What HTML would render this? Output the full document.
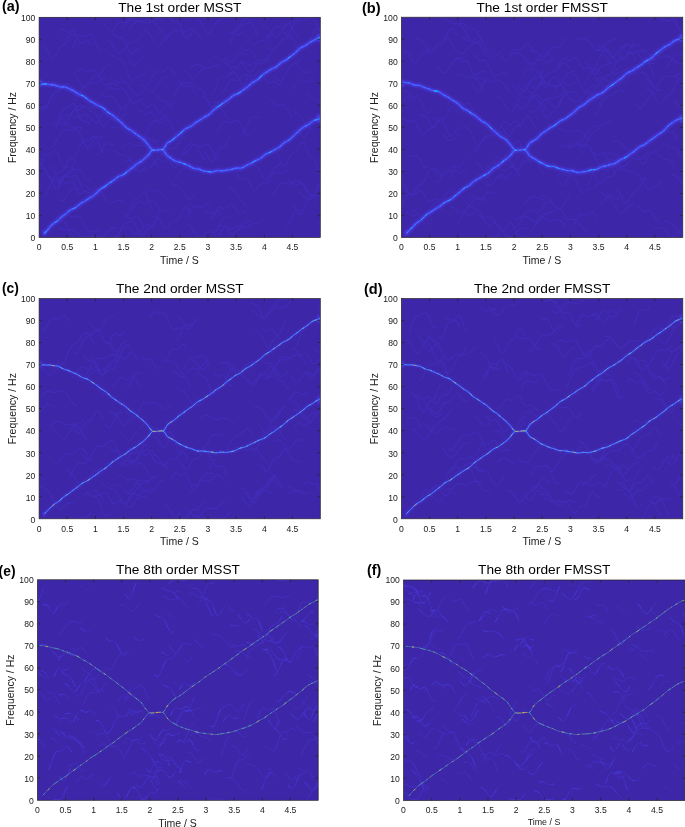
<!DOCTYPE html>
<html lang="en">
<head>
<meta charset="utf-8">
<title>MSST and FMSST time-frequency results</title>
<style>
html,body{margin:0;padding:0;background:#fff;}
body{width:685px;height:827px;overflow:hidden;}
svg{display:block;font-family:"Liberation Sans",Arial,Helvetica,sans-serif;}
.ln{fill:none;stroke-linecap:round;stroke-linejoin:round;mix-blend-mode:lighten;}
.ln2{fill:none;stroke-linecap:butt;stroke-linejoin:round;}
.ax{fill:none;stroke:#262626;stroke-width:0.7;}
.tk{font-size:8.6px;fill:#202020;}
.lb{font-size:10.5px;fill:#202020;}
.tt{font-size:13.7px;fill:#000;}
.pl{font-size:14.4px;font-weight:bold;fill:#000;}
</style>
</head>
<body>
<svg width="685" height="827" viewBox="0 0 685 827">
<defs>
<filter id="parula" color-interpolation-filters="sRGB" x="0" y="0" width="100%" height="100%" filterUnits="objectBoundingBox"><feComponentTransfer><feFuncR type="table" tableValues="0.2422 0.2504 0.2578 0.2647 0.2706 0.2751 0.2783 0.2803 0.2813 0.2810 0.2795 0.2760 0.2699 0.2602 0.2440 0.2206 0.1963 0.1834 0.1786 0.1764 0.1687 0.1540 0.1460 0.1380 0.1248 0.1113 0.0952 0.0689 0.0297 0.0036 0.0067 0.0433 0.0964 0.1408 0.1717 0.1938 0.2161 0.2470 0.2906 0.3406 0.3909 0.4456 0.5044 0.5616 0.6174 0.6720 0.7242 0.7738 0.8203 0.8634 0.9035 0.9393 0.9728 0.9956 0.9970 0.9952 0.9892 0.9786 0.9676 0.9610 0.9597 0.9628 0.9691 0.9769"/><feFuncG type="table" tableValues="0.1504 0.1650 0.1818 0.1978 0.2147 0.2342 0.2559 0.2782 0.3006 0.3228 0.3447 0.3667 0.3892 0.4123 0.4358 0.4603 0.4847 0.5074 0.5289 0.5499 0.5703 0.5902 0.6091 0.6276 0.6459 0.6635 0.6798 0.6948 0.7082 0.7203 0.7312 0.7411 0.7500 0.7584 0.7670 0.7758 0.7843 0.7918 0.7973 0.8008 0.8029 0.8024 0.7993 0.7942 0.7876 0.7793 0.7698 0.7598 0.7498 0.7406 0.7330 0.7288 0.7298 0.7434 0.7659 0.7893 0.8136 0.8386 0.8639 0.8890 0.9135 0.9373 0.9606 0.9839"/><feFuncB type="table" tableValues="0.6603 0.7076 0.7511 0.7952 0.8364 0.8710 0.8991 0.9221 0.9414 0.9579 0.9717 0.9829 0.9906 0.9952 0.9988 0.9973 0.9892 0.9798 0.9682 0.9520 0.9359 0.9218 0.9079 0.8973 0.8883 0.8763 0.8598 0.8394 0.8163 0.7917 0.7660 0.7394 0.7120 0.6842 0.6554 0.6251 0.5923 0.5567 0.5188 0.4789 0.4354 0.3909 0.3480 0.3045 0.2612 0.2227 0.1910 0.1646 0.1535 0.1596 0.1774 0.2010 0.2394 0.2371 0.2199 0.2028 0.1885 0.1766 0.1643 0.1537 0.1423 0.1265 0.1064 0.0805"/></feComponentTransfer></filter>
<filter id="b03" color-interpolation-filters="sRGB" filterUnits="userSpaceOnUse" x="0" y="0" width="685" height="827"><feGaussianBlur stdDeviation="0.3"/></filter>
<filter id="b05" color-interpolation-filters="sRGB" filterUnits="userSpaceOnUse" x="0" y="0" width="685" height="827"><feGaussianBlur stdDeviation="0.5"/></filter>
<filter id="b07" color-interpolation-filters="sRGB" filterUnits="userSpaceOnUse" x="0" y="0" width="685" height="827"><feGaussianBlur stdDeviation="0.7"/></filter>
<filter id="b1" color-interpolation-filters="sRGB" filterUnits="userSpaceOnUse" x="0" y="0" width="685" height="827"><feGaussianBlur stdDeviation="1.0"/></filter>
<filter id="b12" color-interpolation-filters="sRGB" filterUnits="userSpaceOnUse" x="0" y="0" width="685" height="827"><feGaussianBlur stdDeviation="1.2"/></filter>
<filter id="b2" color-interpolation-filters="sRGB" filterUnits="userSpaceOnUse" x="0" y="0" width="685" height="827"><feGaussianBlur stdDeviation="2.0"/></filter>
<clipPath id="clipa"><rect x="39.1" y="17.3" width="281.2" height="220.1"/></clipPath>
<clipPath id="clipb"><rect x="401.4" y="17.2" width="281.4" height="220.4"/></clipPath>
<clipPath id="clipc"><rect x="39.1" y="298.4" width="281.2" height="220.4"/></clipPath>
<clipPath id="clipd"><rect x="401.4" y="298.4" width="281.4" height="220.4"/></clipPath>
<clipPath id="clipe"><rect x="37.4" y="579.8" width="280.8" height="220.5"/></clipPath>
<clipPath id="clipf"><rect x="403.5" y="580.0" width="281.4" height="220.4"/></clipPath>
</defs>
<defs><path id="ra" d="M44.7 233.1 L45.6 232.2 L46.5 231.1 L47.4 230.1 L48.4 228.9 L49.3 227.8 L50.2 226.6 L51.1 225.6 L52.0 224.7 L52.9 224.0 L53.8 223.3 L54.7 222.7 L55.6 222.1 L56.5 221.6 L57.4 220.9 L58.3 220.1 L59.2 219.3 L60.1 218.4 L61.0 217.5 L61.9 216.7 L62.8 216.0 L63.8 215.2 L64.7 214.6 L65.6 213.9 L66.5 213.1 L67.4 212.4 L68.3 211.6 L69.2 210.9 L70.1 210.2 L71.0 209.7 L71.9 209.2 L72.8 208.9 L73.7 208.5 L74.6 208.1 L75.5 207.6 L76.4 207.0 L77.3 206.2 L78.2 205.4 L79.2 204.7 L80.1 203.9 L81.0 203.2 L81.9 202.7 L82.8 202.2 L83.7 201.7 L84.6 201.3 L85.5 200.8 L86.4 200.2 L87.3 199.6 L88.2 199.0 L89.1 198.3 L90.0 197.8 L90.9 197.2 L91.8 196.7 L92.7 196.2 L93.6 195.5 L94.6 194.8 L95.5 194.0 L96.4 193.1 L97.3 192.1 L98.2 191.1 L99.1 190.3 L100.0 189.5 L100.9 188.9 L101.8 188.3 L102.7 187.8 L103.6 187.3 L104.5 186.7 L105.4 186.1 L106.3 185.4 L107.2 184.7 L108.1 184.0 L109.0 183.3 L110.0 182.7 L110.9 182.1 L111.8 181.5 L112.7 180.9 L113.6 180.3 L114.5 179.6 L115.4 178.9 L116.3 178.1 L117.2 177.4 L118.1 176.8 L119.0 176.3 L119.9 175.9 L120.8 175.6 L121.7 175.3 L122.6 175.0 L123.5 174.5 L124.4 173.9 L125.4 173.3 L126.3 172.5 L127.2 171.7 L128.1 170.9 L129.0 170.2 L129.9 169.5 L130.8 168.9 L131.7 168.2 L132.6 167.6 L133.5 166.8 L134.4 166.1 L135.3 165.3 L136.2 164.5 L137.1 163.8 L138.0 163.2 L138.9 162.6 L139.8 162.1 L140.8 161.6 L141.7 161.1 L142.6 160.4 L143.5 159.6 L144.4 158.7 L148.3 155.1 L151.1 151.3 L152.8 150.0 M162.4 149.6 L164.1 148.3 L166.9 143.2 L170.8 141.0 L172.2 140.1 L173.6 139.0 L174.9 137.8 L176.3 136.6 L177.6 135.5 L179.0 134.5 L180.3 133.4 L181.7 132.1 L183.1 130.9 L184.4 129.7 L185.8 128.7 L187.1 128.0 L188.5 127.5 L189.9 126.9 L191.2 126.1 L192.6 125.0 L193.9 123.9 L195.3 122.8 L196.7 121.9 L198.0 121.1 L199.4 120.4 L200.7 119.5 L202.1 118.6 L203.4 117.6 L204.8 116.8 L206.2 116.1 L207.5 115.5 L208.9 114.6 L210.2 113.5 L211.6 112.1 L213.0 110.7 L214.3 109.4 L215.7 108.3 L217.0 107.4 L218.4 106.5 L219.7 105.6 L221.1 104.6 L222.5 103.5 L223.8 102.5 L225.2 101.7 L226.5 100.8 L227.9 99.9 L229.3 98.9 L230.6 97.7 L232.0 96.5 L233.3 95.5 L234.7 94.8 L236.1 94.3 L237.4 93.8 L238.8 93.2 L240.1 92.3 L241.5 91.3 L242.8 90.2 L244.2 89.3 L245.6 88.3 L246.9 87.4 L248.3 86.2 L249.6 85.0 L251.0 83.8 L252.4 82.7 L253.7 81.9 L255.1 81.1 L256.4 80.4 L257.8 79.4 L259.2 78.2 L260.5 76.8 L261.9 75.5 L263.2 74.4 L264.6 73.5 L265.9 72.6 L267.3 71.8 L268.7 70.8 L270.0 69.9 L271.4 69.1 L272.7 68.5 L274.1 68.0 L275.5 67.3 L276.8 66.4 L278.2 65.3 L279.5 64.1 L280.9 62.9 L282.3 61.9 L283.6 61.2 L285.0 60.5 L286.3 59.7 L287.7 58.7 L289.0 57.6 L290.4 56.5 L291.8 55.5 L293.1 54.6 L294.5 53.5 L295.8 52.3 L297.2 50.9 L298.6 49.6 L299.9 48.4 L301.3 47.4 L302.6 46.8 L304.0 46.2 L305.4 45.5 L306.7 44.6 L308.1 43.6 L309.4 42.6 L310.8 41.8 L312.1 41.1 L313.5 40.5 L314.9 39.8 L316.2 39.1 L317.6 38.4 L318.9 37.9 L320.3 37.5 M40.8 83.8 L41.7 84.0 L42.7 84.0 L43.6 84.0 L44.6 84.0 L45.5 84.0 L46.4 84.1 L47.4 84.3 L48.3 84.4 L49.3 84.6 L50.2 84.7 L51.1 84.8 L52.1 84.8 L53.0 84.8 L54.0 85.0 L54.9 85.2 L55.9 85.5 L56.8 85.8 L57.7 86.2 L58.7 86.6 L59.6 86.8 L60.6 87.0 L61.5 87.0 L62.4 87.0 L63.4 86.9 L64.3 87.0 L65.3 87.2 L66.2 87.4 L67.2 87.8 L68.1 88.3 L69.0 88.7 L70.0 89.1 L70.9 89.6 L71.9 90.0 L72.8 90.4 L73.7 90.9 L74.7 91.5 L75.6 92.2 L76.6 92.8 L77.5 93.5 L78.5 94.0 L79.4 94.5 L80.3 94.9 L81.3 95.2 L82.2 95.5 L83.2 96.0 L84.1 96.5 L85.0 97.2 L86.0 97.9 L86.9 98.7 L87.9 99.5 L88.8 100.2 L89.8 100.9 L90.7 101.4 L91.6 101.9 L92.6 102.4 L93.5 102.9 L94.5 103.5 L95.4 104.1 L96.3 104.6 L97.3 105.1 L98.2 105.6 L99.2 106.0 L100.1 106.3 L101.1 106.7 L102.0 107.2 L102.9 107.8 L103.9 108.6 L104.8 109.4 L105.8 110.4 L106.7 111.2 L107.6 112.0 L108.6 112.7 L109.5 113.4 L110.5 113.9 L111.4 114.5 L112.4 115.1 L113.3 115.8 L114.2 116.6 L115.2 117.4 L116.1 118.2 L117.1 119.0 L118.0 119.8 L118.9 120.5 L119.9 121.2 L120.8 122.0 L121.8 122.9 L122.7 123.9 L123.7 124.9 L124.6 125.9 L125.5 126.9 L126.5 127.7 L127.4 128.4 L128.4 128.9 L129.3 129.4 L130.2 129.9 L131.2 130.4 L132.1 131.0 L133.1 131.6 L134.0 132.4 L135.0 133.2 L135.9 134.0 L136.8 134.7 L137.8 135.3 L138.7 135.9 L139.7 136.6 L140.6 137.2 L141.5 137.9 L142.5 138.7 L143.4 139.5 L144.4 140.2 L148.3 145.0 L151.1 148.7 L152.8 150.0 M162.4 149.6 L164.1 151.1 L166.9 155.5 L170.8 158.1 L172.2 159.2 L173.6 160.1 L174.9 160.9 L176.3 161.3 L177.6 161.6 L179.0 161.9 L180.3 162.3 L181.7 162.8 L183.1 163.4 L184.4 163.9 L185.8 164.4 L187.1 164.9 L188.5 165.5 L189.9 166.2 L191.2 167.1 L192.6 167.9 L193.9 168.4 L195.3 168.7 L196.7 168.8 L198.0 169.0 L199.4 169.3 L200.7 169.8 L202.1 170.4 L203.4 170.9 L204.8 171.2 L206.2 171.4 L207.5 171.5 L208.9 171.7 L210.2 171.9 L211.6 172.0 L213.0 171.8 L214.3 171.4 L215.7 171.0 L217.0 170.6 L218.4 170.5 L219.7 170.6 L221.1 170.8 L222.5 170.9 L223.8 170.7 L225.2 170.5 L226.5 170.1 L227.9 169.9 L229.3 169.7 L230.6 169.6 L232.0 169.3 L233.3 168.9 L234.7 168.5 L236.1 168.2 L237.4 168.1 L238.8 168.2 L240.1 168.2 L241.5 168.0 L242.8 167.5 L244.2 166.8 L245.6 165.9 L246.9 165.2 L248.3 164.5 L249.6 163.9 L251.0 163.3 L252.4 162.5 L253.7 161.7 L255.1 160.9 L256.4 160.3 L257.8 159.7 L259.2 159.1 L260.5 158.3 L261.9 157.3 L263.2 156.1 L264.6 155.0 L265.9 154.0 L267.3 153.4 L268.7 152.8 L270.0 152.3 L271.4 151.6 L272.7 150.9 L274.1 150.0 L275.5 149.3 L276.8 148.6 L278.2 147.8 L279.5 146.9 L280.9 145.8 L282.3 144.5 L283.6 143.3 L285.0 142.3 L286.3 141.5 L287.7 140.8 L289.0 139.9 L290.4 138.9 L291.8 137.6 L293.1 136.2 L294.5 134.9 L295.8 133.7 L297.2 132.6 L298.6 131.4 L299.9 130.1 L301.3 128.8 L302.6 127.7 L304.0 126.8 L305.4 126.1 L306.7 125.4 L308.1 124.7 L309.4 123.8 L310.8 122.7 L312.1 121.7 L313.5 120.8 L314.9 120.2 L316.2 119.7 L317.6 119.4 L318.9 118.9 L320.3 118.5 M152.8 150.0 L155.1 150.4 L160.7 149.5 L162.4 149.6"/><path id="tea" d="M214.1 56.5 L215.2 56.3 L216.2 56.8 L217.3 57.8 L218.3 58.9 L219.4 59.8 L220.4 60.3 L221.5 60.2 L222.5 59.7 L223.5 59.2 L224.6 58.8 L225.6 59.1 L226.7 60.0 L227.7 61.7 L228.8 64.0 L229.8 66.5 L230.9 68.8 M43.7 46.1 L45.6 47.5 L47.6 50.5 L49.5 54.6 L51.4 58.0 L53.4 58.6 L55.3 56.1 L57.2 51.9 L59.2 48.2 L61.1 46.2 L63.0 45.3 L65.0 44.0 L66.9 41.0 L68.8 36.9 L70.8 33.8 L72.7 33.5 L74.6 36.4 M57.3 187.8 L59.5 183.7 L61.8 178.8 L64.0 175.9 L66.2 175.8 L68.4 177.1 L70.6 177.3 L72.8 176.1 L75.0 175.1 L77.3 176.9 L79.5 181.7 L81.7 187.6 L83.9 191.6 L86.1 192.6 L88.3 192.3 L90.5 192.8 L92.7 194.9 M141.2 84.5 L142.8 85.3 L144.4 86.6 L146.0 88.4 L147.6 90.2 L149.3 91.6 L150.9 92.3 L152.5 91.9 L154.1 90.5 L155.7 88.2 L157.3 85.5 L159.0 82.9 L160.6 80.6 L162.2 79.0 L163.8 78.0 L165.4 77.6 L167.1 77.2 M173.1 95.8 L174.3 94.2 L175.5 92.2 L176.7 90.0 L177.9 87.6 L179.2 85.5 L180.4 83.9 L181.6 82.7 L182.8 82.2 L184.0 82.1 L185.2 82.4 L186.4 82.8 L187.6 83.2 L188.8 83.3 L190.1 83.1 L191.3 82.5 L192.5 81.8 M319.1 101.4 L320.3 103.3 L320.3 104.5 L320.3 104.9 L320.3 104.6 L320.3 104.1 L320.3 104.0 L320.3 104.7 L320.3 106.5 L320.3 109.1 L320.3 111.8 L320.3 114.0 L320.3 115.3 L320.3 115.3 L320.3 114.3 L320.3 112.8 L320.3 111.6 M70.0 113.9 L72.3 111.8 L74.6 109.0 L77.0 106.6 L79.3 105.3 L81.7 105.4 L84.0 106.5 L86.4 107.9 L88.7 108.6 L91.1 108.4 L93.4 107.3 L95.7 106.3 L98.1 106.2 L100.4 107.5 L102.8 110.3 L105.1 113.7 L107.5 116.9 M56.0 216.9 L57.1 218.4 L58.1 219.7 L59.2 220.8 L60.3 221.4 L61.3 221.7 L62.4 221.7 L63.5 221.8 L64.6 222.2 L65.6 223.0 L66.7 224.5 L67.8 226.6 L68.8 229.0 L69.9 231.6 L71.0 234.0 L72.1 235.9 L73.1 236.7 M210.1 230.6 L211.4 231.9 L212.6 232.7 L213.9 232.8 L215.1 232.1 L216.4 230.5 L217.6 228.4 L218.9 225.9 L220.1 223.3 L221.4 221.0 L222.7 219.2 L223.9 217.9 L225.2 217.2 L226.4 216.9 L227.7 216.9 L228.9 216.8 L230.2 216.5 M221.9 93.0 L223.8 91.3 L225.7 88.2 L227.6 84.6 L229.5 81.6 L231.4 79.9 L233.3 79.6 L235.3 80.1 L237.2 80.5 L239.1 79.9 L241.0 78.3 L242.9 76.2 L244.8 74.7 L246.7 74.7 L248.6 76.2 L250.5 78.9 L252.4 81.7 M55.1 129.0 L57.2 125.0 L59.4 118.0 L61.6 111.9 L63.8 108.9 L65.9 108.3 L68.1 107.4 L70.3 105.0 L72.5 103.1 L74.6 104.5 L76.8 109.8 L79.0 116.2 L81.2 120.3 L83.3 121.1 L85.5 121.0 L87.7 122.1 L89.9 124.0 M143.1 103.8 L145.1 105.8 L147.0 106.9 L149.0 106.0 L150.9 104.5 L152.9 104.2 L154.8 106.3 L156.8 109.8 L158.7 112.3 L160.7 112.3 L162.6 109.8 L164.6 107.1 L166.5 105.8 L168.5 106.2 L170.4 106.6 L172.4 105.1 L174.3 101.4 M58.6 227.0 L61.2 228.8 L63.8 229.6 L66.3 229.6 L68.9 229.2 L71.5 229.2 L74.0 230.2 L76.6 232.4 L79.1 235.4 L81.7 236.7 L84.3 236.7 L86.8 236.7 L89.4 236.7 L92.0 236.7 L94.5 236.7 L97.1 236.4 L99.7 236.5 M105.3 91.1 L107.6 88.1 L109.9 87.5 L112.2 88.3 L114.5 89.1 L116.8 89.0 L119.1 88.2 L121.4 87.7 L123.7 88.8 L126.0 92.0 L128.3 96.5 L130.6 100.7 L132.9 103.1 L135.2 103.3 L137.5 101.8 L139.8 100.1 L142.0 99.2 M82.0 141.1 L83.3 142.7 L84.7 144.5 L86.1 145.9 L87.4 146.7 L88.8 146.5 L90.2 145.3 L91.5 143.4 L92.9 141.2 L94.3 139.1 L95.6 137.5 L97.0 136.6 L98.3 136.4 L99.7 136.8 L101.1 137.3 L102.4 137.5 L103.8 137.2 M114.1 150.7 L116.1 152.6 L118.1 154.1 L120.2 154.9 L122.2 155.1 L124.2 155.2 L126.2 155.7 L128.2 157.2 L130.3 159.6 L132.3 162.8 L134.3 166.2 L136.3 168.9 L138.4 170.3 L140.4 170.4 L142.4 169.4 L144.4 167.7 L146.4 166.0 M265.1 34.6 L267.1 36.5 L269.2 36.1 L271.3 33.1 L273.4 29.3 L275.5 26.8 L277.6 26.5 L279.6 27.5 L281.7 28.0 L283.8 26.8 L285.9 24.5 L288.0 23.2 L290.1 24.4 L292.1 28.1 L294.2 32.3 L296.3 35.1 L298.4 35.6 M58.5 33.6 L60.6 29.8 L62.8 28.9 L64.9 30.6 L67.1 32.4 L69.2 32.2 L71.4 30.8 L73.5 30.6 L75.7 33.7 L77.8 38.6 L80.0 42.3 L82.1 43.0 L84.3 41.5 L86.4 40.8 L88.6 42.1 L90.7 44.1 L92.9 44.0 M240.5 61.5 L242.6 63.5 L244.6 66.4 L246.6 69.5 L248.6 71.7 L250.6 72.2 L252.6 70.7 L254.6 67.8 L256.6 64.4 L258.6 61.7 L260.6 60.2 L262.6 59.6 L264.6 59.4 L266.7 58.5 L268.7 56.7 L270.7 54.1 L272.7 51.7 M191.3 67.5 L193.1 65.8 L194.8 64.7 L196.5 64.2 L198.3 64.4 L200.0 65.0 L201.7 66.0 L203.5 67.0 L205.2 67.7 L206.9 68.0 L208.7 67.9 L210.4 67.4 L212.2 66.6 L213.9 65.8 L215.6 65.4 L217.4 65.4 L219.1 66.1 M58.1 183.2 L60.0 180.7 L61.8 180.4 L63.6 181.8 L65.4 183.1 L67.2 183.3 L69.0 182.3 L70.8 181.4 L72.6 182.1 L74.4 184.9 L76.2 189.0 L78.0 192.7 L79.8 194.3 L81.6 193.8 L83.4 192.2 L85.2 191.1 L87.0 191.4 M111.8 127.8 L113.4 127.4 L115.0 127.0 L116.6 126.8 L118.2 127.0 L119.8 127.6 L121.4 128.6 L123.0 130.0 L124.6 131.5 L126.2 133.0 L127.8 134.1 L129.4 134.7 L131.0 134.8 L132.6 134.2 L134.2 133.2 L135.8 131.7 L137.4 130.1 M165.1 41.6 L167.4 38.4 L169.7 35.0 L172.0 32.2 L174.3 30.6 L176.5 30.4 L178.8 31.0 L181.1 31.8 L183.4 32.0 L185.7 31.5 L188.0 30.4 L190.3 29.3 L192.6 29.1 L194.8 30.3 L197.1 32.8 L199.4 36.2 L201.7 39.6 M234.9 31.4 L235.8 31.0 L236.7 30.2 L237.7 29.2 L238.6 27.8 L239.6 26.4 L240.5 24.8 L241.5 23.3 L242.4 21.9 L243.3 20.7 L244.3 19.8 L245.2 19.2 L246.2 18.9 L247.1 18.9 L248.0 19.1 L249.0 19.4 L249.9 19.7 M40.1 106.6 L42.5 108.7 L44.8 108.8 L47.1 105.8 L49.5 100.7 L51.8 95.8 L54.1 92.9 L56.5 91.8 L58.8 91.2 L61.1 89.5 L63.5 86.4 L65.8 83.6 L68.1 83.1 L70.4 85.6 L72.8 90.0 L75.1 93.9 L77.4 95.8 M298.1 191.7 L300.8 193.4 L303.4 196.0 L306.1 198.6 L308.7 199.9 L311.3 198.9 L314.0 195.7 L316.6 191.3 L319.2 186.9 L320.3 183.6 L320.3 181.7 L320.3 180.3 L320.3 178.6 L320.3 175.8 L320.3 172.1 L320.3 168.7 L320.3 166.7 M61.0 123.2 L62.5 124.6 L64.0 125.0 L65.5 124.1 L67.1 121.9 L68.6 118.9 L70.1 115.7 L71.6 112.9 L73.1 110.9 L74.6 109.8 L76.1 109.5 L77.6 109.6 L79.1 109.5 L80.6 108.9 L82.1 107.7 L83.7 106.3 L85.2 105.1 M293.1 131.1 L294.3 130.6 L295.5 129.9 L296.7 129.5 L297.9 130.0 L299.1 131.5 L300.4 133.6 L301.6 135.7 L302.8 137.2 L304.0 137.5 L305.2 136.6 L306.4 134.6 L307.6 132.3 L308.9 130.3 L310.1 129.1 L311.3 128.8 L312.5 129.1 M156.8 95.4 L157.7 96.5 L158.6 97.6 L159.5 98.7 L160.4 99.6 L161.3 100.4 L162.2 100.9 L163.2 101.3 L164.1 101.5 L165.0 101.7 L165.9 101.9 L166.8 102.2 L167.7 102.8 L168.6 103.6 L169.5 104.8 L170.4 106.2 L171.3 108.0 M284.6 32.6 L287.2 35.4 L289.7 35.7 L292.2 37.5 L294.8 43.1 L297.3 48.9 L299.8 49.6 L302.4 45.9 L304.9 43.0 L307.4 42.6 L310.0 41.0 L312.5 35.4 L315.0 29.6 L317.6 28.6 L320.1 32.1 L320.3 35.2 L320.3 35.6 M139.6 144.3 L140.8 142.6 L142.0 140.9 L143.2 139.4 L144.4 138.3 L145.6 137.7 L146.8 137.7 L148.0 138.1 L149.2 138.9 L150.4 139.8 L151.5 140.7 L152.7 141.3 L153.9 141.6 L155.1 141.6 L156.3 141.3 L157.5 140.8 L158.7 140.3 M95.4 153.0 L96.6 154.0 L97.8 154.5 L99.0 154.0 L100.2 152.7 L101.4 150.7 L102.6 148.4 L103.8 146.3 L105.0 144.6 L106.2 143.7 L107.4 143.6 L108.6 143.9 L109.8 144.5 L111.0 144.9 L112.2 144.8 L113.4 144.1 L114.6 142.8 M219.3 235.3 L220.7 232.7 L222.0 230.2 L223.3 228.2 L224.7 227.0 L226.0 226.6 L227.3 226.8 L228.7 227.5 L230.0 228.3 L231.3 228.7 L232.7 228.6 L234.0 228.0 L235.4 227.1 L236.7 226.2 L238.0 225.6 L239.4 225.8 L240.7 226.8 M144.3 29.7 L145.9 30.7 L147.4 31.5 L149.0 32.9 L150.5 35.1 L152.1 38.2 L153.7 41.6 L155.2 44.6 L156.8 46.5 L158.3 46.8 L159.9 45.4 L161.5 42.9 L163.0 40.1 L164.6 37.5 L166.1 35.7 L167.7 34.5 L169.2 33.6 M223.8 62.5 L224.7 62.7 L225.7 63.3 L226.6 64.0 L227.5 64.7 L228.4 65.5 L229.4 66.1 L230.3 66.6 L231.2 66.9 L232.2 67.0 L233.1 67.0 L234.0 66.9 L234.9 66.9 L235.9 67.0 L236.8 67.4 L237.7 68.0 L238.6 69.0 M170.5 18.0 L171.8 18.8 L173.1 20.6 L174.4 21.7 L175.7 22.0 L177.0 22.1 L178.3 22.6 L179.6 24.1 L180.9 26.8 L182.2 30.4 L183.5 34.0 L184.9 36.7 L186.2 38.1 L187.5 37.9 L188.8 36.6 L190.1 34.9 L191.4 33.7 M73.6 155.7 L75.5 155.1 L77.4 151.8 L79.4 147.1 L81.3 142.9 L83.2 140.6 L85.2 140.3 L87.1 140.6 L89.1 140.0 L91.0 138.3 L92.9 136.5 L94.9 136.2 L96.8 138.5 L98.7 143.0 L100.7 148.0 L102.6 151.5 L104.6 152.9 M111.3 78.4 L113.2 79.9 L115.1 81.1 L117.0 81.9 L118.8 82.1 L120.7 81.8 L122.6 81.6 L124.5 81.9 L126.3 83.1 L128.2 85.1 L130.1 87.8 L132.0 90.7 L133.8 93.1 L135.7 94.7 L137.6 95.0 L139.4 94.3 L141.3 92.7 M44.4 197.2 L45.8 195.2 L47.1 192.2 L48.5 188.7 L49.9 185.2 L51.2 182.5 L52.6 180.7 L54.0 179.8 L55.3 179.7 L56.7 179.9 L58.1 179.9 L59.4 179.4 L60.8 178.4 L62.2 177.1 L63.6 176.2 L64.9 176.0 L66.3 177.0 M273.8 75.2 L275.5 76.9 L277.2 78.8 L278.8 80.3 L280.5 80.8 L282.1 80.0 L283.8 78.0 L285.5 75.0 L287.1 71.6 L288.8 68.4 L290.4 65.9 L292.1 64.3 L293.8 63.4 L295.4 62.8 L297.1 62.0 L298.8 60.7 L300.4 58.8 M284.5 228.2 L285.5 227.9 L286.5 227.1 L287.6 225.8 L288.6 224.0 L289.6 221.9 L290.7 219.6 L291.7 217.3 L292.7 215.3 L293.7 213.5 L294.8 212.2 L295.8 211.4 L296.8 210.9 L297.8 210.8 L298.9 210.8 L299.9 210.8 L300.9 210.6 M286.4 181.7 L288.4 180.5 L290.4 181.1 L292.5 182.7 L294.5 184.2 L296.6 184.8 L298.6 184.3 L300.6 183.6 L302.7 183.9 L304.7 185.7 L306.7 189.0 L308.8 193.0 L310.8 196.2 L312.8 197.8 L314.9 197.7 L316.9 196.4 L318.9 195.3 M242.8 133.5 L243.8 132.1 L244.9 130.3 L245.9 128.2 L246.9 125.9 L247.9 123.7 L249.0 121.6 L250.0 119.8 L251.0 118.4 L252.0 117.5 L253.1 117.0 L254.1 116.8 L255.1 116.8 L256.2 117.0 L257.2 117.2 L258.2 117.2 L259.2 117.1 M114.2 236.7 L116.0 236.7 L117.8 236.7 L119.6 233.2 L121.3 228.8 L123.1 225.2 L124.9 223.1 L126.7 222.5 L128.5 222.4 L130.3 221.8 L132.1 220.1 L133.9 217.8 L135.6 215.9 L137.4 215.6 L139.2 217.3 L141.0 220.6 L142.8 224.3 M40.9 105.4 L42.0 106.2 L43.0 106.6 L44.1 106.8 L45.1 106.5 L46.2 105.8 L47.2 104.7 L48.3 103.2 L49.3 101.5 L50.4 99.7 L51.4 97.8 L52.5 96.1 L53.5 94.5 L54.6 93.2 L55.6 92.2 L56.7 91.5 L57.7 91.1 M240.3 91.3 L242.7 88.7 L245.2 82.7 L247.7 77.4 L250.2 75.7 L252.7 76.0 L255.2 75.0 L257.7 72.1 L260.2 70.3 L262.7 72.7 L265.1 78.0 L267.6 82.1 L270.1 82.5 L272.6 81.4 L275.1 81.9 L277.6 84.1 L280.1 84.6 M75.4 73.1 L78.0 69.4 L80.6 68.4 L83.3 69.7 L85.9 71.3 L88.5 71.6 L91.1 70.7 L93.8 70.2 L96.4 71.9 L99.0 76.1 L101.6 81.1 L104.3 84.5 L106.9 85.2 L109.5 84.0 L112.1 83.1 L114.7 83.7 L117.4 85.2 M51.4 147.7 L53.3 146.0 L55.2 143.2 L57.1 139.7 L59.0 136.1 L60.9 133.1 L62.8 131.0 L64.7 130.0 L66.6 129.8 L68.5 130.0 L70.4 130.0 L72.3 129.6 L74.2 128.7 L76.1 127.6 L78.1 126.8 L80.0 126.9 L81.9 128.3 M250.7 164.3 L252.6 165.0 L254.4 165.4 L256.3 166.1 L258.1 167.9 L260.0 170.8 L261.8 174.2 L263.7 177.1 L265.5 178.5 L267.3 178.0 L269.2 175.8 L271.0 172.7 L272.9 169.7 L274.7 167.5 L276.6 166.2 L278.4 165.3 L280.3 163.9 M262.4 25.0 L264.7 25.7 L267.0 27.3 L269.3 29.9 L271.6 33.1 L273.8 35.7 L276.1 36.7 L278.4 35.6 L280.7 32.8 L282.9 29.2 L285.2 26.0 L287.5 23.8 L289.8 22.6 L292.1 21.8 L294.3 20.5 L296.6 18.0 L298.9 18.0 M293.9 62.8 L295.1 63.3 L296.2 64.0 L297.3 64.9 L298.4 65.9 L299.5 67.1 L300.6 68.4 L301.7 69.6 L302.8 70.8 L303.9 71.8 L305.0 72.5 L306.2 73.0 L307.3 73.1 L308.4 72.8 L309.5 72.2 L310.6 71.2 L311.7 70.1 M61.3 118.9 L63.0 120.0 L64.7 121.6 L66.5 123.3 L68.2 124.8 L69.9 125.9 L71.6 126.6 L73.3 127.2 L75.0 128.0 L76.7 129.3 L78.4 131.3 L80.1 134.1 L81.8 137.6 L83.5 141.3 L85.2 144.9 L86.9 147.9 L88.6 150.0 M122.8 163.0 L123.8 162.0 L124.8 161.2 L125.8 160.7 L126.8 160.5 L127.9 160.5 L128.9 160.6 L129.9 161.0 L130.9 161.4 L131.9 161.9 L132.9 162.3 L133.9 162.7 L135.0 163.0 L136.0 163.1 L137.0 163.1 L138.0 162.9 L139.0 162.5 M237.1 175.2 L239.0 177.1 L240.9 178.7 L242.7 178.9 L244.6 178.3 L246.5 178.3 L248.4 180.3 L250.2 184.1 L252.1 188.2 L254.0 190.4 L255.8 190.0 L257.7 187.7 L259.6 185.2 L261.5 184.0 L263.3 184.0 L265.2 183.7 L267.1 181.6 M58.4 198.8 L59.9 200.2 L61.5 201.1 L63.0 200.8 L64.6 199.3 L66.1 196.8 L67.7 193.9 L69.2 191.2 L70.7 189.4 L72.3 188.7 L73.8 188.7 L75.4 189.1 L76.9 189.1 L78.5 188.4 L80.0 186.8 L81.5 184.8 L83.1 182.8 M88.9 231.6 L90.6 233.3 L92.3 235.3 L94.0 236.7 L95.7 236.7 L97.3 236.7 L99.0 236.7 L100.7 236.7 L102.4 236.7 L104.1 236.4 L105.8 234.0 L107.5 231.7 L109.2 229.9 L110.9 228.8 L112.6 228.2 L114.3 228.1 L116.0 228.0 M144.2 169.3 L145.8 170.0 L147.4 169.9 L149.0 168.8 L150.6 166.9 L152.2 164.6 L153.8 162.4 L155.4 160.7 L157.0 159.7 L158.6 159.6 L160.2 160.1 L161.8 160.8 L163.4 161.2 L165.0 161.2 L166.6 160.5 L168.2 159.2 L169.8 157.7 M141.8 137.1 L144.0 137.0 L146.3 134.0 L148.6 129.0 L150.8 124.2 L153.1 121.4 L155.4 120.6 L157.6 120.7 L159.9 119.9 L162.2 118.1 L164.4 116.3 L166.7 116.5 L169.0 119.7 L171.3 125.1 L173.5 130.5 L175.8 134.2 L178.1 135.7 M273.1 194.7 L275.7 190.0 L278.2 186.1 L280.7 183.9 L283.3 183.3 L285.8 183.7 L288.4 184.0 L290.9 183.6 L293.5 182.4 L296.0 181.1 L298.5 180.9 L301.1 182.4 L303.6 185.6 L306.2 189.6 L308.7 193.2 L311.3 195.2 L313.8 195.5 M72.4 48.0 L74.2 44.7 L76.0 40.4 L77.9 36.8 L79.7 35.0 L81.5 35.1 L83.4 36.0 L85.2 36.3 L87.1 35.6 L88.9 34.3 L90.7 33.8 L92.6 35.4 L94.4 39.2 L96.2 44.1 L98.1 48.4 L99.9 50.8 L101.7 51.3 M86.7 117.0 L87.7 116.4 L88.7 116.0 L89.7 116.3 L90.8 117.1 L91.8 118.5 L92.8 120.1 L93.8 121.7 L94.8 122.7 L95.8 123.1 L96.8 122.6 L97.9 121.4 L98.9 119.6 L99.9 117.7 L100.9 116.0 L101.9 114.8 L102.9 114.2 M184.9 218.0 L186.5 217.7 L188.1 215.9 L189.7 213.2 L191.2 210.2 L192.8 207.7 L194.4 206.3 L196.0 206.1 L197.6 206.7 L199.2 207.4 L200.8 207.6 L202.4 207.1 L204.0 205.9 L205.6 204.5 L207.2 203.8 L208.8 204.4 L210.4 206.3 M212.4 94.7 L214.6 90.1 L216.8 84.6 L219.0 80.0 L221.2 77.5 L223.5 76.8 L225.7 76.8 L227.9 76.2 L230.1 74.6 L232.3 72.8 L234.5 72.3 L236.7 74.2 L239.0 78.1 L241.2 82.8 L243.4 86.4 L245.6 87.9 L247.8 87.7 M125.5 214.4 L127.6 217.1 L129.8 218.3 L131.9 219.2 L134.1 221.7 L136.2 226.4 L138.4 232.0 L140.5 235.5 L142.7 235.6 L144.9 232.7 L147.0 229.5 L149.2 227.5 L151.3 226.6 L153.5 224.7 L155.6 220.5 L157.8 214.8 L160.0 210.0 M294.5 111.8 L296.5 113.3 L298.5 113.9 L300.6 115.2 L302.6 118.5 L304.6 123.1 L306.7 127.0 L308.7 128.3 L310.8 126.4 L312.8 122.6 L314.8 118.8 L316.9 116.4 L318.9 114.8 L320.3 112.5 L320.3 108.4 L320.3 102.9 L320.3 97.9"/><path id="toa" d="M204.3 151.8 L205.9 153.3 L207.6 156.0 L209.3 159.2 L211.0 161.5 L212.6 161.8 L214.3 159.6 L216.0 155.9 L217.7 152.1 L219.3 149.2 L221.0 147.8 L222.7 147.1 L224.4 145.9 L226.1 143.6 L227.7 140.3 L229.4 137.2 L231.1 135.6 M217.1 132.7 L219.2 128.7 L221.2 124.6 L223.3 121.9 L225.3 121.1 L227.4 121.9 L229.4 122.7 L231.4 122.6 L233.5 121.4 L235.5 120.2 L237.6 120.3 L239.6 122.6 L241.7 126.6 L243.7 131.0 L245.8 134.2 L247.8 135.4 L249.8 135.0 M276.3 153.7 L278.9 157.3 L281.4 163.1 L284.0 166.4 L286.6 163.7 L289.1 157.7 L291.7 153.8 L294.3 152.6 L296.8 150.1 L299.4 145.2 L301.9 141.8 L304.5 144.3 L307.1 150.8 L309.6 156.0 L312.2 158.1 L314.8 160.8 L317.3 166.2 M128.9 29.6 L131.1 26.8 L133.3 24.1 L135.5 22.1 L137.7 21.0 L139.9 21.0 L142.1 21.6 L144.4 22.3 L146.6 22.8 L148.8 22.6 L151.0 21.7 L153.2 20.4 L155.4 19.2 L157.6 18.5 L159.9 18.7 L162.1 19.9 L164.3 22.0 M317.4 222.2 L319.8 222.5 L320.3 223.4 L320.3 224.3 L320.3 224.8 L320.3 224.8 L320.3 224.5 L320.3 224.5 L320.3 225.4 L320.3 227.5 L320.3 230.6 L320.3 234.1 L320.3 236.7 L320.3 236.7 L320.3 236.7 L320.3 236.7 L320.3 236.7 M127.8 165.1 L128.8 165.1 L129.8 165.4 L130.9 166.1 L131.9 167.0 L132.9 168.0 L133.9 169.1 L134.9 170.0 L135.9 170.7 L136.9 171.1 L137.9 171.2 L138.9 171.2 L139.9 170.9 L140.9 170.6 L141.9 170.3 L143.0 170.3 L144.0 170.5 M268.0 183.1 L269.3 180.3 L270.5 177.6 L271.7 175.3 L272.9 173.6 L274.1 172.5 L275.3 172.0 L276.5 171.9 L277.7 172.2 L279.0 172.5 L280.2 172.8 L281.4 172.8 L282.6 172.4 L283.8 171.9 L285.0 171.2 L286.2 170.6 L287.5 170.4 M269.7 99.3 L271.1 99.9 L272.5 101.1 L273.9 102.6 L275.3 104.0 L276.7 104.9 L278.1 105.2 L279.5 105.0 L280.9 104.6 L282.3 104.4 L283.7 104.6 L285.1 105.7 L286.5 107.5 L287.9 110.0 L289.3 112.7 L290.7 115.1 L292.1 116.9 M46.8 173.5 L48.6 175.0 L50.5 177.5 L52.3 181.6 L54.1 186.1 L55.9 189.1 L57.7 189.2 L59.5 186.3 L61.3 182.3 L63.2 178.8 L65.0 176.8 L66.8 175.6 L68.6 173.8 L70.4 170.4 L72.2 166.1 L74.0 162.6 L75.9 161.8 M122.9 228.0 L124.8 227.2 L126.8 227.1 L128.7 228.1 L130.6 229.9 L132.6 232.0 L134.5 233.7 L136.4 234.1 L138.4 233.1 L140.3 231.0 L142.2 228.5 L144.2 226.3 L146.1 225.0 L148.0 224.8 L150.0 225.1 L151.9 225.4 L153.8 225.0 M230.0 32.9 L232.4 32.2 L234.8 33.6 L237.2 34.9 L239.6 34.4 L242.1 33.2 L244.5 33.3 L246.9 36.2 L249.3 40.7 L251.7 44.4 L254.1 45.3 L256.5 43.5 L258.9 41.1 L261.3 40.2 L263.8 40.5 L266.2 40.3 L268.6 37.5 M144.9 85.7 L146.8 85.6 L148.7 83.5 L150.6 80.0 L152.5 76.2 L154.4 73.3 L156.3 71.8 L158.2 71.7 L160.1 72.2 L162.0 72.1 L163.9 71.1 L165.8 69.3 L167.7 67.7 L169.6 67.3 L171.5 68.8 L173.4 71.9 L175.3 75.7 M228.0 187.5 L229.2 188.3 L230.3 188.8 L231.5 189.2 L232.7 189.7 L233.9 190.3 L235.0 191.1 L236.2 192.3 L237.4 193.9 L238.6 195.7 L239.8 197.7 L240.9 199.8 L242.1 201.7 L243.3 203.4 L244.5 204.6 L245.7 205.3 L246.8 205.4 M124.2 217.4 L126.0 217.8 L127.8 215.4 L129.5 210.6 L131.3 205.2 L133.0 201.1 L134.8 199.1 L136.5 198.5 L138.3 197.7 L140.0 195.8 L141.8 193.2 L143.5 191.7 L145.3 192.7 L147.0 196.5 L148.8 201.6 L150.5 205.9 L152.3 208.3 M238.9 45.3 L240.9 46.9 L242.9 49.1 L244.9 50.5 L246.8 50.7 L248.8 50.2 L250.8 50.3 L252.8 52.2 L254.7 55.8 L256.7 60.0 L258.7 63.1 L260.7 64.2 L262.7 63.2 L264.6 61.5 L266.6 60.3 L268.6 60.4 L270.6 61.3 M109.9 54.8 L112.2 55.1 L114.4 57.1 L116.7 58.8 L119.0 59.3 L121.3 59.9 L123.6 62.6 L125.9 67.8 L128.1 74.2 L130.4 78.9 L132.7 80.3 L135.0 78.9 L137.3 77.0 L139.5 76.0 L141.8 75.8 L144.1 74.5 L146.4 70.6 M186.9 224.0 L188.2 225.0 L189.4 225.5 L190.7 226.2 L192.0 227.4 L193.3 229.5 L194.5 232.3 L195.8 235.4 L197.1 236.7 L198.4 236.7 L199.7 236.7 L200.9 236.7 L202.2 236.7 L203.5 236.3 L204.8 234.0 L206.1 232.3 L207.3 231.2 M191.2 82.7 L193.0 84.3 L194.8 86.3 L196.5 87.7 L198.3 88.2 L200.1 88.4 L201.8 89.3 L203.6 91.5 L205.3 95.4 L207.1 99.9 L208.9 104.0 L210.6 106.3 L212.4 106.6 L214.2 105.2 L215.9 103.3 L217.7 101.9 L219.5 101.3 M122.3 28.6 L124.9 25.6 L127.4 22.4 L129.9 20.2 L132.4 19.4 L134.9 20.0 L137.5 21.1 L140.0 22.0 L142.5 22.0 L145.0 21.1 L147.5 20.0 L150.1 19.5 L152.6 20.4 L155.1 22.8 L157.6 26.3 L160.1 29.7 L162.7 32.3 M230.4 43.0 L232.1 38.3 L233.8 33.6 L235.5 29.7 L237.2 27.2 L238.9 26.1 L240.6 25.8 L242.4 25.8 L244.1 25.3 L245.8 24.4 L247.5 23.1 L249.2 22.3 L250.9 22.6 L252.6 24.4 L254.3 27.7 L256.0 31.7 L257.7 35.7 M122.9 148.4 L125.2 145.0 L127.6 143.2 L130.0 143.0 L132.3 143.9 L134.7 145.0 L137.1 145.7 L139.4 145.7 L141.8 145.4 L144.2 145.8 L146.5 147.4 L148.9 150.7 L151.3 155.2 L153.6 159.9 L156.0 163.9 L158.4 166.3 L160.7 167.1 M181.5 154.5 L183.8 151.4 L186.1 148.0 L188.3 145.2 L190.6 143.8 L192.9 143.9 L195.2 144.8 L197.5 145.8 L199.8 146.2 L202.1 145.9 L204.4 145.1 L206.7 144.8 L208.9 145.6 L211.2 148.0 L213.5 151.8 L215.8 156.1 L218.1 160.0 M267.4 48.1 L269.2 49.2 L270.9 49.8 L272.6 49.7 L274.3 48.9 L276.0 47.4 L277.8 45.5 L279.5 43.4 L281.2 41.4 L282.9 39.7 L284.6 38.5 L286.3 38.0 L288.1 37.9 L289.8 38.2 L291.5 38.6 L293.2 38.9 L294.9 38.8 M211.2 218.9 L213.4 216.0 L215.6 211.6 L217.7 208.2 L219.9 207.1 L222.1 208.0 L224.2 208.7 L226.4 207.8 L228.6 205.6 L230.7 203.9 L232.9 204.8 L235.1 208.1 L237.2 212.0 L239.4 214.1 L241.6 213.7 L243.7 212.2 L245.9 211.6 M95.5 115.0 L97.4 116.0 L99.3 116.0 L101.2 115.2 L103.1 114.3 L105.0 113.8 L106.9 114.3 L108.9 115.8 L110.8 118.1 L112.7 120.3 L114.6 121.8 L116.5 121.9 L118.4 120.6 L120.3 118.5 L122.2 116.2 L124.2 114.5 L126.1 113.7 M144.7 134.7 L147.3 137.7 L149.8 138.6 L152.3 139.2 L154.9 142.0 L157.4 147.3 L159.9 152.6 L162.5 154.6 L165.0 152.9 L167.6 150.0 L170.1 148.6 L172.6 148.8 L175.2 148.3 L177.7 144.9 L180.2 139.9 L182.8 136.5 L185.3 137.0 M177.7 81.5 L178.9 81.3 L180.1 82.0 L181.3 83.3 L182.5 84.9 L183.7 86.1 L185.0 86.8 L186.2 86.8 L187.4 86.4 L188.6 85.8 L189.8 85.5 L191.0 86.0 L192.2 87.3 L193.4 89.5 L194.7 92.1 L195.9 94.7 L197.1 96.8 M60.8 220.6 L63.3 216.3 L65.9 214.6 L68.5 215.5 L71.0 217.1 L73.6 217.4 L76.1 216.5 L78.7 216.0 L81.2 218.0 L83.8 222.6 L86.3 227.9 L88.9 231.3 L91.4 231.8 L94.0 230.7 L96.5 230.1 L99.1 231.0 L101.6 232.4 M149.7 188.5 L150.9 189.4 L152.1 190.0 L153.2 190.5 L154.4 190.7 L155.6 190.9 L156.7 191.0 L157.9 191.1 L159.1 191.4 L160.3 191.8 L161.4 192.6 L162.6 193.6 L163.8 194.9 L164.9 196.4 L166.1 198.0 L167.3 199.7 L168.4 201.4 M107.5 39.9 L109.7 41.5 L111.9 44.2 L114.1 47.8 L116.3 51.2 L118.5 53.4 L120.7 53.4 L122.9 51.4 L125.1 48.3 L127.3 45.2 L129.4 43.2 L131.6 42.3 L133.8 42.0 L136.0 41.3 L138.2 39.5 L140.4 36.8 L142.6 34.0 M39.1 168.8 L39.1 168.6 L40.5 165.0 L42.5 159.6 L44.5 155.5 L46.5 154.2 L48.5 154.5 L50.5 154.1 L52.5 152.1 L54.5 150.1 L56.5 150.7 L58.5 154.8 L60.5 160.6 L62.6 165.1 L64.6 166.8 L66.6 167.0 L68.6 167.8 M314.6 236.7 L316.6 236.7 L318.5 236.7 L320.3 236.7 L320.3 234.5 L320.3 230.3 L320.3 227.3 L320.3 225.8 L320.3 225.4 L320.3 225.2 L320.3 224.3 L320.3 222.5 L320.3 220.4 L320.3 219.3 L320.3 220.1 L320.3 222.9 L320.3 227.2 M196.4 19.0 L198.4 19.8 L200.4 21.2 L202.4 24.2 L204.4 28.3 L206.4 32.0 L208.4 33.5 L210.4 32.1 L212.4 28.7 L214.4 25.0 L216.4 22.5 L218.4 21.2 L220.4 20.2 L222.4 18.1 L224.4 18.0 L226.4 18.0 L228.4 18.0 M175.3 178.8 L176.9 176.6 L178.5 174.0 L180.1 171.6 L181.6 169.6 L183.2 168.4 L184.8 168.0 L186.4 168.3 L188.0 168.9 L189.5 169.6 L191.1 169.9 L192.7 169.7 L194.3 169.1 L195.9 168.1 L197.4 167.2 L199.0 166.7 L200.6 166.9 M48.6 165.5 L50.2 166.2 L51.8 166.9 L53.4 168.6 L54.9 171.7 L56.5 175.7 L58.1 179.1 L59.7 180.9 L61.2 180.4 L62.8 178.2 L64.4 175.4 L66.0 173.4 L67.6 172.6 L69.1 172.6 L70.7 172.4 L72.3 170.9 L73.9 168.2 M236.1 231.0 L237.7 230.3 L239.3 229.0 L240.9 227.1 L242.5 225.1 L244.2 223.2 L245.8 221.8 L247.4 220.9 L249.0 220.8 L250.6 221.2 L252.2 221.9 L253.8 222.7 L255.5 223.2 L257.1 223.3 L258.7 222.9 L260.3 222.0 L261.9 221.0 M72.8 168.9 L73.9 169.6 L75.0 169.9 L76.1 169.8 L77.2 169.7 L78.3 169.6 L79.4 170.0 L80.5 170.8 L81.6 172.2 L82.7 174.0 L83.8 176.1 L84.9 178.1 L86.0 179.8 L87.1 180.8 L88.2 181.0 L89.4 180.5 L90.5 179.3 M314.5 37.6 L316.9 37.8 L319.3 39.4 L320.3 42.3 L320.3 45.5 L320.3 47.7 L320.3 47.9 L320.3 46.4 L320.3 44.1 L320.3 42.5 L320.3 42.3 L320.3 43.4 L320.3 44.7 L320.3 45.1 L320.3 44.0 L320.3 41.9 L320.3 40.1 M170.7 182.7 L172.2 184.1 L173.7 184.9 L175.2 185.2 L176.7 185.2 L178.2 185.5 L179.6 186.3 L181.1 187.9 L182.6 190.2 L184.1 193.0 L185.6 195.7 L187.1 198.0 L188.5 199.2 L190.0 199.3 L191.5 198.2 L193.0 196.4 L194.5 194.3 M317.2 168.3 L319.0 170.1 L320.3 172.5 L320.3 175.2 L320.3 177.2 L320.3 178.0 L320.3 177.1 L320.3 174.7 L320.3 171.5 L320.3 168.3 L320.3 165.9 L320.3 164.5 L320.3 163.8 L320.3 163.4 L320.3 162.6 L320.3 161.0 L320.3 158.6 M39.1 162.5 L39.1 164.7 L41.1 165.2 L43.6 166.5 L46.1 170.9 L48.5 176.5 L51.0 179.6 L53.5 178.1 L56.0 174.4 L58.5 172.0 L61.0 171.5 L63.4 170.4 L65.9 166.3 L68.4 160.6 L70.9 157.2 L73.4 158.4 L75.8 162.0 M292.3 89.8 L293.7 87.4 L295.0 85.1 L296.4 83.0 L297.8 81.3 L299.2 80.2 L300.5 79.8 L301.9 79.8 L303.3 80.2 L304.6 80.7 L306.0 81.2 L307.4 81.5 L308.8 81.4 L310.1 81.0 L311.5 80.4 L312.9 79.8 L314.2 79.3 M89.4 110.4 L91.7 111.7 L94.0 112.4 L96.2 114.7 L98.5 119.4 L100.8 124.4 L103.1 126.7 L105.4 125.2 L107.6 121.9 L109.9 119.6 L112.2 119.2 L114.5 119.1 L116.8 117.0 L119.1 112.7 L121.3 108.7 L123.6 107.8 L125.9 110.5 M51.8 123.8 L54.1 124.2 L56.4 123.3 L58.6 121.3 L60.9 118.8 L63.2 116.5 L65.4 115.2 L67.7 115.1 L70.0 115.9 L72.2 117.0 L74.5 117.7 L76.8 117.6 L79.0 116.6 L81.3 115.3 L83.6 114.2 L85.8 114.1 L88.1 115.3 M183.1 70.7 L184.6 70.8 L186.2 71.6 L187.8 73.3 L189.4 75.4 L190.9 77.5 L192.5 78.8 L194.1 78.9 L195.7 77.8 L197.2 75.6 L198.8 73.0 L200.4 70.6 L201.9 68.9 L203.5 68.0 L205.1 67.9 L206.7 67.9 L208.2 67.6 M288.4 34.9 L290.4 31.0 L292.4 26.7 L294.4 23.1 L296.4 21.0 L298.4 20.4 L300.4 20.8 L302.4 21.0 L304.4 20.4 L306.4 18.9 L308.4 18.0 L310.4 18.0 L312.4 18.0 L314.4 20.6 L316.4 24.4 L318.5 27.8 L320.3 30.0 M112.1 33.0 L113.8 33.9 L115.5 35.6 L117.2 37.0 L118.9 37.4 L120.6 37.2 L122.3 37.5 L124.0 39.3 L125.7 42.8 L127.5 47.3 L129.2 51.3 L130.9 53.5 L132.6 53.6 L134.3 52.0 L136.0 50.0 L137.7 48.7 L139.4 48.4 M202.2 96.2 L203.9 97.1 L205.6 98.5 L207.4 100.1 L209.1 101.4 L210.8 102.1 L212.5 102.3 L214.2 102.3 L215.9 102.4 L217.6 103.1 L219.3 104.8 L221.0 107.3 L222.7 110.4 L224.5 113.7 L226.2 116.5 L227.9 118.5 L229.6 119.4 M307.6 94.0 L309.8 95.7 L312.1 97.9 L314.3 100.0 L316.5 100.8 L318.8 100.0 L320.3 97.9 L320.3 95.2 L320.3 93.0 L320.3 91.9 L320.3 92.0 L320.3 92.8 L320.3 93.3 L320.3 92.9 L320.3 91.5 L320.3 89.4 L320.3 87.6 M169.0 160.3 L171.3 163.9 L173.6 167.1 L175.9 166.9 L178.2 162.9 L180.4 157.6 L182.7 154.0 L185.0 152.8 L187.3 152.1 L189.6 149.8 L191.9 146.2 L194.1 143.9 L196.4 145.3 L198.7 150.1 L201.0 155.4 L203.3 158.5 L205.5 159.5 M84.6 184.6 L87.1 187.2 L89.6 189.4 L92.1 190.4 L94.6 190.2 L97.1 189.9 L99.6 190.9 L102.1 193.7 L104.5 197.6 L107.0 201.3 L109.5 203.4 L112.0 203.3 L114.5 201.8 L117.0 200.4 L119.5 200.2 L122.0 201.2 L124.5 202.5 M229.2 73.0 L230.8 72.9 L232.5 72.0 L234.1 70.5 L235.8 68.5 L237.4 66.4 L239.1 64.6 L240.7 63.3 L242.4 62.7 L244.0 62.7 L245.7 63.2 L247.3 63.9 L249.0 64.5 L250.7 64.7 L252.3 64.3 L254.0 63.5 L255.6 62.3 M73.8 100.9 L75.9 98.9 L77.9 96.0 L80.0 92.6 L82.1 89.2 L84.1 86.4 L86.2 84.3 L88.3 83.2 L90.3 82.7 L92.4 82.7 L94.5 82.8 L96.5 82.5 L98.6 81.7 L100.7 80.6 L102.7 79.3 L104.8 78.4 L106.9 78.3 M292.1 204.7 L294.0 206.4 L296.0 209.6 L298.0 213.1 L300.0 214.8 L302.0 213.4 L304.0 209.3 L305.9 204.2 L307.9 200.1 L309.9 197.7 L311.9 196.1 L313.9 193.7 L315.9 189.9 L317.8 185.5 L319.8 182.5 L320.3 182.5 L320.3 185.5 M128.6 59.7 L129.6 61.2 L130.7 62.7 L131.7 64.1 L132.8 65.1 L133.8 65.6 L134.9 65.4 L135.9 64.6 L136.9 63.3 L138.0 61.7 L139.0 60.1 L140.1 58.6 L141.1 57.5 L142.1 56.9 L143.2 56.9 L144.2 57.2 L145.3 57.8 M150.2 214.6 L152.7 216.5 L155.2 216.3 L157.7 216.9 L160.2 220.4 L162.7 225.6 L165.2 228.4 L167.7 226.8 L170.2 223.1 L172.7 220.8 L175.2 220.6 L177.7 219.8 L180.2 215.9 L182.7 210.4 L185.2 207.2 L187.7 208.4 L190.2 211.8 M103.8 24.0 L105.6 25.7 L107.4 28.3 L109.2 30.9 L111.0 32.1 L112.8 31.3 L114.6 28.8 L116.4 25.7 L118.3 23.3 L120.1 22.3 L121.9 22.5 L123.7 23.0 L125.5 22.7 L127.3 21.1 L129.1 18.6 L130.9 18.0 L132.7 18.0 M100.6 93.5 L102.3 94.7 L104.1 96.1 L105.9 96.8 L107.7 96.7 L109.5 96.2 L111.3 95.9 L113.0 96.7 L114.8 98.9 L116.6 102.1 L118.4 105.4 L120.2 107.8 L122.0 108.6 L123.7 107.7 L125.5 105.7 L127.3 103.5 L129.1 101.9 M153.2 166.0 L154.3 164.1 L155.3 162.1 L156.3 160.2 L157.4 158.5 L158.4 157.0 L159.5 155.8 L160.5 154.9 L161.5 154.3 L162.6 154.0 L163.6 154.0 L164.7 154.1 L165.7 154.3 L166.8 154.6 L167.8 154.9 L168.8 155.0 L169.9 155.1 M129.5 209.9 L132.0 209.3 L134.5 206.0 L137.0 202.5 L139.6 201.2 L142.1 202.5 L144.6 204.1 L147.1 203.8 L149.7 201.8 L152.2 200.4 L154.7 201.9 L157.2 205.9 L159.7 210.0 L162.3 211.5 L164.8 210.7 L167.3 209.9 L169.8 211.0 M73.1 73.4 L75.5 75.4 L77.9 78.9 L80.2 83.3 L82.6 86.8 L85.0 87.9 L87.3 86.1 L89.7 82.4 L92.1 78.6 L94.5 76.2 L96.8 75.2 L99.2 74.4 L101.6 72.6 L103.9 69.3 L106.3 65.8 L108.7 63.9 L111.1 64.9 M217.5 226.5 L219.6 226.2 L221.7 225.5 L223.7 225.6 L225.8 227.1 L227.8 229.9 L229.9 232.7 L232.0 234.3 L234.0 233.9 L236.1 231.8 L238.1 229.1 L240.2 227.1 L242.3 226.4 L244.3 226.8 L246.4 227.1 L248.4 226.4 L250.5 224.2 M231.5 62.7 L232.6 61.5 L233.6 59.9 L234.7 58.1 L235.8 56.3 L236.9 54.7 L238.0 53.4 L239.1 52.6 L240.2 52.3 L241.2 52.4 L242.3 52.9 L243.4 53.4 L244.5 54.0 L245.6 54.4 L246.7 54.5 L247.8 54.3 L248.8 53.7 M203.7 212.8 L204.8 211.6 L205.9 211.1 L207.0 211.1 L208.1 211.5 L209.2 212.1 L210.3 212.7 L211.4 213.1 L212.5 213.2 L213.6 213.0 L214.7 212.5 L215.8 211.9 L216.9 211.3 L218.0 210.9 L219.1 210.9 L220.2 211.4 L221.3 212.4 M139.2 111.6 L141.1 110.6 L143.0 111.9 L144.9 113.7 L146.7 114.3 L148.6 113.3 L150.5 112.1 L152.3 112.6 L154.2 115.5 L156.1 119.6 L158.0 122.7 L159.8 123.4 L161.7 121.9 L163.6 120.1 L165.4 119.5 L167.3 120.4 L169.2 121.4"/></defs>
<g clip-path="url(#clipa)">
<g filter="url(#parula)">
<rect x="36.1" y="14.3" width="287.2" height="226.1" fill="#000"/>
<g class="ln" filter="url(#b07)" stroke="#060606" stroke-width="1.1"><use href="#tea"/><use href="#toa"/></g>
<use href="#tea" class="ln" filter="url(#b05)" stroke="#090909" stroke-width="0.6"/>
<g filter="url(#b12)" fill="#1c1c1c" style="mix-blend-mode:lighten"><ellipse cx="318.9" cy="37.8" rx="2.1" ry="3.9"/><ellipse cx="318.9" cy="118.5" rx="2.1" ry="3.9"/><ellipse cx="40.2" cy="83.3" rx="1.8" ry="3.3"/><ellipse cx="44.2" cy="232.6" rx="1.4" ry="2.7"/></g>
<use href="#ra" class="ln" filter="url(#b1)" stroke="#151515" stroke-width="3.6"/>
<use href="#ra" class="ln" filter="url(#b07)" stroke="#222222" stroke-width="1.3"/>
<g filter="url(#b03)">
<use href="#ra" class="ln" stroke="#383838" stroke-width="0.6"/>
<path class="ln" stroke="#787878" stroke-width="0.7" d="M252.4 162.5 L255.1 160.9 M104.5 186.7 L106.3 185.4 M101.8 188.3 L103.6 187.3 M314.9 120.2 L317.6 119.4 M85.0 97.2 L86.9 98.7 M102.9 107.8 L104.8 109.4 M44.6 84.0 L46.4 84.1 M44.7 233.1 L46.5 231.1 M217.0 107.4 L219.7 105.6 M180.3 133.4 L183.1 130.9 M207.5 171.5 L210.2 171.9 M219.7 105.6 L222.5 103.5 M55.6 222.1 L57.4 220.9 M237.4 93.8 L240.1 92.3 M124.4 173.9 L126.3 172.5 M73.7 208.5 L75.5 207.6 M317.6 38.4 L320.3 37.5 M42.7 84.0 L44.6 84.0 M268.7 152.8 L271.4 151.6 M81.3 95.2 L83.2 96.0 M287.7 58.7 L290.4 56.5 M110.0 182.7 L111.8 181.5 M259.2 78.2 L261.9 75.5 M183.1 163.4 L185.8 164.4 M107.6 112.0 L109.5 113.4 M172.2 140.1 L174.9 137.8"/>
<use href="#ra" class="ln" stroke="#5c5c5c" stroke-width="0.6" stroke-dasharray="1.2 3.4 0.8 5.1 1.6 2.7 0.7 6.3"/>
</g>
</g>
<path class="ln2" filter="url(#b05)" stroke="#58c8b0" stroke-opacity="0.7" stroke-width="0.9" stroke-dasharray="1.6 6.6" d="M152.8 150.2 L163.0 149.5"/>
</g>
<path class="ax" d="M67.2 237.4 v-2.8 M67.2 17.3 v2.8 M95.4 237.4 v-2.8 M95.4 17.3 v2.8 M123.5 237.4 v-2.8 M123.5 17.3 v2.8 M151.7 237.4 v-2.8 M151.7 17.3 v2.8 M179.8 237.4 v-2.8 M179.8 17.3 v2.8 M208.0 237.4 v-2.8 M208.0 17.3 v2.8 M236.1 237.4 v-2.8 M236.1 17.3 v2.8 M264.3 237.4 v-2.8 M264.3 17.3 v2.8 M292.4 237.4 v-2.8 M292.4 17.3 v2.8 M39.1 215.4 h2.8 M320.3 215.4 h-2.8 M39.1 193.4 h2.8 M320.3 193.4 h-2.8 M39.1 171.4 h2.8 M320.3 171.4 h-2.8 M39.1 149.4 h2.8 M320.3 149.4 h-2.8 M39.1 127.4 h2.8 M320.3 127.4 h-2.8 M39.1 105.3 h2.8 M320.3 105.3 h-2.8 M39.1 83.3 h2.8 M320.3 83.3 h-2.8 M39.1 61.3 h2.8 M320.3 61.3 h-2.8 M39.1 39.3 h2.8 M320.3 39.3 h-2.8"/>
<rect class="ax" x="39.1" y="17.3" width="281.2" height="220.1"/>
<g class="tk" text-anchor="middle">
<text x="39.1" y="250.2">0</text>
<text x="67.2" y="250.2">0.5</text>
<text x="95.4" y="250.2">1</text>
<text x="123.5" y="250.2">1.5</text>
<text x="151.7" y="250.2">2</text>
<text x="179.8" y="250.2">2.5</text>
<text x="208.0" y="250.2">3</text>
<text x="236.1" y="250.2">3.5</text>
<text x="264.3" y="250.2">4</text>
<text x="292.4" y="250.2">4.5</text>
</g>
<g class="tk" text-anchor="end">
<text x="35.4" y="241.2">0</text>
<text x="35.4" y="219.2">10</text>
<text x="35.4" y="197.2">20</text>
<text x="35.4" y="175.2">30</text>
<text x="35.4" y="153.2">40</text>
<text x="35.4" y="131.2">50</text>
<text x="35.4" y="109.1">60</text>
<text x="35.4" y="87.1">70</text>
<text x="35.4" y="65.1">80</text>
<text x="35.4" y="43.1">90</text>
<text x="35.4" y="21.1">100</text>
</g>
<text class="lb" text-anchor="middle" x="179.4" y="263.9">Time / S</text>
<text class="lb" text-anchor="middle" transform="translate(16.1 127.5) rotate(-90)">Frequency / Hz</text>
<text class="tt" text-anchor="middle" x="179.8" y="11.6">The 1st order MSST</text>
<text class="pl" style="font-size:14.4px" x="1.9" y="10.8">(a)</text>
<defs><path id="rb" d="M407.0 232.9 L407.9 231.9 L408.8 230.9 L409.8 229.9 L410.7 229.0 L411.6 228.1 L412.5 227.2 L413.4 226.2 L414.3 225.3 L415.2 224.3 L416.1 223.5 L417.0 222.7 L417.9 222.1 L418.8 221.5 L419.7 221.0 L420.6 220.3 L421.5 219.5 L422.4 218.7 L423.4 217.7 L424.3 216.7 L425.2 215.8 L426.1 214.9 L427.0 214.2 L427.9 213.6 L428.8 213.1 L429.7 212.6 L430.6 212.1 L431.5 211.5 L432.4 210.9 L433.3 210.3 L434.2 209.7 L435.1 209.0 L436.0 208.5 L436.9 208.0 L437.9 207.5 L438.8 206.9 L439.7 206.4 L440.6 205.7 L441.5 205.0 L442.4 204.3 L443.3 203.5 L444.2 202.8 L445.1 202.2 L446.0 201.7 L446.9 201.3 L447.8 200.9 L448.7 200.6 L449.6 200.2 L450.5 199.6 L451.5 199.0 L452.4 198.3 L453.3 197.5 L454.2 196.6 L455.1 195.9 L456.0 195.1 L456.9 194.4 L457.8 193.7 L458.7 193.0 L459.6 192.2 L460.5 191.4 L461.4 190.6 L462.3 189.8 L463.2 189.0 L464.1 188.3 L465.0 187.7 L466.0 187.3 L466.9 186.8 L467.8 186.3 L468.7 185.8 L469.6 185.2 L470.5 184.4 L471.4 183.6 L472.3 182.7 L473.2 181.9 L474.1 181.2 L475.0 180.5 L475.9 180.0 L476.8 179.5 L477.7 179.0 L478.6 178.5 L479.6 178.0 L480.5 177.5 L481.4 176.9 L482.3 176.3 L483.2 175.8 L484.1 175.4 L485.0 174.9 L485.9 174.5 L486.8 174.0 L487.7 173.5 L488.6 172.8 L489.5 172.0 L490.4 171.1 L491.3 170.2 L492.2 169.3 L493.2 168.5 L494.1 167.9 L495.0 167.3 L495.9 166.8 L496.8 166.3 L497.7 165.7 L498.6 165.1 L499.5 164.4 L500.4 163.6 L501.3 162.8 L502.2 162.1 L503.1 161.4 L504.0 160.7 L504.9 160.0 L505.8 159.4 L506.7 158.7 L510.7 155.2 L513.5 151.4 L515.2 150.1 M524.8 149.7 L526.5 148.3 L529.3 143.3 L533.2 140.9 L534.6 140.2 L535.9 139.3 L537.3 138.1 L538.7 136.7 L540.0 135.2 L541.4 134.0 L542.7 132.9 L544.1 132.0 L545.5 131.1 L546.8 130.2 L548.2 129.2 L549.5 128.2 L550.9 127.4 L552.3 126.7 L553.6 126.0 L555.0 125.2 L556.3 124.1 L557.7 123.0 L559.1 121.8 L560.4 120.9 L561.8 120.2 L563.1 119.6 L564.5 119.0 L565.9 118.3 L567.2 117.3 L568.6 116.2 L569.9 115.2 L571.3 114.2 L572.7 113.2 L574.0 112.1 L575.4 110.8 L576.7 109.4 L578.1 108.2 L579.5 107.1 L580.8 106.3 L582.2 105.6 L583.5 104.9 L584.9 104.0 L586.3 102.8 L587.6 101.6 L589.0 100.4 L590.3 99.4 L591.7 98.6 L593.1 97.8 L594.4 96.9 L595.8 95.9 L597.1 95.1 L598.5 94.4 L599.9 93.8 L601.2 93.3 L602.6 92.6 L603.9 91.6 L605.3 90.4 L606.7 89.1 L608.0 87.8 L609.4 86.8 L610.7 86.0 L612.1 85.1 L613.5 84.2 L614.8 83.1 L616.2 82.0 L617.5 80.9 L618.9 80.0 L620.3 79.1 L621.6 78.1 L623.0 76.9 L624.3 75.5 L625.7 74.2 L627.1 73.1 L628.4 72.3 L629.8 71.7 L631.1 71.2 L632.5 70.5 L633.8 69.7 L635.2 68.7 L636.6 67.8 L637.9 66.9 L639.3 66.1 L640.6 65.2 L642.0 64.2 L643.4 63.1 L644.7 62.0 L646.1 61.0 L647.4 60.3 L648.8 59.6 L650.2 58.9 L651.5 58.0 L652.9 56.7 L654.2 55.4 L655.6 54.0 L657.0 52.8 L658.3 51.8 L659.7 50.8 L661.0 49.7 L662.4 48.7 L663.8 47.6 L665.1 46.7 L666.5 46.0 L667.8 45.4 L669.2 44.7 L670.6 43.8 L671.9 42.8 L673.3 41.6 L674.6 40.7 L676.0 40.0 L677.4 39.5 L678.7 39.2 L680.1 38.8 L681.4 38.3 L682.8 37.8 M403.1 82.6 L404.0 82.7 L405.0 82.7 L405.9 82.7 L406.9 82.7 L407.8 82.8 L408.7 82.9 L409.7 83.1 L410.6 83.4 L411.6 83.9 L412.5 84.3 L413.5 84.7 L414.4 85.0 L415.3 85.2 L416.3 85.2 L417.2 85.3 L418.2 85.3 L419.1 85.4 L420.1 85.6 L421.0 86.0 L421.9 86.4 L422.9 86.9 L423.8 87.3 L424.8 87.7 L425.7 88.0 L426.6 88.3 L427.6 88.6 L428.5 88.9 L429.5 89.2 L430.4 89.6 L431.4 90.1 L432.3 90.4 L433.2 90.7 L434.2 90.9 L435.1 91.0 L436.1 91.1 L437.0 91.2 L438.0 91.4 L438.9 91.8 L439.8 92.3 L440.8 92.9 L441.7 93.6 L442.7 94.3 L443.6 94.9 L444.6 95.4 L445.5 95.9 L446.4 96.3 L447.4 96.8 L448.3 97.3 L449.3 97.9 L450.2 98.6 L451.2 99.2 L452.1 99.9 L453.0 100.5 L454.0 101.0 L454.9 101.5 L455.9 102.1 L456.8 102.7 L457.7 103.5 L458.7 104.3 L459.6 105.3 L460.6 106.2 L461.5 107.1 L462.5 107.9 L463.4 108.6 L464.3 109.1 L465.3 109.5 L466.2 110.0 L467.2 110.4 L468.1 111.0 L469.1 111.6 L470.0 112.3 L470.9 113.0 L471.9 113.6 L472.8 114.2 L473.8 114.8 L474.7 115.3 L475.7 116.0 L476.6 116.7 L477.5 117.4 L478.5 118.3 L479.4 119.2 L480.4 120.0 L481.3 120.7 L482.2 121.3 L483.2 121.8 L484.1 122.3 L485.1 122.8 L486.0 123.4 L487.0 124.1 L487.9 124.9 L488.8 125.9 L489.8 126.9 L490.7 127.8 L491.7 128.8 L492.6 129.6 L493.6 130.4 L494.5 131.2 L495.4 132.0 L496.4 132.9 L497.3 133.8 L498.3 134.7 L499.2 135.5 L500.2 136.3 L501.1 136.9 L502.0 137.4 L503.0 137.9 L503.9 138.4 L504.9 139.0 L505.8 139.6 L506.7 140.4 L510.7 145.0 L513.5 148.8 L515.2 150.1 M524.8 149.7 L526.5 151.2 L529.3 155.6 L533.2 158.1 L534.6 158.8 L535.9 159.6 L537.3 160.5 L538.7 161.4 L540.0 162.1 L541.4 162.8 L542.7 163.4 L544.1 164.1 L545.5 164.9 L546.8 165.6 L548.2 166.1 L549.5 166.4 L550.9 166.4 L552.3 166.4 L553.6 166.5 L555.0 166.9 L556.3 167.5 L557.7 168.1 L559.1 168.5 L560.4 168.8 L561.8 169.1 L563.1 169.4 L564.5 169.8 L565.9 170.3 L567.2 170.5 L568.6 170.6 L569.9 170.6 L571.3 170.6 L572.7 170.9 L574.0 171.3 L575.4 171.9 L576.7 172.3 L578.1 172.5 L579.5 172.4 L580.8 172.2 L582.2 171.9 L583.5 171.8 L584.9 171.6 L586.3 171.4 L587.6 171.0 L589.0 170.5 L590.3 170.1 L591.7 169.8 L593.1 169.7 L594.4 169.7 L595.8 169.5 L597.1 169.1 L598.5 168.4 L599.9 167.7 L601.2 167.0 L602.6 166.6 L603.9 166.3 L605.3 166.0 L606.7 165.7 L608.0 165.3 L609.4 164.8 L610.7 164.5 L612.1 164.2 L613.5 164.0 L614.8 163.5 L616.2 162.8 L617.5 161.8 L618.9 160.8 L620.3 159.9 L621.6 159.2 L623.0 158.6 L624.3 158.1 L625.7 157.4 L627.1 156.5 L628.4 155.5 L629.8 154.4 L631.1 153.5 L632.5 152.6 L633.8 151.6 L635.2 150.5 L636.6 149.2 L637.9 148.0 L639.3 147.0 L640.6 146.3 L642.0 145.7 L643.4 145.2 L644.7 144.4 L646.1 143.5 L647.4 142.4 L648.8 141.3 L650.2 140.3 L651.5 139.4 L652.9 138.5 L654.2 137.5 L655.6 136.4 L657.0 135.3 L658.3 134.4 L659.7 133.5 L661.0 132.8 L662.4 131.9 L663.8 130.8 L665.1 129.4 L666.5 127.8 L667.8 126.3 L669.2 125.1 L670.6 124.0 L671.9 123.1 L673.3 122.2 L674.6 121.3 L676.0 120.5 L677.4 119.7 L678.7 119.2 L680.1 118.9 L681.4 118.5 L682.8 118.0 M515.2 150.1 L517.5 150.4 L523.1 149.6 L524.8 149.7"/><path id="teb" d="M594.0 115.9 L595.9 114.3 L597.7 111.3 L599.6 107.3 L601.4 103.1 L603.3 99.6 L605.2 97.4 L607.0 96.3 L608.9 96.0 L610.8 95.7 L612.6 94.9 L614.5 93.4 L616.3 91.5 L618.2 89.8 L620.1 89.3 L621.9 90.2 L623.8 92.5 M659.5 57.7 L661.6 57.2 L663.6 56.4 L665.7 55.8 L667.7 56.0 L669.8 57.0 L671.8 58.7 L673.8 60.6 L675.9 62.3 L677.9 63.0 L680.0 62.6 L682.0 61.1 L682.8 58.9 L682.8 56.4 L682.8 54.2 L682.8 52.8 L682.8 52.1 M570.1 97.8 L571.8 99.3 L573.5 100.6 L575.2 101.6 L576.9 101.9 L578.7 101.3 L580.4 99.9 L582.1 97.9 L583.8 95.3 L585.5 92.7 L587.2 90.3 L588.9 88.4 L590.6 87.1 L592.3 86.3 L594.0 86.0 L595.7 85.8 L597.4 85.5 M500.1 125.6 L502.4 127.0 L504.7 130.9 L507.0 135.1 L509.3 136.2 L511.6 133.1 L513.9 128.5 L516.2 125.8 L518.5 125.4 L520.8 124.7 L523.1 121.7 L525.4 117.5 L527.7 115.6 L530.0 118.0 L532.3 122.8 L534.6 126.5 L537.0 127.6 M474.4 151.8 L476.1 150.8 L477.9 148.5 L479.6 145.2 L481.4 141.7 L483.1 138.7 L484.9 136.7 L486.7 135.8 L488.4 135.8 L490.2 136.0 L491.9 136.0 L493.7 135.3 L495.4 134.1 L497.2 132.7 L499.0 131.7 L500.7 131.7 L502.5 133.0 M615.8 187.9 L617.7 189.7 L619.7 192.9 L621.6 197.4 L623.6 201.7 L625.5 203.7 L627.5 202.5 L629.4 198.9 L631.3 194.9 L633.3 192.2 L635.2 190.9 L637.2 189.8 L639.1 187.5 L641.1 183.7 L643.0 179.8 L645.0 178.0 L646.9 179.4 M634.6 103.1 L635.8 104.5 L637.1 106.0 L638.4 107.2 L639.7 107.9 L641.0 107.9 L642.3 107.2 L643.6 105.8 L644.8 103.8 L646.1 101.6 L647.4 99.3 L648.7 97.4 L650.0 95.8 L651.3 94.8 L652.5 94.3 L653.8 94.2 L655.1 94.2 M595.5 81.2 L596.8 80.0 L598.0 79.0 L599.3 78.2 L600.6 77.8 L601.8 77.8 L603.1 78.1 L604.3 78.6 L605.6 79.3 L606.8 80.2 L608.1 81.0 L609.4 81.8 L610.6 82.4 L611.9 82.9 L613.1 83.1 L614.4 83.1 L615.6 83.0 M659.8 21.7 L662.0 19.1 L664.3 19.6 L666.5 21.0 L668.7 21.0 L670.9 19.6 L673.1 19.0 L675.4 21.1 L677.6 25.7 L679.8 30.1 L682.0 31.6 L682.8 30.1 L682.8 27.8 L682.8 27.1 L682.8 27.7 L682.8 27.4 L682.8 24.1 M406.7 212.3 L408.3 213.4 L409.9 215.0 L411.5 216.0 L413.1 216.0 L414.7 215.2 L416.3 214.3 L417.9 214.2 L419.5 215.4 L421.2 218.0 L422.8 221.0 L424.4 223.4 L426.0 224.5 L427.6 224.0 L429.2 222.2 L430.8 220.3 L432.4 219.0 M562.4 217.1 L563.9 218.3 L565.5 219.1 L567.0 219.5 L568.5 219.6 L570.0 219.4 L571.5 219.2 L573.0 219.2 L574.5 219.5 L576.0 220.2 L577.5 221.4 L579.0 223.1 L580.5 225.0 L582.0 227.0 L583.5 228.8 L585.0 230.3 L586.5 231.2 M535.1 226.1 L537.0 223.2 L538.9 220.5 L540.9 218.6 L542.8 217.7 L544.7 218.0 L546.6 219.0 L548.6 220.1 L550.5 220.8 L552.4 220.9 L554.3 220.4 L556.3 219.8 L558.2 219.6 L560.1 220.5 L562.1 222.5 L564.0 225.6 L565.9 229.2 M529.1 111.4 L531.5 112.1 L533.9 111.7 L536.2 109.9 L538.6 107.0 L541.0 103.8 L543.3 100.8 L545.7 98.9 L548.0 98.1 L550.4 98.1 L552.8 98.3 L555.1 98.1 L557.5 97.2 L559.9 95.4 L562.2 93.4 L564.6 91.8 L567.0 91.2 M591.2 151.5 L593.3 152.4 L595.5 154.2 L597.7 154.9 L599.9 154.1 L602.0 153.0 L604.2 153.4 L606.4 156.1 L608.5 160.2 L610.7 163.3 L612.9 164.0 L615.0 162.2 L617.2 159.7 L619.4 158.2 L621.5 158.2 L623.7 158.4 L625.9 157.2 M567.6 148.0 L570.1 144.1 L572.5 142.1 L574.9 142.1 L577.3 143.4 L579.7 144.6 L582.1 145.0 L584.6 144.9 L587.0 145.1 L589.4 146.9 L591.8 150.6 L594.2 155.9 L596.6 161.3 L599.1 165.4 L601.5 167.3 L603.9 167.5 L606.3 167.0 M665.5 68.9 L666.7 67.6 L668.0 65.8 L669.2 63.7 L670.4 61.5 L671.6 59.3 L672.8 57.4 L674.0 55.9 L675.2 54.8 L676.4 54.2 L677.6 54.1 L678.8 54.2 L680.0 54.6 L681.2 54.9 L682.4 55.2 L682.8 55.2 L682.8 55.0 M646.3 78.7 L648.6 81.6 L651.0 84.4 L653.4 86.2 L655.8 86.1 L658.2 84.3 L660.6 81.3 L663.0 78.4 L665.4 76.5 L667.8 75.9 L670.2 76.2 L672.6 76.5 L675.0 76.2 L677.4 74.8 L679.8 72.9 L682.2 71.5 L682.8 71.4 M500.4 127.5 L501.7 124.9 L502.9 123.0 L504.1 122.0 L505.4 121.9 L506.6 122.6 L507.8 123.6 L509.1 124.4 L510.3 124.6 L511.5 124.0 L512.8 123.0 L514.0 121.9 L515.2 121.2 L516.5 121.3 L517.7 122.4 L518.9 124.4 L520.2 126.8 M401.7 207.2 L403.9 202.2 L406.1 197.2 L408.3 194.5 L410.5 194.3 L412.7 194.9 L414.9 194.4 L417.2 192.3 L419.4 190.4 L421.6 190.8 L423.8 193.9 L426.0 198.3 L428.2 201.4 L430.4 201.9 L432.6 200.4 L434.9 199.3 L437.1 199.7 M627.1 51.9 L629.6 53.5 L632.1 53.0 L634.6 51.8 L637.2 52.5 L639.7 55.7 L642.2 59.5 L644.7 60.8 L647.3 59.0 L649.8 56.0 L652.3 54.4 L654.8 55.1 L657.3 55.9 L659.9 54.5 L662.4 50.8 L664.9 47.0 L667.4 46.0 M492.6 222.3 L494.9 223.1 L497.2 224.5 L499.4 226.7 L501.7 229.8 L504.0 233.2 L506.3 236.1 L508.6 236.9 L510.9 236.9 L513.1 236.0 L515.4 233.6 L517.7 231.1 L520.0 229.4 L522.3 228.6 L524.6 228.4 L526.8 228.3 L529.1 227.6 M493.3 159.4 L495.7 164.0 L498.1 167.5 L500.5 166.3 L502.9 160.6 L505.3 154.6 L507.7 151.3 L510.1 149.9 L512.5 147.2 L514.9 142.9 L517.3 140.4 L519.7 142.9 L522.1 149.4 L524.5 155.4 L526.8 158.5 L529.2 160.3 L531.6 163.7 M475.9 161.8 L478.5 164.0 L481.1 167.8 L483.7 170.3 L486.4 169.4 L489.0 166.0 L491.6 163.0 L494.2 162.5 L496.9 163.8 L499.5 164.0 L502.1 162.0 L504.7 159.0 L507.4 158.2 L510.0 160.9 L512.6 165.3 L515.2 168.4 L517.9 169.0 M575.1 37.8 L577.6 39.0 L580.1 39.2 L582.7 39.0 L585.2 39.3 L587.8 40.9 L590.3 43.8 L592.8 47.2 L595.4 49.9 L597.9 50.9 L600.4 49.8 L603.0 47.2 L605.5 44.2 L608.0 41.9 L610.6 40.6 L613.1 40.0 L615.6 39.0 M442.7 134.9 L443.8 135.9 L444.8 137.0 L445.9 138.0 L446.9 138.9 L447.9 139.7 L449.0 140.2 L450.0 140.5 L451.1 140.5 L452.1 140.2 L453.1 139.7 L454.2 138.9 L455.2 137.9 L456.3 136.8 L457.3 135.6 L458.3 134.4 L459.4 133.3 M664.7 142.9 L666.4 144.8 L668.1 146.7 L669.8 147.8 L671.5 148.1 L673.2 147.9 L674.9 147.9 L676.6 148.9 L678.3 151.0 L680.0 154.2 L681.7 157.6 L682.8 160.5 L682.8 162.1 L682.8 162.1 L682.8 161.0 L682.8 159.4 L682.8 158.2 M588.0 171.4 L590.1 171.6 L592.1 171.9 L594.2 174.2 L596.3 178.4 L598.3 182.2 L600.4 183.5 L602.4 181.6 L604.5 178.5 L606.6 176.6 L608.6 176.6 L610.7 177.3 L612.8 176.4 L614.8 173.4 L616.9 169.8 L618.9 168.2 L621.0 169.8 M456.3 57.9 L458.1 58.2 L460.0 60.0 L461.8 61.5 L463.7 61.5 L465.5 60.8 L467.4 61.4 L469.2 64.4 L471.1 69.1 L472.9 73.4 L474.8 75.5 L476.6 74.7 L478.5 72.7 L480.3 71.2 L482.2 71.1 L484.0 71.6 L485.9 70.6 M638.0 205.8 L639.3 207.0 L640.6 208.6 L641.9 210.1 L643.2 211.2 L644.5 211.6 L645.8 211.4 L647.1 210.9 L648.4 210.4 L649.7 210.4 L651.0 211.2 L652.3 212.9 L653.6 215.1 L654.9 217.6 L656.2 219.9 L657.5 221.6 L658.8 222.3 M420.2 114.3 L422.6 115.3 L425.1 115.4 L427.6 118.1 L430.1 123.4 L432.6 127.2 L435.1 126.4 L437.5 122.4 L440.0 119.5 L442.5 119.0 L445.0 118.3 L447.5 114.6 L450.0 109.1 L452.4 106.4 L454.9 108.3 L457.4 112.3 L459.9 114.4 M625.3 84.6 L627.1 81.8 L628.9 77.2 L630.7 72.3 L632.5 68.2 L634.3 65.9 L636.1 65.1 L637.9 64.9 L639.7 64.4 L641.5 62.9 L643.3 61.0 L645.1 59.7 L646.9 60.0 L648.7 62.5 L650.5 66.5 L652.3 70.8 L654.1 74.1 M540.3 195.2 L542.1 195.8 L544.0 196.0 L545.8 196.4 L547.7 197.2 L549.5 198.8 L551.4 201.2 L553.2 203.9 L555.0 206.5 L556.9 208.3 L558.7 208.8 L560.6 208.0 L562.4 206.0 L564.3 203.4 L566.1 200.5 L568.0 198.1 L569.8 196.2 M612.6 141.8 L613.8 141.5 L615.0 141.2 L616.2 141.1 L617.3 141.3 L618.5 141.7 L619.7 142.4 L620.9 143.3 L622.1 144.5 L623.2 145.7 L624.4 147.0 L625.6 148.1 L626.8 149.1 L628.0 149.7 L629.1 150.0 L630.3 150.0 L631.5 149.6 M664.7 221.3 L666.2 221.5 L667.6 221.8 L669.0 222.2 L670.5 222.9 L671.9 223.9 L673.4 225.2 L674.8 226.9 L676.2 228.7 L677.7 230.5 L679.1 232.1 L680.6 233.3 L682.0 233.8 L682.8 233.8 L682.8 233.0 L682.8 231.7 L682.8 229.9 M657.4 154.2 L658.4 154.8 L659.3 155.5 L660.3 156.4 L661.3 157.3 L662.2 158.1 L663.2 158.7 L664.2 159.0 L665.1 159.2 L666.1 159.3 L667.1 159.5 L668.1 159.7 L669.0 160.3 L670.0 161.2 L671.0 162.4 L671.9 164.1 L672.9 166.1 M618.6 85.7 L621.2 80.6 L623.8 76.2 L626.4 73.7 L629.0 73.2 L631.6 73.6 L634.2 73.9 L636.9 73.4 L639.5 72.3 L642.1 71.8 L644.7 72.8 L647.3 76.0 L649.9 80.7 L652.5 85.5 L655.2 88.9 L657.8 90.3 L660.4 90.1 M660.8 131.9 L661.8 130.2 L662.9 129.2 L663.9 129.1 L664.9 129.6 L666.0 130.5 L667.0 131.5 L668.1 132.3 L669.1 132.7 L670.1 132.7 L671.2 132.5 L672.2 132.3 L673.3 132.4 L674.3 133.2 L675.3 134.8 L676.4 137.1 L677.4 139.9 M531.2 51.4 L533.4 50.5 L535.6 50.8 L537.8 52.7 L539.9 55.3 L542.1 57.2 L544.3 57.2 L546.5 55.0 L548.7 51.7 L550.9 48.8 L553.1 47.4 L555.2 47.3 L557.4 47.5 L559.6 46.6 L561.8 44.2 L564.0 40.8 L566.2 38.0 M546.3 100.4 L547.7 100.7 L549.0 101.7 L550.3 103.2 L551.6 104.9 L553.0 106.4 L554.3 107.3 L555.6 107.3 L556.9 106.3 L558.2 104.5 L559.6 102.0 L560.9 99.5 L562.2 97.2 L563.5 95.5 L564.8 94.5 L566.2 94.1 L567.5 93.9 M588.7 90.6 L589.6 91.0 L590.5 91.6 L591.4 92.6 L592.4 93.7 L593.3 95.0 L594.2 96.3 L595.1 97.3 L596.0 98.1 L596.9 98.5 L597.8 98.4 L598.8 97.8 L599.7 96.9 L600.6 95.7 L601.5 94.3 L602.4 92.9 L603.3 91.6 M511.9 53.2 L514.5 53.5 L517.1 53.1 L519.7 53.3 L522.3 55.3 L524.9 58.7 L527.5 62.2 L530.1 64.1 L532.7 63.7 L535.3 61.7 L537.9 59.8 L540.5 59.3 L543.1 60.3 L545.7 61.8 L548.3 62.2 L550.9 60.8 L553.5 58.2 M597.0 50.4 L599.3 49.2 L601.5 50.8 L603.8 51.8 L606.0 50.5 L608.3 49.7 L610.6 52.3 L612.8 57.6 L615.1 61.5 L617.3 61.2 L619.6 58.5 L621.8 57.0 L624.1 57.6 L626.4 57.2 L628.6 53.1 L630.9 46.8 L633.1 42.7 M401.4 182.3 L401.4 183.2 L402.9 183.7 L405.4 186.8 L407.9 192.0 L410.5 195.5 L413.0 194.4 L415.5 189.9 L418.0 186.0 L420.6 184.3 L423.1 182.8 L425.6 178.6 L428.1 172.5 L430.6 168.2 L433.2 168.7 L435.7 172.3 L438.2 175.3 M485.4 177.3 L487.6 177.6 L489.7 176.1 L491.9 173.2 L494.1 170.3 L496.2 168.6 L498.4 168.5 L500.5 169.6 L502.7 170.7 L504.9 170.8 L507.0 169.7 L509.2 167.9 L511.3 166.8 L513.5 167.3 L515.7 169.6 L517.8 173.0 L520.0 176.1 M487.2 183.3 L488.2 184.3 L489.2 184.9 L490.2 185.2 L491.2 184.9 L492.2 184.2 L493.2 183.0 L494.3 181.6 L495.3 180.0 L496.3 178.4 L497.3 176.9 L498.3 175.8 L499.3 175.0 L500.3 174.5 L501.4 174.5 L502.4 174.7 L503.4 175.1 M678.3 80.9 L680.4 82.3 L682.6 83.8 L682.8 84.9 L682.8 85.2 L682.8 84.8 L682.8 84.1 L682.8 83.6 L682.8 83.8 L682.8 85.1 L682.8 87.2 L682.8 89.8 L682.8 92.3 L682.8 93.9 L682.8 94.4 L682.8 93.7 L682.8 92.3 M602.5 156.8 L603.5 155.4 L604.6 154.3 L605.6 153.5 L606.7 153.0 L607.7 152.8 L608.8 152.9 L609.9 153.2 L610.9 153.6 L612.0 154.1 L613.0 154.6 L614.1 155.1 L615.1 155.4 L616.2 155.6 L617.3 155.6 L618.3 155.5 L619.4 155.3 M514.8 219.4 L517.2 218.8 L519.6 217.6 L522.0 216.5 L524.4 216.1 L526.8 216.8 L529.2 218.4 L531.6 220.3 L534.0 221.8 L536.4 222.1 L538.8 221.1 L541.2 218.9 L543.6 216.2 L546.0 213.9 L548.4 212.5 L550.7 212.0 L553.1 212.2 M532.4 210.3 L533.7 211.3 L534.9 212.2 L536.1 212.8 L537.3 212.9 L538.6 212.5 L539.8 211.5 L541.0 210.0 L542.2 208.3 L543.5 206.4 L544.7 204.7 L545.9 203.4 L547.1 202.5 L548.4 202.0 L549.6 202.0 L550.8 202.3 L552.0 202.7 M402.1 118.5 L404.4 119.0 L406.7 120.8 L409.0 121.4 L411.3 120.7 L413.7 120.6 L416.0 123.1 L418.3 127.9 L420.6 132.6 L422.9 134.5 L425.2 133.0 L427.5 130.2 L429.8 128.5 L432.1 128.1 L434.4 127.2 L436.8 123.8 L439.1 117.9 M446.2 19.6 L448.0 20.7 L449.9 22.1 L451.7 23.2 L453.5 23.8 L455.3 23.9 L457.2 23.9 L459.0 24.2 L460.8 25.3 L462.7 27.4 L464.5 30.4 L466.3 33.8 L468.2 37.0 L470.0 39.4 L471.8 40.5 L473.6 40.2 L475.5 39.0 M598.1 46.2 L599.9 46.4 L601.8 46.4 L603.6 47.0 L605.4 48.7 L607.2 51.5 L609.1 54.6 L610.9 56.9 L612.7 57.5 L614.5 56.3 L616.3 53.6 L618.2 50.7 L620.0 48.3 L621.8 47.0 L623.6 46.6 L625.5 46.0 L627.3 44.7 M408.2 153.5 L409.4 154.9 L410.6 155.9 L411.9 156.4 L413.1 156.4 L414.3 156.1 L415.6 155.8 L416.8 156.0 L418.0 156.8 L419.2 158.4 L420.5 160.5 L421.7 162.9 L422.9 165.2 L424.2 167.0 L425.4 167.9 L426.6 167.8 L427.9 166.9 M619.0 56.0 L621.2 51.5 L623.5 47.0 L625.7 44.6 L627.9 44.5 L630.1 45.7 L632.4 46.3 L634.6 45.7 L636.8 44.7 L639.0 45.2 L641.3 48.3 L643.5 53.6 L645.7 59.0 L647.9 62.6 L650.2 63.7 L652.4 63.5 L654.6 63.6 M437.3 67.3 L439.0 69.2 L440.6 71.0 L442.3 72.2 L444.0 72.6 L445.6 72.0 L447.3 70.4 L449.0 68.1 L450.6 65.5 L452.3 63.0 L454.0 60.9 L455.6 59.6 L457.3 58.9 L459.0 58.7 L460.6 58.7 L462.3 58.6 L464.0 58.0 M483.8 198.7 L484.7 196.4 L485.6 194.5 L486.5 193.1 L487.4 192.2 L488.3 191.7 L489.2 191.7 L490.1 191.9 L491.0 192.2 L491.9 192.6 L492.8 192.9 L493.7 193.0 L494.6 192.9 L495.5 192.6 L496.4 192.3 L497.3 192.0 L498.2 191.8 M557.4 67.5 L560.0 62.9 L562.6 58.8 L565.2 58.4 L567.8 60.2 L570.4 60.6 L573.0 58.6 L575.6 57.4 L578.2 60.1 L580.8 65.4 L583.4 68.9 L586.0 68.6 L588.7 67.1 L591.3 67.9 L593.9 70.5 L596.5 71.0 L599.1 67.5 M634.7 152.0 L636.1 153.5 L637.5 155.8 L638.9 158.7 L640.3 161.5 L641.7 163.5 L643.1 164.1 L644.5 163.2 L646.0 161.0 L647.4 158.1 L648.8 155.5 L650.2 153.6 L651.6 152.6 L653.0 152.4 L654.4 152.2 L655.8 151.5 L657.2 150.0 M671.1 174.1 L672.8 175.1 L674.5 175.6 L676.3 176.2 L678.0 177.5 L679.7 179.7 L681.4 182.7 L682.8 186.0 L682.8 188.9 L682.8 190.6 L682.8 190.8 L682.8 189.6 L682.8 187.5 L682.8 185.2 L682.8 183.4 L682.8 182.4 L682.8 182.0 M469.4 198.5 L470.6 197.4 L471.7 196.8 L472.9 196.7 L474.0 196.9 L475.2 197.4 L476.3 198.0 L477.4 198.7 L478.6 199.2 L479.7 199.6 L480.9 199.8 L482.0 199.9 L483.1 199.8 L484.3 199.7 L485.4 199.7 L486.6 199.9 L487.7 200.4 M531.7 93.8 L533.7 96.7 L535.7 98.3 L537.7 99.8 L539.8 102.8 L541.8 108.0 L543.8 113.8 L545.9 117.7 L547.9 118.0 L549.9 115.5 L552.0 112.4 L554.0 110.4 L556.0 109.5 L558.1 107.9 L560.1 104.3 L562.1 98.9 L564.2 94.0 M610.0 160.1 L612.4 159.7 L614.9 160.6 L617.3 162.9 L619.7 165.5 L622.1 166.9 L624.5 166.3 L627.0 164.0 L629.4 161.1 L631.8 159.0 L634.2 158.4 L636.7 159.0 L639.1 159.7 L641.5 159.2 L643.9 157.2 L646.3 154.4 L648.8 152.2 M607.6 74.4 L609.4 75.0 L611.2 73.5 L613.0 70.2 L614.7 65.9 L616.5 62.1 L618.3 59.9 L620.0 59.2 L621.8 59.3 L623.6 58.8 L625.4 57.3 L627.1 54.9 L628.9 52.9 L630.7 52.3 L632.5 53.9 L634.2 57.1 L636.0 60.7 M456.8 76.3 L458.5 74.7 L460.2 74.3 L461.9 74.6 L463.7 75.4 L465.4 76.3 L467.1 76.9 L468.8 77.1 L470.6 76.9 L472.3 76.8 L474.0 76.9 L475.7 77.8 L477.5 79.6 L479.2 82.3 L480.9 85.5 L482.6 89.0 L484.3 92.0 M434.1 118.3 L435.8 120.2 L437.4 121.8 L439.0 122.4 L440.6 122.2 L442.3 122.2 L443.9 123.7 L445.5 126.9 L447.2 131.1 L448.8 134.7 L450.4 136.4 L452.0 135.7 L453.7 133.6 L455.3 131.2 L456.9 129.7 L458.5 129.3 L460.2 128.9"/><path id="tob" d="M456.1 104.2 L457.3 102.5 L458.6 101.9 L459.8 102.3 L461.0 103.2 L462.3 104.1 L463.5 104.7 L464.7 104.7 L466.0 104.2 L467.2 103.5 L468.4 103.3 L469.7 103.7 L470.9 105.2 L472.1 107.6 L473.4 110.6 L474.6 113.6 L475.8 116.0 M434.5 168.4 L436.5 169.3 L438.5 171.4 L440.5 174.0 L442.4 175.7 L444.4 175.6 L446.4 173.7 L448.4 170.7 L450.3 167.9 L452.3 166.3 L454.3 166.1 L456.3 166.6 L458.2 166.7 L460.2 165.6 L462.2 163.3 L464.2 160.6 L466.1 159.0 M621.7 167.4 L624.3 169.1 L626.8 170.9 L629.4 171.8 L631.9 172.1 L634.4 172.3 L637.0 173.4 L639.5 176.0 L642.0 179.8 L644.6 184.0 L647.1 187.4 L649.7 189.0 L652.2 188.7 L654.7 186.9 L657.3 184.6 L659.8 182.8 L662.3 181.8 M403.2 90.1 L404.1 90.2 L405.1 90.4 L406.0 90.9 L407.0 91.6 L407.9 92.4 L408.9 93.4 L409.9 94.3 L410.8 95.2 L411.8 95.9 L412.7 96.4 L413.7 96.7 L414.6 96.6 L415.6 96.3 L416.6 95.6 L417.5 94.7 L418.5 93.5 M526.5 88.6 L528.9 91.5 L531.3 93.4 L533.7 92.6 L536.1 89.2 L538.5 85.1 L540.9 82.8 L543.3 82.6 L545.6 83.3 L548.0 82.7 L550.4 80.4 L552.8 77.7 L555.2 76.8 L557.6 79.0 L560.0 83.1 L562.3 86.7 L564.7 88.1 M466.8 203.1 L468.3 205.0 L469.9 206.5 L471.4 207.5 L472.9 208.0 L474.4 208.3 L475.9 208.7 L477.4 209.6 L478.9 211.1 L480.5 213.4 L482.0 216.2 L483.5 219.2 L485.0 222.0 L486.5 224.2 L488.0 225.6 L489.6 225.9 L491.1 225.4 M523.4 74.5 L525.1 70.3 L526.8 68.0 L528.5 67.9 L530.1 69.1 L531.8 70.1 L533.5 70.1 L535.1 69.3 L536.8 69.1 L538.5 70.7 L540.2 74.6 L541.8 79.6 L543.5 84.0 L545.2 86.4 L546.8 86.6 L548.5 85.7 L550.2 85.1 M555.9 179.5 L557.1 180.2 L558.2 181.2 L559.3 182.4 L560.4 183.6 L561.6 184.5 L562.7 184.8 L563.8 184.5 L564.9 183.5 L566.1 181.9 L567.2 179.9 L568.3 177.7 L569.4 175.7 L570.5 174.1 L571.7 172.9 L572.8 172.3 L573.9 172.1 M495.5 156.5 L497.7 156.9 L499.9 158.0 L502.0 160.1 L504.2 162.6 L506.4 164.8 L508.6 165.9 L510.7 165.5 L512.9 163.7 L515.1 160.8 L517.3 157.7 L519.4 155.2 L521.6 153.6 L523.8 152.8 L526.0 152.4 L528.1 151.7 L530.3 150.3 M473.5 54.7 L475.6 56.3 L477.6 58.6 L479.7 60.1 L481.8 60.4 L483.9 60.3 L486.0 61.3 L488.1 64.4 L490.2 69.1 L492.3 73.6 L494.4 76.2 L496.4 76.3 L498.5 74.8 L500.6 73.2 L502.7 72.8 L504.8 73.4 L506.9 73.8 M595.5 76.8 L597.5 79.2 L599.6 82.1 L601.6 84.7 L603.6 86.4 L605.7 86.6 L607.7 85.2 L609.8 82.5 L611.8 79.2 L613.8 76.2 L615.9 74.0 L617.9 72.7 L620.0 72.1 L622.0 71.6 L624.1 70.8 L626.1 69.2 L628.1 67.1 M501.0 55.4 L503.1 58.2 L505.1 60.6 L507.2 60.8 L509.3 58.3 L511.4 54.3 L513.5 51.0 L515.6 49.7 L517.7 49.9 L519.8 50.1 L521.9 48.6 L524.0 45.8 L526.1 43.4 L528.2 43.3 L530.3 45.9 L532.3 50.0 L534.4 53.2 M512.7 85.6 L515.0 87.4 L517.3 91.5 L519.6 94.7 L521.8 93.6 L524.1 88.8 L526.4 84.2 L528.7 82.4 L530.9 81.8 L533.2 79.4 L535.5 74.8 L537.8 71.6 L540.0 72.9 L542.3 77.6 L544.6 81.6 L546.9 82.7 L549.1 83.0 M532.7 67.6 L533.8 65.6 L534.9 63.4 L536.1 61.2 L537.2 59.2 L538.3 57.4 L539.4 55.9 L540.5 54.9 L541.6 54.3 L542.8 54.1 L543.9 54.2 L545.0 54.4 L546.1 54.7 L547.2 54.8 L548.3 54.7 L549.5 54.4 L550.6 53.8 M584.7 63.3 L586.2 63.5 L587.8 64.3 L589.3 66.3 L590.9 69.2 L592.4 72.1 L594.0 74.1 L595.5 74.5 L597.1 73.1 L598.6 70.5 L600.2 67.8 L601.7 65.9 L603.3 65.1 L604.8 65.1 L606.3 65.1 L607.9 64.5 L609.4 62.6 M645.0 87.0 L647.2 89.3 L649.4 89.9 L651.6 90.4 L653.8 93.3 L656.0 98.4 L658.1 103.1 L660.3 104.4 L662.5 102.0 L664.7 98.3 L666.9 95.9 L669.1 95.1 L671.3 93.5 L673.4 89.3 L675.6 83.4 L677.8 78.9 L680.0 78.2 M601.2 176.8 L602.4 175.8 L603.7 174.4 L604.9 173.0 L606.1 171.4 L607.3 169.9 L608.5 168.6 L609.7 167.5 L611.0 166.7 L612.2 166.1 L613.4 165.9 L614.6 166.0 L615.8 166.2 L617.0 166.6 L618.2 167.1 L619.5 167.5 L620.7 167.7 M578.2 143.1 L580.2 142.0 L582.2 140.0 L584.2 137.3 L586.2 134.2 L588.2 131.3 L590.2 128.8 L592.2 127.2 L594.2 126.3 L596.2 126.1 L598.2 126.2 L600.2 126.2 L602.1 125.8 L604.1 124.8 L606.1 123.4 L608.1 121.8 L610.1 120.4 M512.3 111.4 L514.5 107.6 L516.7 103.3 L518.9 99.6 L521.1 97.3 L523.3 96.5 L525.5 96.8 L527.7 97.2 L529.9 97.2 L532.1 96.5 L534.3 95.6 L536.5 95.2 L538.8 96.1 L541.0 98.9 L543.2 103.0 L545.4 107.6 L547.6 111.6 M576.4 141.2 L577.8 142.7 L579.3 144.3 L580.8 145.8 L582.3 146.6 L583.7 146.4 L585.2 145.2 L586.7 143.0 L588.2 140.2 L589.6 137.3 L591.1 134.6 L592.6 132.5 L594.0 131.1 L595.5 130.3 L597.0 129.9 L598.5 129.4 L599.9 128.6 M435.0 181.0 L436.2 182.1 L437.5 182.5 L438.7 181.8 L439.9 180.1 L441.1 177.6 L442.4 175.0 L443.6 172.8 L444.8 171.4 L446.1 170.9 L447.3 171.1 L448.5 171.6 L449.7 171.9 L451.0 171.6 L452.2 170.6 L453.4 169.1 L454.7 167.4 M573.6 225.7 L575.1 222.5 L576.6 219.2 L578.0 216.5 L579.5 214.9 L581.0 214.6 L582.5 215.0 L584.0 215.6 L585.4 215.9 L586.9 215.3 L588.4 214.1 L589.9 212.6 L591.4 211.7 L592.9 211.8 L594.3 213.2 L595.8 215.6 L597.3 218.5 M561.4 148.5 L562.9 146.4 L564.3 145.4 L565.7 145.5 L567.1 146.2 L568.6 147.0 L570.0 147.4 L571.4 147.2 L572.8 146.3 L574.3 145.3 L575.7 144.6 L577.1 144.6 L578.5 145.7 L580.0 147.8 L581.4 150.4 L582.8 153.0 L584.2 155.0 M680.4 94.1 L681.4 94.5 L682.3 94.6 L682.8 94.5 L682.8 94.2 L682.8 93.9 L682.8 93.7 L682.8 93.8 L682.8 94.1 L682.8 94.9 L682.8 96.0 L682.8 97.4 L682.8 98.9 L682.8 100.4 L682.8 101.7 L682.8 102.8 L682.8 103.4 M449.6 179.1 L450.7 176.5 L451.8 174.0 L452.9 172.0 L454.0 170.8 L455.1 170.5 L456.2 171.0 L457.3 171.9 L458.4 172.6 L459.5 173.0 L460.6 172.7 L461.7 171.8 L462.8 170.8 L463.9 170.0 L465.0 169.9 L466.1 170.6 L467.2 172.4 M539.7 85.7 L541.7 83.7 L543.7 82.7 L545.6 82.9 L547.6 83.7 L549.6 84.8 L551.5 85.6 L553.5 85.9 L555.5 85.8 L557.4 85.4 L559.4 85.4 L561.3 86.2 L563.3 88.0 L565.3 90.7 L567.2 94.2 L569.2 97.7 L571.2 100.8 M486.0 184.1 L487.6 185.7 L489.2 186.4 L490.8 185.9 L492.4 184.2 L494.0 181.7 L495.6 179.2 L497.2 177.4 L498.8 176.6 L500.4 176.9 L502.1 177.7 L503.7 178.4 L505.3 178.4 L506.9 177.5 L508.5 175.9 L510.1 174.3 L511.7 173.2 M461.2 37.0 L463.7 38.2 L466.2 39.8 L468.7 40.9 L471.2 41.3 L473.6 41.3 L476.1 41.7 L478.6 43.4 L481.1 46.6 L483.6 50.7 L486.0 54.7 L488.5 57.5 L491.0 58.4 L493.5 57.4 L496.0 55.3 L498.5 53.2 L500.9 51.6 M636.2 50.0 L638.2 50.9 L640.3 50.7 L642.3 50.2 L644.3 50.0 L646.3 51.0 L648.3 53.3 L650.3 56.2 L652.3 58.8 L654.4 59.9 L656.4 59.2 L658.4 57.0 L660.4 54.2 L662.4 51.7 L664.4 50.2 L666.4 49.6 L668.5 49.3 M654.2 227.9 L656.5 227.9 L658.8 227.5 L661.1 227.6 L663.3 228.8 L665.6 231.2 L667.9 234.0 L670.2 236.2 L672.5 236.9 L674.7 235.7 L677.0 233.0 L679.3 229.8 L681.6 227.1 L682.8 225.3 L682.8 224.4 L682.8 223.7 L682.8 222.3 M478.1 214.2 L479.2 215.3 L480.3 216.2 L481.4 217.0 L482.5 217.5 L483.6 217.7 L484.7 217.7 L485.8 217.6 L486.9 217.4 L488.0 217.3 L489.1 217.2 L490.2 217.4 L491.3 217.8 L492.4 218.5 L493.4 219.5 L494.5 220.7 L495.6 222.2 M585.4 185.1 L587.3 185.2 L589.2 182.7 L591.1 178.2 L593.0 173.1 L594.8 169.2 L596.7 167.3 L598.6 166.8 L600.5 166.3 L602.4 164.7 L604.3 162.2 L606.1 160.2 L608.0 160.1 L609.9 162.7 L611.8 167.0 L613.7 171.4 L615.6 174.1 M514.9 174.9 L516.7 174.4 L518.6 171.1 L520.5 166.4 L522.4 162.5 L524.2 160.8 L526.1 161.0 L528.0 161.4 L529.9 160.6 L531.7 158.7 L533.6 157.2 L535.5 157.9 L537.4 161.4 L539.3 166.4 L541.1 170.7 L543.0 172.9 L544.9 173.2 M570.7 72.2 L573.4 73.4 L576.0 76.1 L578.6 81.6 L581.3 86.2 L583.9 85.8 L586.5 80.6 L589.2 75.1 L591.8 71.9 L594.4 69.2 L597.0 63.9 L599.7 56.9 L602.3 53.0 L604.9 54.6 L607.6 59.3 L610.2 62.6 L612.8 63.9 M458.7 223.5 L459.8 221.1 L460.8 218.6 L461.9 216.5 L462.9 214.9 L463.9 213.9 L465.0 213.6 L466.0 213.8 L467.1 214.3 L468.1 214.8 L469.2 215.2 L470.2 215.3 L471.3 215.0 L472.3 214.4 L473.4 213.7 L474.4 213.1 L475.4 212.7 M524.3 204.5 L525.5 202.9 L526.7 201.2 L528.0 199.6 L529.2 198.3 L530.4 197.3 L531.7 196.6 L532.9 196.3 L534.1 196.3 L535.4 196.7 L536.6 197.2 L537.8 197.8 L539.1 198.4 L540.3 198.8 L541.6 199.1 L542.8 199.2 L544.0 199.1 M447.2 106.7 L448.2 104.4 L449.2 102.6 L450.3 101.5 L451.3 101.1 L452.3 101.2 L453.4 101.6 L454.4 102.2 L455.4 102.8 L456.4 103.0 L457.5 103.0 L458.5 102.7 L459.5 102.2 L460.6 101.8 L461.6 101.7 L462.6 102.0 L463.6 102.9 M557.1 176.7 L559.6 173.7 L562.1 173.7 L564.6 174.9 L567.1 175.2 L569.7 174.6 L572.2 174.9 L574.7 178.0 L577.2 183.7 L579.7 189.4 L582.2 192.5 L584.7 192.2 L587.3 190.2 L589.8 188.6 L592.3 188.2 L594.8 187.4 L597.3 184.2 M404.3 101.1 L405.9 98.1 L407.6 97.0 L409.3 97.6 L411.0 98.8 L412.6 99.5 L414.3 99.2 L416.0 98.3 L417.7 97.8 L419.3 98.7 L421.0 101.4 L422.7 105.4 L424.3 109.3 L426.0 112.0 L427.7 112.8 L429.4 112.0 L431.0 110.6 M582.7 89.1 L585.0 91.0 L587.4 92.9 L589.7 94.0 L592.1 93.7 L594.5 91.7 L596.8 88.3 L599.2 84.4 L601.5 80.7 L603.9 77.9 L606.2 76.1 L608.6 75.1 L611.0 74.3 L613.3 73.0 L615.7 71.0 L618.0 68.4 L620.4 65.8 M471.3 82.6 L472.4 83.7 L473.5 85.4 L474.6 87.3 L475.7 89.3 L476.7 90.9 L477.8 91.7 L478.9 91.6 L480.0 90.6 L481.1 88.7 L482.2 86.3 L483.3 83.9 L484.4 81.7 L485.5 80.0 L486.5 78.9 L487.6 78.4 L488.7 78.2 M474.3 79.5 L476.7 78.1 L479.1 78.0 L481.6 78.9 L484.0 80.2 L486.5 81.2 L488.9 81.6 L491.3 81.2 L493.8 80.4 L496.2 79.8 L498.7 80.1 L501.1 81.5 L503.5 84.0 L506.0 87.1 L508.4 90.0 L510.8 91.9 L513.3 92.7 M415.1 37.2 L417.7 39.3 L420.3 39.5 L422.8 40.8 L425.4 45.3 L428.0 50.8 L430.6 53.0 L433.2 50.7 L435.8 46.7 L438.3 44.5 L440.9 44.0 L443.5 41.8 L446.1 36.5 L448.7 30.7 L451.2 28.7 L453.8 31.0 L456.4 34.5 M600.6 203.8 L601.7 203.2 L602.8 202.3 L604.0 201.0 L605.1 199.6 L606.2 198.1 L607.3 196.9 L608.4 196.0 L609.5 195.5 L610.7 195.4 L611.8 195.7 L612.9 196.3 L614.0 197.1 L615.1 197.9 L616.3 198.6 L617.4 199.1 L618.5 199.2 M412.9 210.0 L415.4 212.0 L417.9 214.7 L420.4 217.0 L422.9 217.5 L425.5 215.6 L428.0 211.8 L430.5 207.5 L433.0 204.0 L435.5 202.0 L438.0 201.1 L440.5 200.1 L443.1 198.2 L445.6 195.1 L448.1 191.8 L450.6 189.7 L453.1 190.0 M673.5 101.9 L674.6 102.2 L675.6 102.8 L676.6 103.5 L677.7 104.4 L678.7 105.2 L679.8 106.0 L680.8 106.6 L681.8 106.9 L682.8 106.9 L682.8 106.6 L682.8 106.0 L682.8 105.0 L682.8 103.8 L682.8 102.5 L682.8 101.1 L682.8 99.7 M531.7 231.4 L533.9 227.4 L536.0 222.9 L538.2 218.8 L540.4 215.8 L542.6 214.1 L544.7 213.6 L546.9 213.5 L549.1 213.2 L551.2 212.3 L553.4 210.9 L555.6 209.4 L557.8 208.5 L559.9 209.0 L562.1 210.9 L564.3 214.0 L566.5 217.6 M672.4 57.7 L674.3 59.7 L676.2 61.4 L678.1 62.3 L680.0 62.5 L681.9 62.6 L682.8 63.4 L682.8 65.4 L682.8 68.8 L682.8 72.6 L682.8 76.0 L682.8 78.1 L682.8 78.3 L682.8 77.0 L682.8 75.1 L682.8 73.3 L682.8 72.4 M462.8 124.7 L464.6 127.1 L466.5 128.2 L468.3 128.9 L470.1 130.7 L471.9 134.3 L473.7 139.0 L475.5 143.3 L477.3 145.5 L479.1 145.0 L480.9 142.7 L482.7 140.1 L484.5 138.6 L486.3 138.2 L488.1 137.8 L489.9 136.1 L491.7 132.6 M442.8 36.3 L445.2 37.5 L447.7 38.8 L450.1 40.9 L452.6 44.3 L455.0 48.4 L457.5 52.0 L459.9 54.1 L462.4 54.0 L464.8 51.9 L467.3 48.9 L469.7 46.1 L472.2 44.3 L474.6 43.3 L477.1 42.6 L479.5 41.2 L482.0 38.6 M557.4 129.0 L559.3 128.6 L561.3 129.0 L563.3 129.9 L565.3 130.8 L567.3 131.5 L569.3 131.8 L571.2 131.6 L573.2 131.0 L575.2 130.5 L577.2 130.2 L579.2 130.6 L581.2 131.8 L583.1 133.8 L585.1 136.2 L587.1 138.7 L589.1 141.0 M403.4 52.0 L405.0 52.0 L406.6 52.1 L408.3 53.2 L409.9 55.8 L411.6 59.1 L413.2 61.9 L414.8 63.0 L416.5 61.8 L418.1 59.1 L419.8 56.1 L421.4 54.1 L423.1 53.2 L424.7 53.2 L426.3 52.7 L428.0 50.9 L429.6 47.8 M555.9 90.4 L557.1 88.4 L558.4 86.2 L559.6 84.3 L560.9 83.0 L562.1 82.3 L563.4 82.4 L564.6 82.9 L565.8 83.8 L567.1 84.7 L568.3 85.3 L569.6 85.4 L570.8 85.1 L572.1 84.5 L573.3 83.8 L574.6 83.2 L575.8 83.2 M612.7 158.7 L613.8 159.9 L614.9 161.1 L616.0 162.3 L617.1 163.1 L618.2 163.5 L619.3 163.3 L620.4 162.5 L621.5 161.2 L622.6 159.5 L623.7 157.6 L624.8 155.6 L625.9 153.8 L626.9 152.4 L628.0 151.3 L629.1 150.7 L630.2 150.5 M516.3 103.9 L517.4 104.6 L518.5 105.6 L519.6 106.8 L520.8 107.8 L521.9 108.5 L523.0 108.7 L524.1 108.3 L525.2 107.3 L526.3 105.8 L527.4 104.0 L528.5 102.1 L529.6 100.4 L530.7 99.1 L531.8 98.2 L532.9 97.8 L534.0 97.8 M495.1 96.5 L496.0 97.2 L496.9 97.4 L497.8 97.4 L498.7 97.3 L499.6 97.3 L500.5 97.6 L501.4 98.3 L502.3 99.5 L503.2 101.0 L504.1 102.9 L505.0 104.9 L505.9 106.7 L506.8 108.2 L507.7 109.2 L508.6 109.6 L509.5 109.4 M459.7 23.2 L461.6 23.0 L463.5 23.9 L465.4 25.5 L467.3 27.0 L469.1 28.1 L471.0 28.6 L472.9 28.9 L474.8 29.5 L476.6 31.0 L478.5 33.7 L480.4 37.4 L482.3 41.7 L484.2 45.8 L486.0 48.9 L487.9 50.7 L489.8 51.0 M449.9 206.0 L452.3 206.7 L454.7 208.3 L457.1 210.5 L459.5 212.3 L461.9 212.8 L464.3 211.6 L466.7 209.0 L469.1 205.6 L471.5 202.4 L473.9 200.1 L476.3 199.0 L478.7 198.5 L481.1 198.1 L483.5 196.9 L485.9 194.7 L488.3 191.8 M601.3 192.3 L603.4 194.0 L605.4 195.0 L607.5 195.9 L609.6 197.5 L611.7 200.2 L613.8 203.9 L615.8 207.9 L617.9 211.3 L620.0 213.1 L622.1 213.1 L624.1 211.5 L626.2 209.1 L628.3 206.9 L630.4 205.4 L632.4 204.7 L634.5 204.3 M488.8 236.9 L491.3 236.9 L493.7 236.9 L496.1 236.9 L498.5 233.9 L500.9 230.5 L503.3 230.0 L505.8 228.5 L508.2 224.7 L510.6 222.2 L513.0 224.7 L515.4 230.9 L517.8 235.6 L520.3 236.8 L522.7 236.9 L525.1 236.9 L527.5 236.9 M518.4 85.0 L520.0 87.4 L521.6 89.9 L523.2 91.5 L524.8 91.4 L526.4 89.5 L528.0 86.4 L529.6 82.9 L531.2 80.2 L532.9 78.8 L534.5 78.4 L536.1 78.3 L537.7 77.8 L539.3 76.4 L540.9 74.1 L542.5 71.9 L544.1 70.7 M548.8 83.3 L550.5 84.6 L552.1 85.9 L553.7 87.0 L555.3 87.5 L556.9 87.3 L558.5 86.2 L560.1 84.4 L561.8 82.0 L563.4 79.4 L565.0 76.8 L566.6 74.7 L568.2 73.0 L569.8 72.0 L571.5 71.5 L573.1 71.2 L574.7 70.9 M512.6 225.0 L513.9 226.2 L515.2 226.9 L516.4 226.8 L517.7 225.9 L519.0 224.2 L520.3 221.8 L521.5 219.1 L522.8 216.4 L524.1 214.2 L525.4 212.6 L526.6 211.6 L527.9 211.2 L529.2 211.1 L530.5 211.0 L531.7 210.7 L533.0 209.9 M567.2 92.2 L569.1 92.5 L570.9 92.1 L572.8 91.8 L574.7 92.6 L576.5 94.8 L578.4 97.8 L580.3 100.6 L582.1 101.9 L584.0 101.5 L585.9 99.6 L587.7 97.2 L589.6 95.5 L591.5 95.0 L593.3 95.4 L595.2 96.0 L597.1 95.7 M529.3 83.7 L531.8 86.1 L534.4 88.1 L536.9 88.1 L539.4 85.6 L541.9 81.4 L544.4 77.1 L546.9 73.9 L549.5 72.5 L552.0 72.0 L554.5 71.2 L557.0 69.1 L559.5 66.2 L562.1 63.6 L564.6 62.7 L567.1 64.4 L569.6 67.9"/></defs>
<g clip-path="url(#clipb)">
<g filter="url(#parula)">
<rect x="398.4" y="14.2" width="287.4" height="226.4" fill="#000"/>
<g class="ln" filter="url(#b07)" stroke="#060606" stroke-width="1.1"><use href="#teb"/><use href="#tob"/></g>
<use href="#teb" class="ln" filter="url(#b05)" stroke="#090909" stroke-width="0.6"/>
<g filter="url(#b12)" fill="#1c1c1c" style="mix-blend-mode:lighten"><ellipse cx="681.4" cy="37.7" rx="2.1" ry="3.9"/><ellipse cx="681.4" cy="118.6" rx="2.1" ry="3.9"/><ellipse cx="402.5" cy="83.3" rx="1.8" ry="3.3"/><ellipse cx="406.5" cy="232.8" rx="1.4" ry="2.7"/></g>
<use href="#rb" class="ln" filter="url(#b1)" stroke="#151515" stroke-width="3.6"/>
<use href="#rb" class="ln" filter="url(#b07)" stroke="#222222" stroke-width="1.3"/>
<g filter="url(#b03)">
<use href="#rb" class="ln" stroke="#383838" stroke-width="0.6"/>
<path class="ln" stroke="#787878" stroke-width="0.7" d="M469.1 111.6 L470.9 113.0 M435.1 91.0 L437.0 91.2 M463.2 189.0 L465.0 187.7 M593.1 169.7 L595.8 169.5 M589.0 170.5 L591.7 169.8 M546.8 165.6 L549.5 166.4 M655.6 54.0 L658.3 51.8 M644.7 62.0 L647.4 60.3 M610.7 86.0 L613.5 84.2 M489.8 126.9 L491.7 128.8 M421.5 219.5 L423.4 217.7 M556.3 167.5 L559.1 168.5 M502.2 162.1 L504.0 160.7 M443.3 203.5 L445.1 202.2 M410.7 229.0 L412.5 227.2 M553.6 126.0 L556.3 124.1 M447.8 200.9 L449.6 200.2 M483.2 175.8 L485.0 174.9 M436.1 91.1 L438.0 91.4 M538.7 161.4 L541.4 162.8 M434.2 90.9 L436.1 91.1 M624.3 158.1 L627.1 156.5 M454.2 196.6 L456.0 195.1 M425.2 215.8 L427.0 214.2"/>
<use href="#rb" class="ln" stroke="#5c5c5c" stroke-width="0.6" stroke-dasharray="1.2 3.4 0.8 5.1 1.6 2.7 0.7 6.3"/>
</g>
</g>
<path class="ln2" filter="url(#b05)" stroke="#58c8b0" stroke-opacity="0.7" stroke-width="0.9" stroke-dasharray="1.6 6.6" d="M515.2 150.3 L525.3 149.6"/>
</g>
<path class="ax" d="M429.6 237.6 v-2.8 M429.6 17.2 v2.8 M457.7 237.6 v-2.8 M457.7 17.2 v2.8 M485.9 237.6 v-2.8 M485.9 17.2 v2.8 M514.1 237.6 v-2.8 M514.1 17.2 v2.8 M542.2 237.6 v-2.8 M542.2 17.2 v2.8 M570.4 237.6 v-2.8 M570.4 17.2 v2.8 M598.6 237.6 v-2.8 M598.6 17.2 v2.8 M626.7 237.6 v-2.8 M626.7 17.2 v2.8 M654.9 237.6 v-2.8 M654.9 17.2 v2.8 M401.4 215.6 h2.8 M682.8 215.6 h-2.8 M401.4 193.5 h2.8 M682.8 193.5 h-2.8 M401.4 171.5 h2.8 M682.8 171.5 h-2.8 M401.4 149.4 h2.8 M682.8 149.4 h-2.8 M401.4 127.4 h2.8 M682.8 127.4 h-2.8 M401.4 105.4 h2.8 M682.8 105.4 h-2.8 M401.4 83.3 h2.8 M682.8 83.3 h-2.8 M401.4 61.3 h2.8 M682.8 61.3 h-2.8 M401.4 39.2 h2.8 M682.8 39.2 h-2.8"/>
<rect class="ax" x="401.4" y="17.2" width="281.4" height="220.4"/>
<g class="tk" text-anchor="middle">
<text x="401.4" y="250.4">0</text>
<text x="429.6" y="250.4">0.5</text>
<text x="457.7" y="250.4">1</text>
<text x="485.9" y="250.4">1.5</text>
<text x="514.1" y="250.4">2</text>
<text x="542.2" y="250.4">2.5</text>
<text x="570.4" y="250.4">3</text>
<text x="598.6" y="250.4">3.5</text>
<text x="626.7" y="250.4">4</text>
<text x="654.9" y="250.4">4.5</text>
</g>
<g class="tk" text-anchor="end">
<text x="397.7" y="241.4">0</text>
<text x="397.7" y="219.4">10</text>
<text x="397.7" y="197.3">20</text>
<text x="397.7" y="175.3">30</text>
<text x="397.7" y="153.2">40</text>
<text x="397.7" y="131.2">50</text>
<text x="397.7" y="109.2">60</text>
<text x="397.7" y="87.1">70</text>
<text x="397.7" y="65.1">80</text>
<text x="397.7" y="43.0">90</text>
<text x="397.7" y="21.0">100</text>
</g>
<text class="lb" text-anchor="middle" x="541.8" y="264.1">Time / S</text>
<text class="lb" text-anchor="middle" transform="translate(378.4 127.5) rotate(-90)">Frequency / Hz</text>
<text class="tt" text-anchor="middle" x="542.2" y="11.5">The 1st order FMSST</text>
<text class="pl" style="font-size:14.6px" x="362.0" y="12.6">(b)</text>
<defs><path id="rc" d="M44.7 513.5 L45.6 512.4 L46.5 511.5 L47.4 510.6 L48.4 509.7 L49.3 508.8 L50.2 508.0 L51.1 507.1 L52.0 506.2 L52.9 505.4 L53.8 504.6 L54.7 503.9 L55.6 503.3 L56.5 502.8 L57.4 502.3 L58.3 501.7 L59.2 501.0 L60.1 500.2 L61.0 499.3 L61.9 498.5 L62.8 497.7 L63.8 496.9 L64.7 496.2 L65.6 495.6 L66.5 495.0 L67.4 494.5 L68.3 493.9 L69.2 493.2 L70.1 492.6 L71.0 491.8 L71.9 491.1 L72.8 490.4 L73.7 489.7 L74.6 489.1 L75.5 488.5 L76.4 487.9 L77.3 487.2 L78.2 486.5 L79.2 485.7 L80.1 484.9 L81.0 484.2 L81.9 483.5 L82.8 482.9 L83.7 482.4 L84.6 482.0 L85.5 481.6 L86.4 481.2 L87.3 480.7 L88.2 480.2 L89.1 479.6 L90.0 478.9 L90.9 478.3 L91.8 477.6 L92.7 476.9 L93.6 476.3 L94.6 475.7 L95.5 475.1 L96.4 474.4 L97.3 473.8 L98.2 473.1 L99.1 472.3 L100.0 471.6 L100.9 470.9 L101.8 470.3 L102.7 469.7 L103.6 469.2 L104.5 468.7 L105.4 468.1 L106.3 467.5 L107.2 466.8 L108.1 466.0 L109.0 465.1 L110.0 464.2 L110.9 463.4 L111.8 462.6 L112.7 461.9 L113.6 461.3 L114.5 460.7 L115.4 460.1 L116.3 459.5 L117.2 458.9 L118.1 458.3 L119.0 457.6 L119.9 457.0 L120.8 456.5 L121.7 455.9 L122.6 455.5 L123.5 455.0 L124.4 454.5 L125.4 453.9 L126.3 453.3 L127.2 452.5 L128.1 451.8 L129.0 451.0 L129.9 450.3 L130.8 449.6 L131.7 449.1 L132.6 448.6 L133.5 448.1 L134.4 447.7 L135.3 447.2 L136.2 446.6 L137.1 446.0 L138.0 445.3 L138.9 444.5 L139.8 443.8 L140.8 443.2 L141.7 442.5 L142.6 441.8 L143.5 441.2 L144.4 440.4 L148.3 436.4 L151.1 432.6 L152.8 431.3 M163.0 430.9 L164.6 429.5 L167.5 424.5 L171.4 421.8 L172.7 421.0 L174.1 420.1 L175.5 419.0 L176.8 417.7 L178.2 416.5 L179.5 415.4 L180.9 414.5 L182.2 413.6 L183.6 412.6 L184.9 411.6 L186.3 410.5 L187.6 409.5 L189.0 408.6 L190.3 407.7 L191.7 406.8 L193.1 405.7 L194.4 404.5 L195.8 403.3 L197.1 402.2 L198.5 401.3 L199.8 400.7 L201.2 400.0 L202.5 399.3 L203.9 398.5 L205.2 397.6 L206.6 396.6 L207.9 395.7 L209.3 394.9 L210.7 394.0 L212.0 393.0 L213.4 391.9 L214.7 390.7 L216.1 389.7 L217.4 388.8 L218.8 388.1 L220.1 387.3 L221.5 386.4 L222.8 385.3 L224.2 384.1 L225.5 382.8 L226.9 381.7 L228.3 380.6 L229.6 379.7 L231.0 378.7 L232.3 377.7 L233.7 376.6 L235.0 375.7 L236.4 374.9 L237.7 374.3 L239.1 373.6 L240.4 372.8 L241.8 371.8 L243.1 370.6 L244.5 369.5 L245.8 368.5 L247.2 367.7 L248.6 367.0 L249.9 366.2 L251.3 365.4 L252.6 364.4 L254.0 363.4 L255.3 362.5 L256.7 361.6 L258.0 360.7 L259.4 359.6 L260.7 358.4 L262.1 357.1 L263.4 355.8 L264.8 354.7 L266.2 353.9 L267.5 353.1 L268.9 352.3 L270.2 351.4 L271.6 350.4 L272.9 349.3 L274.3 348.3 L275.6 347.4 L277.0 346.5 L278.3 345.6 L279.7 344.6 L281.0 343.6 L282.4 342.6 L283.8 341.8 L285.1 341.2 L286.5 340.6 L287.8 339.9 L289.2 339.0 L290.5 337.9 L291.9 336.7 L293.2 335.6 L294.6 334.5 L295.9 333.6 L297.3 332.6 L298.6 331.6 L300.0 330.5 L301.3 329.4 L302.7 328.4 L304.1 327.6 L305.4 326.7 L306.8 325.8 L308.1 324.8 L309.5 323.6 L310.8 322.5 L312.2 321.5 L313.5 320.8 L314.9 320.3 L316.2 319.8 L317.6 319.4 L318.9 318.9 L320.3 318.4 M40.8 364.5 L41.7 364.6 L42.7 364.7 L43.6 364.9 L44.6 364.9 L45.5 365.0 L46.4 365.0 L47.4 365.0 L48.3 365.0 L49.3 365.0 L50.2 365.1 L51.1 365.3 L52.1 365.4 L53.0 365.6 L54.0 365.7 L54.9 365.7 L55.9 365.8 L56.8 365.9 L57.7 366.1 L58.7 366.4 L59.6 366.9 L60.6 367.4 L61.5 367.9 L62.4 368.4 L63.4 368.9 L64.3 369.3 L65.3 369.6 L66.2 369.8 L67.2 370.1 L68.1 370.4 L69.0 370.8 L70.0 371.2 L70.9 371.7 L71.9 372.1 L72.8 372.5 L73.7 372.9 L74.7 373.3 L75.6 373.7 L76.6 374.1 L77.5 374.6 L78.5 375.1 L79.4 375.7 L80.3 376.3 L81.3 376.9 L82.2 377.4 L83.2 377.8 L84.1 378.1 L85.0 378.4 L86.0 378.6 L86.9 379.0 L87.9 379.4 L88.8 380.0 L89.8 380.6 L90.7 381.3 L91.6 381.9 L92.6 382.5 L93.5 383.1 L94.5 383.7 L95.4 384.4 L96.3 385.0 L97.3 385.8 L98.2 386.5 L99.2 387.3 L100.1 388.1 L101.1 388.8 L102.0 389.4 L102.9 390.0 L103.9 390.5 L104.8 391.1 L105.8 391.7 L106.7 392.5 L107.6 393.3 L108.6 394.2 L109.5 395.1 L110.5 396.0 L111.4 396.8 L112.4 397.6 L113.3 398.2 L114.2 398.9 L115.2 399.5 L116.1 400.2 L117.1 400.9 L118.0 401.6 L118.9 402.3 L119.9 402.9 L120.8 403.5 L121.8 404.1 L122.7 404.6 L123.7 405.2 L124.6 405.8 L125.5 406.5 L126.5 407.3 L127.4 408.2 L128.4 409.1 L129.3 409.9 L130.2 410.7 L131.2 411.4 L132.1 412.1 L133.1 412.6 L134.0 413.2 L135.0 413.9 L135.9 414.6 L136.8 415.4 L137.8 416.2 L138.7 417.0 L139.7 417.8 L140.6 418.5 L141.5 419.3 L142.5 420.0 L143.4 420.8 L144.4 421.6 L148.3 426.2 L151.1 430.0 L152.8 431.3 M163.0 430.9 L164.6 432.4 L167.5 436.8 L171.4 438.8 L172.7 439.5 L174.1 440.3 L175.5 441.2 L176.8 442.3 L178.2 443.2 L179.5 443.9 L180.9 444.6 L182.2 445.2 L183.6 445.8 L184.9 446.5 L186.3 447.1 L187.6 447.6 L189.0 448.0 L190.3 448.3 L191.7 448.7 L193.1 449.3 L194.4 449.9 L195.8 450.5 L197.1 450.9 L198.5 451.1 L199.8 451.1 L201.2 451.0 L202.5 451.1 L203.9 451.2 L205.2 451.4 L206.6 451.6 L207.9 451.7 L209.3 451.8 L210.7 451.9 L212.0 452.1 L213.4 452.4 L214.7 452.7 L216.1 452.8 L217.4 452.7 L218.8 452.5 L220.1 452.3 L221.5 452.2 L222.8 452.2 L224.2 452.4 L225.5 452.4 L226.9 452.4 L228.3 452.2 L229.6 451.9 L231.0 451.7 L232.3 451.4 L233.7 451.1 L235.0 450.7 L236.4 450.0 L237.7 449.3 L239.1 448.6 L240.4 448.1 L241.8 447.7 L243.1 447.4 L244.5 447.1 L245.8 446.6 L247.2 445.9 L248.6 445.2 L249.9 444.5 L251.3 443.9 L252.6 443.3 L254.0 442.7 L255.3 442.0 L256.7 441.3 L258.0 440.6 L259.4 440.0 L260.7 439.6 L262.1 439.1 L263.4 438.6 L264.8 437.9 L266.2 436.9 L267.5 435.9 L268.9 434.8 L270.2 433.9 L271.6 433.1 L272.9 432.2 L274.3 431.3 L275.6 430.2 L277.0 429.2 L278.3 428.2 L279.7 427.3 L281.0 426.5 L282.4 425.5 L283.8 424.3 L285.1 423.1 L286.5 421.7 L287.8 420.6 L289.2 419.6 L290.5 418.7 L291.9 418.0 L293.2 417.1 L294.6 416.2 L295.9 415.2 L297.3 414.2 L298.6 413.3 L300.0 412.4 L301.3 411.4 L302.7 410.3 L304.1 409.1 L305.4 407.9 L306.8 406.8 L308.1 405.9 L309.5 405.1 L310.8 404.5 L312.2 403.7 L313.5 402.8 L314.9 401.8 L316.2 400.9 L317.6 400.2 L318.9 399.5 L320.3 399.0 M152.8 431.3 L155.1 431.6 L160.7 430.8 L163.0 430.9"/><path id="tec" d="M244.0 492.1 L245.8 494.0 L247.6 496.0 L249.5 497.6 L251.3 498.4 L253.1 498.3 L254.9 497.3 L256.7 495.7 L258.5 493.8 L260.3 492.1 L262.2 490.9 L264.0 490.4 L265.8 490.7 L267.6 491.4 L269.4 492.2 L271.2 492.7 L273.0 492.7 M261.1 464.8 L263.5 468.2 L265.9 471.1 L268.3 469.9 L270.6 464.9 L273.0 459.8 L275.4 457.7 L277.8 457.4 L280.1 455.7 L282.5 451.7 L284.9 448.8 L287.3 450.1 L289.6 455.0 L292.0 459.4 L294.4 460.8 L296.8 460.7 L299.1 462.4 M72.2 377.2 L73.8 376.2 L75.5 374.3 L77.1 371.9 L78.8 369.6 L80.4 368.0 L82.1 367.3 L83.8 367.5 L85.4 368.4 L87.1 369.4 L88.7 370.1 L90.4 370.0 L92.1 369.4 L93.7 368.3 L95.4 367.4 L97.0 367.1 L98.7 367.8 M71.1 424.4 L73.1 425.4 L75.0 428.4 L77.0 431.9 L79.0 433.4 L81.0 431.5 L83.0 427.2 L85.0 423.3 L87.0 421.4 L89.0 421.1 L90.9 420.1 L92.9 417.1 L94.9 413.0 L96.9 410.5 L98.9 411.3 L100.9 414.8 L102.9 418.6 M251.4 449.7 L253.6 451.4 L255.7 450.5 L257.8 446.6 L259.9 441.2 L262.1 436.6 L264.2 434.3 L266.3 433.6 L268.4 432.8 L270.5 430.6 L272.7 427.5 L274.8 425.4 L276.9 426.2 L279.0 429.8 L281.1 434.4 L283.3 437.7 L285.4 438.8 M118.2 475.7 L120.3 475.0 L122.3 476.0 L124.4 478.0 L126.5 479.6 L128.6 480.1 L130.7 479.6 L132.8 478.8 L134.8 479.0 L136.9 480.8 L139.0 484.1 L141.1 487.8 L143.2 490.6 L145.3 491.7 L147.3 491.2 L149.4 489.8 L151.5 489.0 M150.5 317.4 L152.4 313.2 L154.3 311.4 L156.1 312.0 L158.0 313.2 L159.9 313.5 L161.8 312.8 L163.6 312.3 L165.5 313.7 L167.4 317.6 L169.2 322.9 L171.1 327.5 L173.0 329.7 L174.9 329.4 L176.7 328.2 L178.6 327.6 L180.5 328.1 M141.4 357.1 L142.5 358.5 L143.7 359.6 L144.8 360.1 L146.0 359.9 L147.1 359.3 L148.3 358.7 L149.5 358.4 L150.6 358.9 L151.8 360.2 L152.9 362.2 L154.1 364.5 L155.2 366.6 L156.4 368.0 L157.6 368.5 L158.7 368.1 L159.9 366.8 M165.6 504.0 L166.6 504.8 L167.5 505.9 L168.5 507.2 L169.4 508.8 L170.4 510.6 L171.4 512.4 L172.3 514.1 L173.3 515.6 L174.2 516.7 L175.2 517.3 L176.2 517.3 L177.1 516.8 L178.1 515.8 L179.0 514.4 L180.0 512.7 L181.0 510.9 M120.5 433.1 L121.4 433.4 L122.4 434.0 L123.3 434.9 L124.2 436.1 L125.2 437.4 L126.1 438.7 L127.0 439.8 L128.0 440.5 L128.9 440.7 L129.9 440.5 L130.8 439.8 L131.7 438.6 L132.7 437.2 L133.6 435.7 L134.6 434.3 L135.5 433.0 M69.5 518.1 L70.8 518.1 L72.1 518.1 L73.5 518.1 L74.8 518.1 L76.1 518.1 L77.4 518.1 L78.7 518.1 L80.0 518.1 L81.4 518.1 L82.7 518.1 L84.0 518.1 L85.3 517.4 L86.6 516.9 L87.9 516.3 L89.2 514.9 L90.6 512.8 M197.9 371.6 L200.3 374.9 L202.6 376.5 L205.0 377.4 L207.3 380.8 L209.7 387.4 L212.0 393.3 L214.4 394.5 L216.8 391.6 L219.1 388.3 L221.5 386.9 L223.8 385.4 L226.2 380.6 L228.5 373.5 L230.9 368.4 L233.3 368.3 L235.6 371.5 M242.0 498.5 L244.1 500.8 L246.3 503.6 L248.4 505.6 L250.5 505.5 L252.7 503.1 L254.8 498.9 L257.0 494.3 L259.1 490.7 L261.2 488.5 L263.4 487.3 L265.5 486.0 L267.7 483.8 L269.8 480.5 L271.9 477.3 L274.1 475.4 L276.2 475.7 M145.4 489.9 L146.5 491.0 L147.6 491.9 L148.8 492.5 L149.9 492.7 L151.1 492.5 L152.2 491.7 L153.4 490.5 L154.5 489.0 L155.6 487.2 L156.8 485.5 L157.9 483.8 L159.1 482.4 L160.2 481.4 L161.4 480.7 L162.5 480.5 L163.6 480.5 M108.5 411.8 L110.9 413.5 L113.4 413.4 L115.9 414.1 L118.3 417.6 L120.8 422.6 L123.3 425.7 L125.7 424.7 L128.2 421.0 L130.7 417.9 L133.1 416.9 L135.6 416.2 L138.1 413.2 L140.5 407.8 L143.0 402.9 L145.5 401.8 L147.9 404.3 M287.4 397.4 L289.2 398.7 L291.0 400.7 L292.8 401.9 L294.6 402.0 L296.4 402.3 L298.1 404.4 L299.9 408.6 L301.7 413.8 L303.5 418.0 L305.3 419.5 L307.1 418.3 L308.9 416.0 L310.7 414.2 L312.5 413.5 L314.3 413.0 L316.1 411.2 M177.1 316.8 L178.4 317.1 L179.7 317.8 L181.1 319.1 L182.4 321.0 L183.7 323.3 L185.1 325.6 L186.4 327.5 L187.7 328.6 L189.1 328.7 L190.4 327.8 L191.7 326.1 L193.1 324.1 L194.4 322.1 L195.7 320.5 L197.1 319.5 L198.4 319.2 M179.8 516.9 L181.3 518.1 L182.8 518.1 L184.3 518.1 L185.9 518.1 L187.4 517.3 L188.9 514.0 L190.5 511.2 L192.0 509.7 L193.5 509.4 L195.0 509.8 L196.6 509.9 L198.1 509.1 L199.6 507.1 L201.2 504.7 L202.7 502.9 L204.2 502.5 M190.3 492.1 L192.5 491.9 L194.6 489.7 L196.8 486.3 L199.0 482.9 L201.2 480.7 L203.3 480.1 L205.5 480.7 L207.7 481.2 L209.9 480.8 L212.0 479.1 L214.2 476.8 L216.4 475.1 L218.6 475.0 L220.7 476.7 L222.9 479.4 L225.1 481.9 M69.2 478.2 L70.7 475.4 L72.1 472.4 L73.6 469.3 L75.0 466.7 L76.5 464.7 L77.9 463.5 L79.4 462.9 L80.8 462.9 L82.3 463.0 L83.8 463.1 L85.2 462.8 L86.7 462.2 L88.1 461.1 L89.6 460.0 L91.0 459.0 L92.5 458.4 M126.6 458.7 L129.2 455.9 L131.7 451.5 L134.3 449.0 L136.9 449.7 L139.5 451.5 L142.1 451.8 L144.7 450.2 L147.2 449.4 L149.8 451.9 L152.4 457.2 L155.0 462.1 L157.6 463.8 L160.2 463.2 L162.7 463.3 L165.3 465.5 L167.9 468.3 M86.6 491.6 L88.2 492.8 L89.9 494.6 L91.5 496.0 L93.2 496.7 L94.8 496.9 L96.5 497.6 L98.1 499.5 L99.8 503.0 L101.4 507.4 L103.1 511.8 L104.7 515.0 L106.4 516.2 L108.0 515.5 L109.7 513.7 L111.3 511.7 L113.0 510.4 M83.4 355.5 L85.1 357.5 L86.7 359.5 L88.3 360.6 L90.0 360.8 L91.6 360.6 L93.2 361.1 L94.9 363.2 L96.5 366.7 L98.1 370.7 L99.7 373.9 L101.4 375.4 L103.0 374.9 L104.6 373.2 L106.3 371.6 L107.9 370.8 L109.5 371.0 M106.4 342.5 L107.7 342.7 L109.0 343.5 L110.2 344.9 L111.5 346.7 L112.8 348.7 L114.0 350.3 L115.3 351.3 L116.6 351.3 L117.8 350.4 L119.1 348.8 L120.4 346.7 L121.6 344.6 L122.9 342.9 L124.2 341.8 L125.4 341.3 L126.7 341.4 M287.9 486.8 L288.9 486.4 L290.0 486.5 L291.0 487.0 L292.1 487.8 L293.1 488.6 L294.2 489.4 L295.3 490.1 L296.3 490.5 L297.4 490.6 L298.4 490.7 L299.5 490.6 L300.5 490.6 L301.6 490.9 L302.7 491.5 L303.7 492.5 L304.8 494.0 M247.7 496.1 L249.8 498.3 L252.0 501.6 L254.2 503.3 L256.4 501.6 L258.6 496.8 L260.8 491.9 L263.0 489.0 L265.1 488.0 L267.3 486.8 L269.5 483.7 L271.7 479.5 L273.9 476.8 L276.1 477.7 L278.2 481.5 L280.4 485.6 L282.6 487.5 M295.0 426.2 L296.0 424.5 L297.0 423.4 L298.1 422.8 L299.1 422.8 L300.1 423.2 L301.1 423.8 L302.1 424.4 L303.2 424.9 L304.2 425.1 L305.2 424.9 L306.2 424.4 L307.2 423.7 L308.3 422.9 L309.3 422.3 L310.3 422.0 L311.3 422.2 M192.7 484.4 L194.0 485.3 L195.3 485.6 L196.6 485.1 L197.9 483.8 L199.2 481.9 L200.5 479.6 L201.8 477.3 L203.1 475.4 L204.4 474.0 L205.7 473.2 L207.1 473.1 L208.4 473.3 L209.7 473.7 L211.0 474.0 L212.3 473.8 L213.6 473.3 M49.8 428.0 L52.1 424.8 L54.4 422.5 L56.7 421.5 L59.0 421.6 L61.3 422.5 L63.6 423.6 L65.8 424.4 L68.1 424.5 L70.4 424.3 L72.7 424.0 L75.0 424.4 L77.3 425.9 L79.6 428.6 L81.9 432.3 L84.2 436.4 L86.5 440.1 M173.9 371.6 L174.9 371.6 L176.0 372.2 L177.0 373.3 L178.0 374.5 L179.0 375.7 L180.0 376.5 L181.1 376.9 L182.1 377.0 L183.1 376.9 L184.1 376.9 L185.2 377.2 L186.2 378.1 L187.2 379.7 L188.2 381.9 L189.2 384.6 L190.3 387.5 M91.5 357.6 L93.2 359.0 L95.0 361.3 L96.7 364.9 L98.5 369.4 L100.2 373.3 L102.0 374.9 L103.8 373.8 L105.5 370.6 L107.3 367.0 L109.0 364.4 L110.8 363.0 L112.6 362.1 L114.3 360.5 L116.1 357.5 L117.8 353.5 L119.6 350.2 M104.8 423.1 L105.9 424.8 L106.9 426.3 L108.0 427.4 L109.1 427.9 L110.2 427.5 L111.3 426.2 L112.4 424.2 L113.4 421.8 L114.5 419.2 L115.6 416.8 L116.7 414.9 L117.8 413.6 L118.9 412.9 L120.0 412.6 L121.0 412.4 L122.1 412.2 M213.8 372.4 L215.0 373.7 L216.2 375.2 L217.4 376.3 L218.6 376.8 L219.8 376.5 L221.0 375.8 L222.2 375.1 L223.3 375.1 L224.5 376.0 L225.7 377.8 L226.9 380.3 L228.1 382.8 L229.3 384.8 L230.5 385.7 L231.7 385.5 L232.9 384.4 M115.7 361.3 L116.6 361.4 L117.5 360.9 L118.4 359.8 L119.3 358.3 L120.2 356.3 L121.0 354.2 L121.9 352.0 L122.8 349.9 L123.7 348.1 L124.6 346.8 L125.5 345.8 L126.4 345.3 L127.3 345.1 L128.2 345.2 L129.1 345.3 L130.0 345.4 M291.1 376.8 L293.6 379.9 L296.1 381.8 L298.6 381.2 L301.1 378.2 L303.6 374.8 L306.1 373.0 L308.6 373.3 L311.1 374.5 L313.6 374.6 L316.1 372.9 L318.6 370.5 L320.3 369.5 L320.3 371.3 L320.3 375.1 L320.3 379.0 L320.3 381.0 M57.8 362.0 L60.1 364.1 L62.3 364.4 L64.5 362.0 L66.8 357.1 L69.0 351.5 L71.2 346.9 L73.5 344.1 L75.7 342.7 L77.9 341.3 L80.2 338.9 L82.4 335.8 L84.6 333.1 L86.9 332.5 L89.1 334.8 L91.4 339.2 L93.6 343.9 M290.3 493.0 L291.6 492.0 L292.8 491.3 L294.1 491.0 L295.3 491.1 L296.6 491.5 L297.8 492.0 L299.1 492.7 L300.3 493.3 L301.6 493.8 L302.8 494.1 L304.1 494.1 L305.3 493.9 L306.5 493.6 L307.8 493.1 L309.0 492.7 L310.3 492.3 M120.1 500.3 L121.8 500.7 L123.4 501.9 L125.1 503.7 L126.8 505.7 L128.4 507.1 L130.1 507.5 L131.8 506.5 L133.5 504.4 L135.1 501.8 L136.8 499.4 L138.5 497.7 L140.2 496.9 L141.8 496.9 L143.5 497.2 L145.2 497.1 L146.9 496.3 M81.1 452.9 L83.4 456.2 L85.6 458.7 L87.9 458.9 L90.2 456.6 L92.5 452.7 L94.8 448.9 L97.1 446.7 L99.3 446.2 L101.6 446.3 L103.9 445.7 L106.2 443.9 L108.5 441.6 L110.8 440.4 L113.0 441.5 L115.3 445.2 L117.6 450.3 M92.6 490.6 L95.3 490.2 L97.9 492.9 L100.5 494.5 L103.1 493.4 L105.7 492.5 L108.4 495.4 L111.0 500.7 L113.6 503.9 L116.2 503.0 L118.8 500.9 L121.5 501.2 L124.1 503.3 L126.7 503.2 L129.3 499.2 L131.9 494.9 L134.6 494.2 M191.3 359.5 L192.4 359.9 L193.5 360.5 L194.6 361.4 L195.8 362.6 L196.9 364.0 L198.0 365.5 L199.1 366.9 L200.3 368.0 L201.4 368.8 L202.5 369.1 L203.6 368.8 L204.8 368.1 L205.9 366.9 L207.0 365.5 L208.1 363.9 L209.2 362.3 M67.1 470.0 L69.1 471.2 L71.2 473.0 L73.3 475.6 L75.3 478.8 L77.4 481.8 L79.5 484.0 L81.6 484.6 L83.6 483.7 L85.7 481.3 L87.8 478.3 L89.9 475.3 L91.9 472.9 L94.0 471.4 L96.1 470.5 L98.1 469.7 L100.2 468.4 M179.1 461.1 L181.4 462.9 L183.6 466.7 L185.9 469.7 L188.2 468.8 L190.4 464.5 L192.7 460.3 L194.9 458.8 L197.2 458.9 L199.4 457.6 L201.7 454.0 L203.9 450.4 L206.2 450.3 L208.5 454.1 L210.7 458.5 L213.0 460.5 L215.2 460.5 M304.5 483.9 L305.7 482.1 L307.0 481.6 L308.2 482.0 L309.5 482.9 L310.7 483.7 L312.0 484.0 L313.3 483.8 L314.5 483.5 L315.8 483.6 L317.0 484.4 L318.3 486.5 L319.5 489.6 L320.3 493.2 L320.3 496.9 L320.3 499.7 L320.3 501.4 M54.2 463.4 L56.3 464.3 L58.4 463.3 L60.5 460.5 L62.6 456.9 L64.7 454.1 L66.8 453.0 L68.9 453.4 L71.0 454.1 L73.1 454.0 L75.2 452.3 L77.3 449.9 L79.4 448.0 L81.5 447.9 L83.6 449.8 L85.7 452.7 L87.8 455.1 M251.2 302.1 L253.4 303.7 L255.6 304.3 L257.8 306.6 L260.0 311.3 L262.2 316.4 L264.4 318.6 L266.6 316.6 L268.8 312.2 L271.0 308.6 L273.3 306.7 L275.5 304.9 L277.7 300.8 L279.9 299.1 L282.1 299.1 L284.3 299.1 L286.5 299.1 M313.6 348.2 L316.0 350.3 L318.3 352.0 L320.3 352.3 L320.3 351.0 L320.3 348.5 L320.3 345.9 L320.3 344.0 L320.3 343.5 L320.3 344.1 L320.3 345.1 L320.3 345.5 L320.3 344.9 L320.3 343.2 L320.3 341.3 L320.3 340.1 L320.3 340.4 M291.0 348.8 L292.0 349.5 L293.0 349.8 L293.9 349.5 L294.9 348.7 L295.9 347.2 L296.9 345.2 L297.8 342.8 L298.8 340.2 L299.8 337.5 L300.8 335.1 L301.7 332.9 L302.7 331.2 L303.7 330.0 L304.7 329.1 L305.6 328.5 L306.6 328.0 M255.0 330.5 L256.9 332.0 L258.8 332.8 L260.8 334.5 L262.7 338.1 L264.7 343.0 L266.6 346.8 L268.5 347.7 L270.5 345.4 L272.4 341.6 L274.4 338.4 L276.3 336.7 L278.2 335.5 L280.2 333.1 L282.1 328.7 L284.1 323.4 L286.0 319.5 M271.8 440.8 L273.8 440.8 L275.8 440.1 L277.7 439.6 L279.7 440.1 L281.7 441.8 L283.6 444.4 L285.6 446.9 L287.5 448.4 L289.5 448.2 L291.5 446.4 L293.4 443.8 L295.4 441.5 L297.3 440.1 L299.3 439.7 L301.3 440.0 L303.2 439.9 M121.0 467.1 L123.2 463.6 L125.5 460.9 L127.7 460.3 L130.0 461.6 L132.3 463.4 L134.5 464.3 L136.8 463.8 L139.1 462.8 L141.3 462.7 L143.6 464.8 L145.8 468.9 L148.1 473.3 L150.4 476.5 L152.6 477.5 L154.9 476.9 L157.1 476.3 M200.0 419.4 L202.0 417.3 L204.1 415.8 L206.2 415.3 L208.3 415.7 L210.4 416.8 L212.5 418.1 L214.6 419.2 L216.7 419.7 L218.8 419.6 L220.9 419.0 L223.0 418.3 L225.1 417.9 L227.2 418.2 L229.3 419.6 L231.4 421.8 L233.5 424.4 M184.5 508.1 L187.0 509.0 L189.6 511.3 L192.1 514.4 L194.7 516.8 L197.2 517.4 L199.8 515.9 L202.3 512.9 L204.9 510.1 L207.4 508.4 L209.9 508.2 L212.5 508.7 L215.0 508.7 L217.6 507.4 L220.1 504.9 L222.7 502.4 L225.2 501.1 M305.3 371.4 L306.2 371.8 L307.2 372.7 L308.1 374.0 L309.1 375.5 L310.1 376.8 L311.0 377.7 L312.0 377.9 L312.9 377.4 L313.9 376.2 L314.9 374.5 L315.8 372.6 L316.8 370.8 L317.7 369.4 L318.7 368.5 L319.6 368.3 L320.3 368.4 M116.7 462.3 L118.1 463.2 L119.4 463.8 L120.7 463.9 L122.0 463.5 L123.4 462.7 L124.7 461.5 L126.0 460.0 L127.3 458.4 L128.7 456.8 L130.0 455.3 L131.3 454.1 L132.7 453.2 L134.0 452.8 L135.3 452.7 L136.6 452.8 L138.0 453.2"/><path id="toc" d="M319.7 305.3 L320.3 300.4 L320.3 299.1 L320.3 299.1 L320.3 299.1 L320.3 299.1 L320.3 299.1 L320.3 299.1 L320.3 299.1 L320.3 299.1 L320.3 301.4 L320.3 303.2 L320.3 302.1 L320.3 300.1 L320.3 299.8 L320.3 301.4 L320.3 302.3 M221.4 451.1 L223.3 452.5 L225.3 452.2 L227.2 449.8 L229.1 445.7 L231.0 441.4 L233.0 438.1 L234.9 436.4 L236.8 435.9 L238.7 435.6 L240.7 434.6 L242.6 432.6 L244.5 430.2 L246.5 428.6 L248.4 429.0 L250.3 431.5 L252.2 435.3 M108.6 446.1 L111.0 448.7 L113.4 450.8 L115.9 450.7 L118.3 451.3 L120.8 455.4 L123.2 461.7 L125.7 465.6 L128.1 464.8 L130.5 461.8 L133.0 460.3 L135.4 460.5 L137.9 458.8 L140.3 453.4 L142.8 447.2 L145.2 444.7 L147.7 446.5 M74.1 351.9 L76.5 353.3 L78.8 351.1 L81.2 345.6 L83.5 340.0 L85.9 336.9 L88.3 336.2 L90.6 335.5 L93.0 333.0 L95.3 329.9 L97.7 329.1 L100.0 332.1 L102.4 337.5 L104.7 341.9 L107.1 343.5 L109.4 343.3 L111.8 344.1 M175.8 341.2 L176.8 340.6 L177.7 339.4 L178.7 337.6 L179.7 335.3 L180.6 332.9 L181.6 330.5 L182.5 328.3 L183.5 326.7 L184.4 325.5 L185.4 324.9 L186.3 324.8 L187.3 324.9 L188.2 325.0 L189.2 325.1 L190.2 324.9 L191.1 324.4 M264.9 378.3 L267.5 377.7 L270.1 375.1 L272.7 370.8 L275.3 366.2 L277.9 362.5 L280.5 360.4 L283.1 359.7 L285.6 359.6 L288.2 359.0 L290.8 357.6 L293.4 355.7 L296.0 354.3 L298.6 354.5 L301.2 356.9 L303.8 360.9 L306.4 365.4 M125.2 492.7 L127.0 493.3 L128.9 492.7 L130.8 490.9 L132.6 488.3 L134.5 485.4 L136.4 482.8 L138.2 481.0 L140.1 480.2 L141.9 480.2 L143.8 480.7 L145.7 481.0 L147.5 480.9 L149.4 480.2 L151.3 479.1 L153.1 477.9 L155.0 477.2 M202.1 447.8 L203.4 447.8 L204.7 447.0 L206.1 445.5 L207.4 443.4 L208.7 441.0 L210.0 438.6 L211.3 436.7 L212.6 435.3 L213.9 434.6 L215.2 434.5 L216.5 434.8 L217.8 435.2 L219.2 435.3 L220.5 435.1 L221.8 434.4 L223.1 433.4 M128.9 458.4 L130.6 460.9 L132.2 462.3 L133.9 461.9 L135.5 459.7 L137.2 456.7 L138.8 454.3 L140.5 453.3 L142.1 453.8 L143.7 454.9 L145.4 455.4 L147.0 454.6 L148.7 452.9 L150.3 451.1 L152.0 450.6 L153.6 452.0 L155.3 455.1 M158.0 436.0 L159.4 432.5 L160.8 430.5 L162.2 430.0 L163.6 430.7 L165.0 431.7 L166.4 432.3 L167.8 432.3 L169.2 432.1 L170.6 432.2 L172.0 433.6 L173.4 436.5 L174.8 440.8 L176.2 445.5 L177.6 449.7 L179.0 452.5 L180.4 453.7 M109.2 343.2 L110.2 341.1 L111.1 338.8 L112.1 336.6 L113.1 334.9 L114.0 333.8 L115.0 333.4 L115.9 333.6 L116.9 334.2 L117.9 334.9 L118.8 335.4 L119.8 335.5 L120.8 335.2 L121.7 334.5 L122.7 333.5 L123.6 332.7 L124.6 332.2 M139.8 428.3 L141.0 426.9 L142.1 425.7 L143.2 424.8 L144.4 424.2 L145.5 423.9 L146.7 423.9 L147.8 424.2 L148.9 424.7 L150.1 425.4 L151.2 426.1 L152.4 426.8 L153.5 427.4 L154.7 427.8 L155.8 428.1 L156.9 428.2 L158.1 428.2 M272.4 371.2 L273.8 369.5 L275.2 367.1 L276.6 364.2 L278.0 361.5 L279.4 359.2 L280.8 357.5 L282.2 356.7 L283.6 356.6 L285.0 356.9 L286.4 357.4 L287.7 357.7 L289.1 357.7 L290.5 357.2 L291.9 356.5 L293.3 355.9 L294.7 355.6 M318.1 311.8 L320.3 305.6 L320.3 302.5 L320.3 302.9 L320.3 303.5 L320.3 301.9 L320.3 299.8 L320.3 300.8 L320.3 305.4 L320.3 310.2 L320.3 311.5 L320.3 309.6 L320.3 308.1 L320.3 308.8 L320.3 309.5 L320.3 306.7 L320.3 300.6 M41.8 330.5 L43.5 330.7 L45.3 329.3 L47.0 326.4 L48.7 322.9 L50.4 320.0 L52.2 318.4 L53.9 318.2 L55.6 318.7 L57.4 319.2 L59.1 319.0 L60.8 317.9 L62.5 316.5 L64.3 315.6 L66.0 316.2 L67.7 318.5 L69.4 322.1 M41.2 396.9 L43.5 393.6 L45.7 391.8 L48.0 391.4 L50.2 391.9 L52.5 392.5 L54.7 392.7 L56.9 392.1 L59.2 391.2 L61.4 390.6 L63.7 391.0 L65.9 392.8 L68.2 395.9 L70.4 399.5 L72.7 402.8 L74.9 404.9 L77.2 405.4 M162.4 358.1 L163.8 360.0 L165.3 360.6 L166.8 359.3 L168.3 356.5 L169.8 353.0 L171.2 350.4 L172.7 349.2 L174.2 349.3 L175.7 349.9 L177.1 349.9 L178.6 348.8 L180.1 346.7 L181.6 344.8 L183.1 344.1 L184.5 345.3 L186.0 348.1 M240.2 373.8 L242.1 375.2 L244.1 377.2 L246.0 379.5 L247.9 381.6 L249.8 383.0 L251.7 383.2 L253.7 382.3 L255.6 380.5 L257.5 378.4 L259.4 376.5 L261.3 375.3 L263.3 375.0 L265.2 375.3 L267.1 376.0 L269.0 376.5 L270.9 376.3 M176.7 387.7 L178.3 388.9 L179.9 389.7 L181.5 390.3 L183.1 391.0 L184.7 392.3 L186.3 394.2 L187.9 396.8 L189.5 399.7 L191.1 402.6 L192.8 405.0 L194.4 406.5 L196.0 406.8 L197.6 406.0 L199.2 404.4 L200.8 402.3 L202.4 400.1 M41.0 366.5 L42.6 368.2 L44.1 370.1 L45.7 372.1 L47.3 373.7 L48.8 374.6 L50.4 374.6 L52.0 373.8 L53.5 372.3 L55.1 370.3 L56.6 368.3 L58.2 366.5 L59.8 365.2 L61.3 364.6 L62.9 364.5 L64.5 364.8 L66.0 365.1 M248.5 379.8 L251.0 384.3 L253.6 386.2 L256.2 382.2 L258.7 376.1 L261.3 373.4 L263.9 373.2 L266.4 371.3 L269.0 367.2 L271.5 366.2 L274.1 370.9 L276.7 377.3 L279.2 380.3 L281.8 380.8 L284.3 383.5 L286.9 388.0 L289.5 389.1 M262.1 328.6 L263.3 329.8 L264.4 330.7 L265.6 331.1 L266.7 331.0 L267.9 330.6 L269.0 330.1 L270.2 329.6 L271.3 329.4 L272.5 329.8 L273.6 330.6 L274.8 332.0 L275.9 333.8 L277.1 335.6 L278.2 337.3 L279.4 338.5 L280.6 339.2 M153.3 455.3 L155.5 455.1 L157.7 456.5 L159.8 460.2 L162.0 464.4 L164.2 465.8 L166.4 463.8 L168.6 460.4 L170.8 458.6 L173.0 459.0 L175.1 459.7 L177.3 458.2 L179.5 454.7 L181.7 451.8 L183.9 452.1 L186.1 455.6 L188.3 459.5 M290.3 398.7 L291.4 396.6 L292.5 394.8 L293.6 393.3 L294.7 392.3 L295.9 391.8 L297.0 391.8 L298.1 392.1 L299.2 392.7 L300.3 393.4 L301.5 394.0 L302.6 394.4 L303.7 394.4 L304.8 394.3 L305.9 393.9 L307.1 393.4 L308.2 393.0 M39.1 409.8 L39.1 411.2 L39.1 412.2 L39.1 412.6 L39.1 412.3 L40.4 411.3 L41.7 409.9 L43.0 408.2 L44.3 406.5 L45.6 405.2 L46.9 404.4 L48.2 404.2 L49.5 404.5 L50.8 405.1 L52.1 405.9 L53.4 406.6 L54.8 406.9 M254.3 406.3 L256.1 407.1 L258.0 407.5 L259.8 408.0 L261.7 409.4 L263.5 411.7 L265.4 414.9 L267.2 418.1 L269.1 420.4 L270.9 421.2 L272.8 420.2 L274.6 417.9 L276.5 415.0 L278.3 412.3 L280.2 410.3 L282.0 409.2 L283.9 408.3 M258.1 423.3 L259.9 424.9 L261.7 428.0 L263.5 431.5 L265.4 433.3 L267.2 432.3 L269.0 428.6 L270.8 424.0 L272.6 420.5 L274.5 418.7 L276.3 417.8 L278.1 416.1 L279.9 412.9 L281.8 409.0 L283.6 406.1 L285.4 406.0 L287.2 408.7 M88.2 322.2 L89.7 323.0 L91.3 324.4 L92.9 326.4 L94.5 328.6 L96.1 330.2 L97.7 330.9 L99.2 330.3 L100.8 328.5 L102.4 325.8 L104.0 322.9 L105.6 320.2 L107.2 318.2 L108.8 317.0 L110.3 316.4 L111.9 315.9 L113.5 315.1 M184.0 369.4 L185.5 365.3 L187.1 361.7 L188.7 359.1 L190.3 357.7 L191.8 357.3 L193.4 357.5 L195.0 357.7 L196.5 357.6 L198.1 357.0 L199.7 356.1 L201.3 355.4 L202.8 355.4 L204.4 356.4 L206.0 358.6 L207.5 361.8 L209.1 365.4 M102.2 484.0 L103.8 485.4 L105.4 486.4 L107.1 487.2 L108.7 487.7 L110.3 488.2 L111.9 488.7 L113.5 489.6 L115.1 491.0 L116.8 492.8 L118.4 495.0 L120.0 497.5 L121.6 500.1 L123.2 502.5 L124.9 504.4 L126.5 505.7 L128.1 506.2 M84.4 494.8 L85.6 493.7 L86.8 493.3 L87.9 493.5 L89.1 494.2 L90.3 495.0 L91.5 495.7 L92.6 496.2 L93.8 496.3 L95.0 496.1 L96.2 495.6 L97.4 495.1 L98.5 494.8 L99.7 495.0 L100.9 495.8 L102.1 497.3 L103.2 499.2 M295.8 351.2 L297.4 351.5 L298.9 353.1 L300.5 354.6 L302.0 355.0 L303.6 354.2 L305.2 353.2 L306.7 353.2 L308.3 354.9 L309.8 358.1 L311.4 361.6 L312.9 363.9 L314.5 364.2 L316.0 362.8 L317.6 360.8 L319.1 359.6 L320.3 359.7 M260.6 359.2 L262.3 361.1 L264.1 362.4 L265.9 362.9 L267.6 362.8 L269.4 362.8 L271.2 363.4 L272.9 365.1 L274.7 367.9 L276.5 371.1 L278.2 374.1 L280.0 376.1 L281.8 376.6 L283.5 375.8 L285.3 374.1 L287.1 372.3 L288.8 371.0 M109.2 365.6 L110.9 367.9 L112.6 369.2 L114.3 368.3 L116.0 365.4 L117.7 361.6 L119.4 358.8 L121.1 357.7 L122.8 358.0 L124.5 358.4 L126.2 357.7 L127.9 355.6 L129.6 353.1 L131.3 351.8 L133.0 352.7 L134.7 355.6 L136.4 359.2 M111.2 485.6 L113.7 485.3 L116.1 484.9 L118.5 485.3 L120.9 486.7 L123.4 488.9 L125.8 491.5 L128.2 493.4 L130.6 494.0 L133.1 492.9 L135.5 490.5 L137.9 487.5 L140.3 484.8 L142.8 483.1 L145.2 482.2 L147.6 481.8 L150.0 481.2 M167.3 360.5 L169.9 361.1 L172.4 361.5 L175.0 363.4 L177.6 367.3 L180.1 371.7 L182.7 374.4 L185.2 374.1 L187.8 371.6 L190.4 369.1 L192.9 368.2 L195.5 368.8 L198.1 369.2 L200.6 367.8 L203.2 364.7 L205.8 361.5 L208.3 360.4 M230.5 452.1 L232.9 449.3 L235.2 447.6 L237.5 447.4 L239.8 448.2 L242.1 449.3 L244.4 450.0 L246.7 449.9 L249.0 449.2 L251.3 448.4 L253.6 448.2 L255.9 449.2 L258.2 451.6 L260.6 454.8 L262.9 458.3 L265.2 461.0 L267.5 462.5 M209.1 469.3 L210.1 466.6 L211.2 464.6 L212.3 463.6 L213.4 463.6 L214.5 464.3 L215.6 465.3 L216.7 466.2 L217.8 466.7 L218.9 466.7 L220.0 466.4 L221.1 466.0 L222.2 466.2 L223.3 467.1 L224.4 469.0 L225.5 471.8 L226.6 475.2 M154.5 436.9 L155.7 437.1 L156.9 437.8 L158.0 439.2 L159.2 441.2 L160.4 443.6 L161.6 445.8 L162.7 447.2 L163.9 447.6 L165.1 446.9 L166.3 445.2 L167.4 443.1 L168.6 441.0 L169.8 439.5 L170.9 438.6 L172.1 438.5 L173.3 438.7 M148.0 404.5 L149.4 404.1 L150.8 403.4 L152.1 402.8 L153.5 402.3 L154.9 402.3 L156.3 402.7 L157.7 403.7 L159.1 405.1 L160.5 406.6 L161.8 408.0 L163.2 409.0 L164.6 409.5 L166.0 409.3 L167.4 408.5 L168.8 407.2 L170.1 405.5 M52.0 427.6 L54.0 429.1 L56.0 431.4 L58.0 434.2 L60.0 436.8 L62.1 438.5 L64.1 438.7 L66.1 437.1 L68.1 434.3 L70.2 431.0 L72.2 427.9 L74.2 425.7 L76.2 424.3 L78.2 423.6 L80.3 422.8 L82.3 421.4 L84.3 419.2 M69.0 370.7 L71.6 371.9 L74.2 374.1 L76.7 377.0 L79.3 379.5 L81.9 380.7 L84.5 380.1 L87.0 377.8 L89.6 374.8 L92.2 372.1 L94.8 370.4 L97.3 369.9 L99.9 369.9 L102.5 369.8 L105.1 368.6 L107.7 366.5 L110.2 363.9 M221.7 362.4 L222.6 362.3 L223.5 362.4 L224.4 362.6 L225.3 363.1 L226.2 363.9 L227.1 364.9 L228.0 366.0 L228.9 367.3 L229.8 368.5 L230.7 369.7 L231.6 370.6 L232.5 371.2 L233.4 371.4 L234.3 371.2 L235.2 370.7 L236.1 369.8 M239.5 487.9 L241.9 488.0 L244.3 488.3 L246.7 491.2 L249.0 496.0 L251.4 498.7 L253.8 497.0 L256.1 492.9 L258.5 490.0 L260.9 489.5 L263.3 488.9 L265.6 485.5 L268.0 480.3 L270.4 477.3 L272.7 478.6 L275.1 482.4 L277.5 484.9 M85.5 375.5 L87.7 371.7 L89.8 367.6 L92.0 363.9 L94.1 361.1 L96.3 359.3 L98.4 358.5 L100.6 358.4 L102.7 358.4 L104.9 358.1 L107.0 357.3 L109.2 356.2 L111.3 355.0 L113.5 354.4 L115.6 354.7 L117.8 356.1 L119.9 358.7 M170.5 481.0 L172.1 477.2 L173.6 474.0 L175.2 472.5 L176.7 472.8 L178.3 474.0 L179.8 475.0 L181.4 475.1 L182.9 474.2 L184.5 473.4 L186.0 473.9 L187.6 476.3 L189.1 480.2 L190.7 484.6 L192.2 488.0 L193.8 489.6 L195.3 489.5 M251.3 310.2 L253.9 311.3 L256.5 313.5 L259.1 316.1 L261.6 318.0 L264.2 318.2 L266.8 316.5 L269.4 313.6 L271.9 310.4 L274.5 308.3 L277.1 307.4 L279.7 307.5 L282.3 307.6 L284.8 306.7 L287.4 304.7 L290.0 302.0 L292.6 299.7 M292.9 409.6 L294.8 410.4 L296.7 410.3 L298.7 410.2 L300.6 410.8 L302.6 412.6 L304.5 415.6 L306.4 418.7 L308.4 421.0 L310.3 421.5 L312.3 420.2 L314.2 417.7 L316.1 415.0 L318.1 413.1 L320.0 412.3 L320.3 412.0 L320.3 411.6 M125.9 389.5 L126.9 389.4 L127.8 388.7 L128.7 387.5 L129.7 385.9 L130.6 384.0 L131.5 381.9 L132.5 379.8 L133.4 377.8 L134.4 376.1 L135.3 374.8 L136.2 373.8 L137.2 373.3 L138.1 373.0 L139.0 373.0 L140.0 373.1 L140.9 373.1 M196.1 514.9 L198.2 515.9 L200.3 518.1 L202.5 518.1 L204.6 518.1 L206.7 518.1 L208.8 518.1 L211.0 518.1 L213.1 518.1 L215.2 518.1 L217.3 517.8 L219.5 518.1 L221.6 518.1 L223.7 518.1 L225.8 516.6 L228.0 514.2 L230.1 512.5 M39.1 481.4 L39.1 483.9 L39.5 486.2 L41.9 487.5 L44.4 488.3 L46.9 489.6 L49.3 492.5 L51.8 497.2 L54.3 502.5 L56.7 506.8 L59.2 508.6 L61.7 508.0 L64.1 506.0 L66.6 504.2 L69.0 503.2 L71.5 503.0 L74.0 502.2 M112.2 387.1 L113.9 386.5 L115.6 384.3 L117.4 381.3 L119.1 378.6 L120.8 377.2 L122.5 377.3 L124.2 378.4 L125.9 379.5 L127.7 379.6 L129.4 378.7 L131.1 377.2 L132.8 376.4 L134.5 377.0 L136.3 379.4 L138.0 382.9 L139.7 386.5 M127.2 502.0 L128.4 499.5 L129.6 497.2 L130.7 495.3 L131.9 494.1 L133.1 493.7 L134.3 493.9 L135.5 494.6 L136.7 495.2 L137.9 495.5 L139.1 495.3 L140.3 494.6 L141.4 493.4 L142.6 492.1 L143.8 491.0 L145.0 490.6 L146.2 490.9 M218.6 363.3 L221.1 363.2 L223.6 362.5 L226.2 362.1 L228.7 362.9 L231.3 365.0 L233.8 367.7 L236.3 370.0 L238.9 370.8 L241.4 369.8 L243.9 367.3 L246.5 364.5 L249.0 362.4 L251.5 361.4 L254.1 361.3 L256.6 361.3 L259.1 360.3 M102.5 393.7 L104.1 393.7 L105.7 394.4 L107.3 395.5 L109.0 396.9 L110.6 398.2 L112.2 399.2 L113.9 399.9 L115.5 400.3 L117.1 400.6 L118.7 401.1 L120.4 402.0 L122.0 403.6 L123.6 405.9 L125.3 408.8 L126.9 412.1 L128.5 415.5"/></defs>
<g clip-path="url(#clipc)">
<g filter="url(#parula)">
<rect x="36.1" y="295.4" width="287.2" height="226.4" fill="#000"/>
<g class="ln" filter="url(#b07)" stroke="#060606" stroke-width="1.2"><use href="#tec"/><use href="#toc"/></g>
<use href="#tec" class="ln" filter="url(#b05)" stroke="#090909" stroke-width="0.6"/>
<g filter="url(#b12)" fill="#141414" style="mix-blend-mode:lighten"><ellipse cx="318.9" cy="318.9" rx="2.1" ry="3.9"/><ellipse cx="318.9" cy="399.8" rx="2.1" ry="3.9"/><ellipse cx="40.2" cy="364.5" rx="1.8" ry="3.3"/><ellipse cx="44.2" cy="514.0" rx="1.4" ry="2.7"/></g>
<use href="#rc" class="ln" filter="url(#b1)" stroke="#0a0a0a" stroke-width="2.6"/>
<use href="#rc" class="ln" filter="url(#b05)" stroke="#1a1a1a" stroke-width="1.2"/>
<g filter="url(#b03)">
<use href="#rc" class="ln" stroke="#2c2c2c" stroke-width="0.6"/>
<path class="ln" stroke="#2c2c2c" stroke-width="0.6" d="M258.0 440.6 L260.7 439.6 M91.8 477.6 L93.6 476.3 M184.9 446.5 L187.6 447.6 M96.3 385.0 L98.2 386.5 M108.6 394.2 L110.5 396.0 M195.8 450.5 L198.5 451.1 M71.9 372.1 L73.7 372.9 M42.7 364.7 L44.6 364.9 M247.2 367.7 L249.9 366.2 M72.8 372.5 L74.7 373.3 M98.2 386.5 L100.1 388.1 M264.8 354.7 L267.5 353.1 M44.7 513.5 L46.5 511.5 M140.8 443.2 L142.6 441.8 M48.4 509.7 L50.2 508.0 M105.8 391.7 L107.6 393.3 M75.6 373.7 L77.5 374.6 M218.8 452.5 L221.5 452.2 M302.7 328.4 L305.4 326.7 M68.1 370.4 L70.0 371.2 M218.8 388.1 L221.5 386.4 M282.4 342.6 L285.1 341.2 M115.4 460.1 L117.2 458.9 M186.3 410.5 L189.0 408.6 M73.7 372.9 L75.6 373.7 M289.2 419.6 L291.9 418.0 M61.0 499.3 L62.8 497.7 M68.3 493.9 L70.1 492.6 M107.6 393.3 L109.5 395.1 M298.6 331.6 L301.3 329.4 M195.8 450.5 L198.5 451.1 M237.7 374.3 L240.4 372.8 M287.8 420.6 L290.5 418.7"/>
</g>
</g>
<g filter="url(#b03)">
<use href="#rc" class="ln2" stroke="#4a8ff0" stroke-opacity="0.8" stroke-width="0.8"/>
<use href="#rc" class="ln2" stroke="#3cc0dc" stroke-opacity="0.8" stroke-width="0.8" stroke-dasharray="2.2 6.1 1.3 9.7 3.1 5.3"/>
<use href="#rc" class="ln2" stroke="#c0b860" stroke-opacity="0.75" stroke-width="0.8" stroke-dasharray="1.4 13.3 2.1 9.2 0.9 17.6" stroke-dashoffset="4"/>
<use href="#rc" class="ln2" stroke="#e8a048" stroke-opacity="0.75" stroke-width="0.8" stroke-dasharray="1.1 19.9 1.7 15.3 0.8 24.2" stroke-dashoffset="9"/>
</g>
<path class="ln2" filter="url(#b03)" stroke="#dca24a" stroke-opacity="0.85" stroke-width="0.9" stroke-dasharray="3.5 1.8 4.5" d="M152.8 431.5 L163.0 430.8"/>
</g>
<path class="ax" d="M67.2 518.8 v-2.8 M67.2 298.4 v2.8 M95.4 518.8 v-2.8 M95.4 298.4 v2.8 M123.5 518.8 v-2.8 M123.5 298.4 v2.8 M151.7 518.8 v-2.8 M151.7 298.4 v2.8 M179.8 518.8 v-2.8 M179.8 298.4 v2.8 M208.0 518.8 v-2.8 M208.0 298.4 v2.8 M236.1 518.8 v-2.8 M236.1 298.4 v2.8 M264.3 518.8 v-2.8 M264.3 298.4 v2.8 M292.4 518.8 v-2.8 M292.4 298.4 v2.8 M39.1 496.8 h2.8 M320.3 496.8 h-2.8 M39.1 474.7 h2.8 M320.3 474.7 h-2.8 M39.1 452.7 h2.8 M320.3 452.7 h-2.8 M39.1 430.6 h2.8 M320.3 430.6 h-2.8 M39.1 408.6 h2.8 M320.3 408.6 h-2.8 M39.1 386.6 h2.8 M320.3 386.6 h-2.8 M39.1 364.5 h2.8 M320.3 364.5 h-2.8 M39.1 342.5 h2.8 M320.3 342.5 h-2.8 M39.1 320.4 h2.8 M320.3 320.4 h-2.8"/>
<rect class="ax" x="39.1" y="298.4" width="281.2" height="220.4"/>
<g class="tk" text-anchor="middle">
<text x="39.1" y="531.6">0</text>
<text x="67.2" y="531.6">0.5</text>
<text x="95.4" y="531.6">1</text>
<text x="123.5" y="531.6">1.5</text>
<text x="151.7" y="531.6">2</text>
<text x="179.8" y="531.6">2.5</text>
<text x="208.0" y="531.6">3</text>
<text x="236.1" y="531.6">3.5</text>
<text x="264.3" y="531.6">4</text>
<text x="292.4" y="531.6">4.5</text>
</g>
<g class="tk" text-anchor="end">
<text x="35.4" y="522.6">0</text>
<text x="35.4" y="500.6">10</text>
<text x="35.4" y="478.5">20</text>
<text x="35.4" y="456.5">30</text>
<text x="35.4" y="434.4">40</text>
<text x="35.4" y="412.4">50</text>
<text x="35.4" y="390.4">60</text>
<text x="35.4" y="368.3">70</text>
<text x="35.4" y="346.3">80</text>
<text x="35.4" y="324.2">90</text>
<text x="35.4" y="302.2">100</text>
</g>
<text class="lb" text-anchor="middle" x="179.4" y="545.3">Time / S</text>
<text class="lb" text-anchor="middle" transform="translate(16.1 408.7) rotate(-90)">Frequency / Hz</text>
<text class="tt" text-anchor="middle" x="179.8" y="292.7">The 2nd order MSST</text>
<text class="pl" style="font-size:13.8px" x="2.0" y="293.4">(c)</text>
<defs><path id="rd" d="M407.0 513.3 L407.9 512.2 L408.8 511.1 L409.8 510.2 L410.7 509.3 L411.6 508.5 L412.5 507.6 L413.4 506.7 L414.3 505.9 L415.2 505.0 L416.1 504.3 L417.0 503.6 L417.9 503.0 L418.8 502.5 L419.7 502.0 L420.6 501.5 L421.5 500.8 L422.4 500.1 L423.4 499.3 L424.3 498.5 L425.2 497.8 L426.1 497.0 L427.0 496.4 L427.9 495.8 L428.8 495.3 L429.7 494.8 L430.6 494.3 L431.5 493.7 L432.4 493.0 L433.3 492.3 L434.2 491.6 L435.1 490.8 L436.0 490.1 L436.9 489.4 L437.9 488.7 L438.8 488.0 L439.7 487.3 L440.6 486.6 L441.5 485.8 L442.4 485.0 L443.3 484.2 L444.2 483.4 L445.1 482.8 L446.0 482.2 L446.9 481.7 L447.8 481.3 L448.7 480.9 L449.6 480.4 L450.5 479.9 L451.5 479.2 L452.4 478.6 L453.3 477.9 L454.2 477.2 L455.1 476.5 L456.0 475.9 L456.9 475.3 L457.8 474.7 L458.7 474.2 L459.6 473.6 L460.5 473.0 L461.4 472.3 L462.3 471.7 L463.2 471.0 L464.1 470.4 L465.0 469.9 L466.0 469.4 L466.9 468.9 L467.8 468.4 L468.7 467.8 L469.6 467.1 L470.5 466.4 L471.4 465.5 L472.3 464.6 L473.2 463.8 L474.1 463.0 L475.0 462.2 L475.9 461.5 L476.8 460.9 L477.7 460.3 L478.6 459.7 L479.6 459.1 L480.5 458.4 L481.4 457.7 L482.3 457.0 L483.2 456.4 L484.1 455.8 L485.0 455.2 L485.9 454.7 L486.8 454.1 L487.7 453.5 L488.6 452.9 L489.5 452.1 L490.4 451.4 L491.3 450.6 L492.2 449.9 L493.2 449.2 L494.1 448.7 L495.0 448.2 L495.9 447.8 L496.8 447.4 L497.7 447.0 L498.6 446.5 L499.5 445.9 L500.4 445.3 L501.3 444.6 L502.2 443.9 L503.1 443.3 L504.0 442.6 L504.9 442.0 L505.8 441.4 L506.7 440.7 L510.7 436.4 L513.5 432.6 L515.2 431.3 M525.3 430.9 L527.0 429.5 L529.8 424.5 L533.8 421.4 L535.1 420.7 L536.5 419.9 L537.9 418.8 L539.2 417.7 L540.6 416.5 L541.9 415.5 L543.3 414.6 L544.6 413.8 L546.0 413.0 L547.3 412.0 L548.7 411.0 L550.0 410.0 L551.4 409.0 L552.8 408.0 L554.1 407.0 L555.5 405.9 L556.8 404.7 L558.2 403.4 L559.5 402.2 L560.9 401.2 L562.2 400.5 L563.6 399.8 L564.9 399.1 L566.3 398.2 L567.7 397.2 L569.0 396.2 L570.4 395.3 L571.7 394.4 L573.1 393.6 L574.4 392.7 L575.8 391.7 L577.1 390.7 L578.5 389.7 L579.8 388.9 L581.2 388.2 L582.6 387.5 L583.9 386.7 L585.3 385.7 L586.6 384.5 L588.0 383.2 L589.3 382.0 L590.7 381.0 L592.0 380.0 L593.4 379.0 L594.7 377.9 L596.1 376.9 L597.5 375.8 L598.8 374.9 L600.2 374.1 L601.5 373.4 L602.9 372.5 L604.2 371.4 L605.6 370.3 L606.9 369.1 L608.3 368.1 L609.6 367.3 L611.0 366.6 L612.4 365.9 L613.7 365.2 L615.1 364.3 L616.4 363.4 L617.8 362.5 L619.1 361.6 L620.5 360.8 L621.8 359.8 L623.2 358.7 L624.6 357.4 L625.9 356.2 L627.3 355.1 L628.6 354.2 L630.0 353.5 L631.3 352.7 L632.7 351.7 L634.0 350.6 L635.4 349.5 L636.7 348.3 L638.1 347.3 L639.5 346.3 L640.8 345.4 L642.2 344.3 L643.5 343.3 L644.9 342.3 L646.2 341.4 L647.6 340.8 L648.9 340.2 L650.3 339.5 L651.6 338.7 L653.0 337.7 L654.4 336.6 L655.7 335.5 L657.1 334.5 L658.4 333.6 L659.8 332.8 L661.1 331.9 L662.5 330.9 L663.8 329.8 L665.2 328.9 L666.5 328.0 L667.9 327.1 L669.3 326.2 L670.6 325.1 L672.0 323.9 L673.3 322.7 L674.7 321.6 L676.0 320.8 L677.4 320.2 L678.7 319.7 L680.1 319.2 L681.4 318.7 L682.8 318.1 M403.1 364.3 L404.0 364.5 L405.0 364.6 L405.9 364.8 L406.9 364.8 L407.8 364.8 L408.7 364.8 L409.7 364.8 L410.6 364.8 L411.6 364.8 L412.5 364.9 L413.5 365.1 L414.4 365.3 L415.3 365.4 L416.3 365.6 L417.2 365.7 L418.2 365.9 L419.1 366.1 L420.1 366.4 L421.0 366.8 L421.9 367.2 L422.9 367.8 L423.8 368.3 L424.8 368.8 L425.7 369.2 L426.6 369.5 L427.6 369.7 L428.5 369.9 L429.5 370.2 L430.4 370.4 L431.4 370.8 L432.3 371.2 L433.2 371.7 L434.2 372.1 L435.1 372.5 L436.1 372.9 L437.0 373.3 L438.0 373.7 L438.9 374.1 L439.8 374.5 L440.8 375.1 L441.7 375.6 L442.7 376.2 L443.6 376.7 L444.6 377.1 L445.5 377.4 L446.4 377.7 L447.4 378.0 L448.3 378.3 L449.3 378.7 L450.2 379.2 L451.2 379.9 L452.1 380.6 L453.0 381.3 L454.0 382.0 L454.9 382.7 L455.9 383.3 L456.8 384.0 L457.7 384.6 L458.7 385.3 L459.6 386.0 L460.6 386.7 L461.5 387.5 L462.5 388.2 L463.4 388.9 L464.3 389.5 L465.3 390.1 L466.2 390.6 L467.2 391.2 L468.1 391.9 L469.1 392.7 L470.0 393.5 L470.9 394.4 L471.9 395.3 L472.8 396.2 L473.8 396.9 L474.7 397.6 L475.7 398.2 L476.6 398.7 L477.5 399.3 L478.5 399.9 L479.4 400.6 L480.4 401.2 L481.3 401.9 L482.2 402.6 L483.2 403.2 L484.1 403.8 L485.1 404.3 L486.0 405.0 L487.0 405.7 L487.9 406.5 L488.8 407.3 L489.8 408.2 L490.7 409.1 L491.7 410.0 L492.6 410.7 L493.6 411.4 L494.5 412.0 L495.4 412.6 L496.4 413.2 L497.3 413.9 L498.3 414.7 L499.2 415.5 L500.2 416.3 L501.1 417.2 L502.0 418.0 L503.0 418.8 L503.9 419.6 L504.9 420.4 L505.8 421.1 L506.7 421.9 L510.7 426.2 L513.5 430.0 L515.2 431.3 M525.3 430.9 L527.0 432.4 L529.8 436.8 L533.8 438.8 L535.1 439.6 L536.5 440.5 L537.9 441.6 L539.2 442.6 L540.6 443.5 L541.9 444.2 L543.3 444.8 L544.6 445.3 L546.0 445.9 L547.3 446.5 L548.7 447.1 L550.0 447.6 L551.4 448.0 L552.8 448.3 L554.1 448.7 L555.5 449.3 L556.8 449.8 L558.2 450.3 L559.5 450.6 L560.9 450.7 L562.2 450.7 L563.6 450.7 L564.9 450.8 L566.3 451.0 L567.7 451.3 L569.0 451.6 L570.4 451.8 L571.7 451.9 L573.1 452.1 L574.4 452.4 L575.8 452.7 L577.1 452.9 L578.5 453.0 L579.8 452.8 L581.2 452.6 L582.6 452.4 L583.9 452.4 L585.3 452.5 L586.6 452.6 L588.0 452.7 L589.3 452.5 L590.7 452.2 L592.0 451.9 L593.4 451.5 L594.7 451.2 L596.1 450.8 L597.5 450.3 L598.8 449.7 L600.2 449.0 L601.5 448.4 L602.9 448.0 L604.2 447.7 L605.6 447.4 L606.9 447.1 L608.3 446.6 L609.6 445.9 L611.0 445.1 L612.4 444.5 L613.7 443.9 L615.1 443.4 L616.4 442.8 L617.8 442.2 L619.1 441.5 L620.5 440.9 L621.8 440.4 L623.2 439.9 L624.6 439.4 L625.9 438.8 L627.3 437.9 L628.6 436.8 L630.0 435.7 L631.3 434.6 L632.7 433.7 L634.0 432.9 L635.4 432.1 L636.7 431.1 L638.1 430.1 L639.5 429.1 L640.8 428.1 L642.2 427.2 L643.5 426.3 L644.9 425.3 L646.2 424.1 L647.6 422.8 L648.9 421.6 L650.3 420.6 L651.6 419.7 L653.0 419.0 L654.4 418.3 L655.7 417.5 L657.1 416.5 L658.4 415.5 L659.8 414.4 L661.1 413.4 L662.5 412.5 L663.8 411.4 L665.2 410.3 L666.5 409.1 L667.9 407.9 L669.3 406.8 L670.6 405.9 L672.0 405.2 L673.3 404.4 L674.7 403.5 L676.0 402.5 L677.4 401.5 L678.7 400.6 L680.1 399.8 L681.4 399.2 L682.8 398.8 M515.2 431.3 L517.5 431.6 L523.1 430.8 L525.3 430.9"/><path id="ted" d="M482.7 380.3 L484.3 379.8 L485.9 377.1 L487.5 373.0 L489.0 368.7 L490.6 365.5 L492.2 363.9 L493.8 363.6 L495.4 363.8 L496.9 363.3 L498.5 362.0 L500.1 360.3 L501.7 359.4 L503.3 360.3 L504.8 363.3 L506.4 367.8 L508.0 372.5 M582.8 485.2 L584.3 483.9 L585.8 483.4 L587.2 483.7 L588.7 484.4 L590.2 485.3 L591.7 485.9 L593.1 486.0 L594.6 485.5 L596.1 484.5 L597.6 483.4 L599.0 482.6 L600.5 482.4 L602.0 482.9 L603.5 484.3 L604.9 486.2 L606.4 488.2 M644.0 365.9 L645.7 366.2 L647.5 365.4 L649.2 363.6 L651.0 360.9 L652.7 357.8 L654.4 354.9 L656.2 352.5 L657.9 350.9 L659.6 350.2 L661.4 350.0 L663.1 350.1 L664.9 350.1 L666.6 349.6 L668.3 348.5 L670.1 347.2 L671.8 345.9 M592.7 391.7 L594.4 387.5 L596.0 383.9 L597.6 381.3 L599.2 379.9 L600.9 379.7 L602.5 380.1 L604.1 380.5 L605.8 380.5 L607.4 380.1 L609.0 379.4 L610.6 379.0 L612.3 379.6 L613.9 381.3 L615.5 384.4 L617.2 388.3 L618.8 392.3 M559.1 407.1 L560.5 407.7 L561.8 407.9 L563.2 407.7 L564.5 407.4 L565.9 407.1 L567.2 407.4 L568.6 408.2 L569.9 409.6 L571.3 411.5 L572.6 413.6 L574.0 415.5 L575.3 416.8 L576.7 417.4 L578.0 417.0 L579.4 415.9 L580.7 414.2 M423.1 495.6 L424.4 495.2 L425.6 494.7 L426.8 494.2 L428.0 494.0 L429.2 494.0 L430.5 494.5 L431.7 495.3 L432.9 496.5 L434.1 497.9 L435.3 499.4 L436.5 500.6 L437.8 501.5 L439.0 502.0 L440.2 501.9 L441.4 501.3 L442.6 500.2 M448.1 478.4 L450.2 481.0 L452.3 480.5 L454.4 477.0 L456.4 472.8 L458.5 470.7 L460.6 471.1 L462.7 471.9 L464.7 471.1 L466.8 468.8 L468.9 467.4 L471.0 469.2 L473.1 473.9 L475.1 478.9 L477.2 481.6 L479.3 481.8 L481.4 482.0 M617.8 440.4 L620.3 442.8 L622.8 444.0 L625.2 444.0 L627.7 444.4 L630.2 446.7 L632.7 451.0 L635.2 455.6 L637.7 458.1 L640.2 457.7 L642.7 455.1 L645.2 452.4 L647.7 451.0 L650.2 450.7 L652.7 449.8 L655.1 447.0 L657.6 442.3 M653.2 498.0 L654.3 496.7 L655.4 495.9 L656.4 495.7 L657.5 496.0 L658.6 496.6 L659.6 497.4 L660.7 498.1 L661.8 498.7 L662.8 499.0 L663.9 499.1 L665.0 499.0 L666.0 498.8 L667.1 498.6 L668.2 498.7 L669.2 499.1 L670.3 500.0 M597.6 385.4 L599.3 381.4 L601.0 379.8 L602.7 380.0 L604.4 380.9 L606.1 381.1 L607.8 380.5 L609.5 380.0 L611.3 380.9 L613.0 383.9 L614.7 388.6 L616.4 393.6 L618.1 397.2 L619.8 398.5 L621.5 397.8 L623.2 396.3 L624.9 395.2 M633.7 325.0 L634.7 323.2 L635.7 320.6 L636.7 317.7 L637.7 314.8 L638.7 312.3 L639.7 310.6 L640.7 309.7 L641.7 309.5 L642.7 309.8 L643.7 310.2 L644.7 310.4 L645.7 310.2 L646.7 309.7 L647.7 308.9 L648.7 308.2 L649.7 308.0 M591.3 389.1 L592.2 388.4 L593.0 387.6 L593.9 386.5 L594.8 385.3 L595.7 383.9 L596.6 382.4 L597.4 380.8 L598.3 379.2 L599.2 377.6 L600.1 376.0 L601.0 374.4 L601.9 373.0 L602.7 371.7 L603.6 370.6 L604.5 369.6 L605.4 368.8 M627.2 364.2 L629.8 359.3 L632.4 357.5 L635.0 358.8 L637.6 360.6 L640.2 360.5 L642.8 359.8 L645.3 361.4 L647.9 366.6 L650.5 373.2 L653.1 377.3 L655.7 377.9 L658.3 377.1 L660.8 377.7 L663.4 379.6 L666.0 380.2 L668.6 377.2 M601.1 456.6 L603.5 458.2 L605.8 458.9 L608.1 459.4 L610.4 460.5 L612.7 462.7 L615.0 466.1 L617.3 469.9 L619.6 473.1 L622.0 474.6 L624.3 474.1 L626.6 471.8 L628.9 468.8 L631.2 465.9 L633.5 463.8 L635.8 462.5 L638.2 461.2 M582.2 352.9 L583.9 355.0 L585.5 356.8 L587.1 357.4 L588.7 356.4 L590.4 353.8 L592.0 350.6 L593.6 347.8 L595.2 346.2 L596.9 345.8 L598.5 346.2 L600.1 346.4 L601.7 345.7 L603.4 343.9 L605.0 341.7 L606.6 339.9 L608.2 339.4 M549.1 299.1 L550.1 299.1 L551.0 299.6 L552.0 300.7 L553.0 301.3 L553.9 301.6 L554.9 301.8 L555.9 302.1 L556.8 302.7 L557.8 304.0 L558.8 305.7 L559.7 308.0 L560.7 310.7 L561.7 313.3 L562.7 315.6 L563.6 317.4 L564.6 318.5 M671.1 482.7 L673.4 484.9 L675.7 484.0 L677.9 479.8 L680.2 475.2 L682.5 473.4 L682.8 474.0 L682.8 474.1 L682.8 471.6 L682.8 468.1 L682.8 467.0 L682.8 469.5 L682.8 473.2 L682.8 474.8 L682.8 473.6 L682.8 472.0 L682.8 472.7 M578.0 439.5 L579.8 441.2 L581.6 442.4 L583.4 443.7 L585.2 445.6 L587.0 448.3 L588.8 451.8 L590.6 455.6 L592.4 459.1 L594.2 461.6 L596.0 462.7 L597.8 462.3 L599.6 460.7 L601.4 458.6 L603.2 456.6 L605.0 455.1 L606.8 454.2 M506.6 490.5 L509.2 490.8 L511.8 491.9 L514.4 495.3 L517.0 499.9 L519.7 502.5 L522.3 501.2 L524.9 497.2 L527.5 493.3 L530.1 491.4 L532.8 490.7 L535.4 488.6 L538.0 484.1 L540.6 479.3 L543.2 477.1 L545.9 478.8 L548.5 482.6 M678.8 423.0 L679.9 424.1 L681.0 424.9 L682.1 425.2 L682.8 424.7 L682.8 423.5 L682.8 421.6 L682.8 419.1 L682.8 416.4 L682.8 413.7 L682.8 411.2 L682.8 409.3 L682.8 407.8 L682.8 406.8 L682.8 406.3 L682.8 405.9 L682.8 405.5 M430.8 409.0 L433.2 411.3 L435.5 413.9 L437.9 413.6 L440.3 409.8 L442.7 405.0 L445.0 402.4 L447.4 402.3 L449.8 402.1 L452.1 399.6 L454.5 395.7 L456.9 393.5 L459.3 395.1 L461.6 398.9 L464.0 401.5 L466.4 401.3 L468.8 400.1 M597.5 320.1 L598.6 317.7 L599.8 315.0 L601.0 312.5 L602.1 310.8 L603.3 310.1 L604.5 310.3 L605.7 311.2 L606.8 312.1 L608.0 312.6 L609.2 312.4 L610.3 311.6 L611.5 310.6 L612.7 310.0 L613.9 310.2 L615.0 311.5 L616.2 313.9 M595.7 458.4 L597.0 459.6 L598.3 460.0 L599.6 459.3 L601.0 457.7 L602.3 455.2 L603.6 452.4 L604.9 449.9 L606.2 448.0 L607.5 447.0 L608.8 446.7 L610.1 447.0 L611.4 447.2 L612.7 447.1 L614.1 446.3 L615.4 445.0 L616.7 443.3 M585.0 450.8 L587.4 451.9 L589.9 454.2 L592.4 457.2 L594.8 460.1 L597.3 461.8 L599.8 461.7 L602.2 459.7 L604.7 456.7 L607.1 453.8 L609.6 451.8 L612.1 451.0 L614.5 450.9 L617.0 450.7 L619.5 449.6 L621.9 447.4 L624.4 444.7 M410.0 331.2 L411.7 326.0 L413.3 320.8 L415.0 317.2 L416.7 315.8 L418.4 315.9 L420.1 316.0 L421.7 315.1 L423.4 313.4 L425.1 312.2 L426.8 312.8 L428.5 315.9 L430.1 320.4 L431.8 324.7 L433.5 327.3 L435.2 327.6 L436.9 326.7 M517.5 458.7 L519.0 459.5 L520.4 460.6 L521.9 461.5 L523.3 462.3 L524.8 462.7 L526.2 462.6 L527.7 461.9 L529.1 460.7 L530.6 458.9 L532.0 456.8 L533.4 454.5 L534.9 452.2 L536.3 450.1 L537.8 448.3 L539.2 447.0 L540.7 446.0 M418.0 502.9 L419.9 499.5 L421.9 494.9 L423.8 491.2 L425.7 489.7 L427.7 490.1 L429.6 490.7 L431.6 490.0 L433.5 487.8 L435.5 485.8 L437.4 485.6 L439.3 487.9 L441.3 491.7 L443.2 494.7 L445.2 495.6 L447.1 494.6 L449.0 493.1 M448.9 493.6 L451.5 490.0 L454.2 486.2 L456.8 483.8 L459.4 483.5 L462.0 484.4 L464.6 485.3 L467.2 484.9 L469.8 483.3 L472.4 481.5 L475.1 481.0 L477.7 482.6 L480.3 485.8 L482.9 489.2 L485.5 491.2 L488.1 491.1 L490.7 489.8 M480.9 308.0 L481.9 308.5 L482.8 308.9 L483.8 309.4 L484.7 309.9 L485.7 310.3 L486.6 310.6 L487.6 310.8 L488.5 310.8 L489.5 310.7 L490.4 310.5 L491.4 310.2 L492.3 309.9 L493.3 309.5 L494.2 309.2 L495.2 308.8 L496.1 308.6 M626.7 381.5 L629.0 378.6 L631.4 379.2 L633.7 381.8 L636.1 383.2 L638.4 382.2 L640.8 381.2 L643.1 383.2 L645.4 388.1 L647.8 392.5 L650.1 393.5 L652.5 392.0 L654.8 391.3 L657.2 393.0 L659.5 395.3 L661.8 394.9 L664.2 391.4 M604.4 336.4 L606.7 336.5 L608.9 336.6 L611.1 337.8 L613.4 340.3 L615.6 343.5 L617.9 346.5 L620.1 348.1 L622.3 347.8 L624.6 346.0 L626.8 343.5 L629.0 341.5 L631.3 340.6 L633.5 340.7 L635.7 341.2 L638.0 341.0 L640.2 339.5 M474.1 416.0 L475.0 416.6 L476.0 417.3 L476.9 418.2 L477.9 419.2 L478.9 420.3 L479.8 421.5 L480.8 422.6 L481.7 423.7 L482.7 424.5 L483.6 425.2 L484.6 425.5 L485.5 425.6 L486.5 425.3 L487.4 424.7 L488.4 423.8 L489.3 422.6 M542.2 299.1 L543.2 300.0 L544.1 300.8 L545.0 301.2 L546.0 301.4 L546.9 301.2 L547.8 300.9 L548.8 300.5 L549.7 300.1 L550.6 300.0 L551.6 300.1 L552.5 300.6 L553.4 301.5 L554.3 302.7 L555.3 304.1 L556.2 305.7 L557.1 307.2 M679.8 316.1 L681.4 315.7 L682.8 316.6 L682.8 317.9 L682.8 318.7 L682.8 318.6 L682.8 317.6 L682.8 316.5 L682.8 316.1 L682.8 317.0 L682.8 319.3 L682.8 322.2 L682.8 324.9 L682.8 326.3 L682.8 326.2 L682.8 324.8 L682.8 323.0 M649.3 371.6 L650.4 372.6 L651.5 373.5 L652.5 374.2 L653.6 374.7 L654.7 375.1 L655.8 375.4 L656.8 375.7 L657.9 376.2 L659.0 376.7 L660.1 377.5 L661.1 378.5 L662.2 379.7 L663.3 381.2 L664.4 382.9 L665.4 384.7 L666.5 386.5 M411.9 393.6 L413.8 395.1 L415.6 396.9 L417.5 400.3 L419.3 405.3 L421.2 409.9 L423.0 411.9 L424.9 410.5 L426.7 406.8 L428.6 403.2 L430.5 401.0 L432.3 399.9 L434.2 398.1 L436.0 394.5 L437.9 389.7 L439.7 385.8 L441.6 384.9 M476.0 454.5 L478.1 451.6 L480.2 447.0 L482.2 443.5 L484.3 442.9 L486.4 444.0 L488.5 444.5 L490.6 443.0 L492.6 440.7 L494.7 440.2 L496.8 442.9 L498.9 447.3 L501.0 450.6 L503.0 451.1 L505.1 449.8 L507.2 449.1 L509.3 450.4 M425.2 398.4 L426.9 397.3 L428.6 396.7 L430.3 397.5 L432.1 400.0 L433.8 402.6 L435.5 403.9 L437.2 403.0 L439.0 400.1 L440.7 396.9 L442.4 394.9 L444.1 394.4 L445.9 394.7 L447.6 394.4 L449.3 392.4 L451.0 389.1 L452.7 385.8 M485.4 415.8 L487.9 418.2 L490.5 420.4 L493.1 420.2 L495.6 419.5 L498.2 422.0 L500.8 427.5 L503.4 431.7 L505.9 431.5 L508.5 428.8 L511.1 427.5 L513.6 428.4 L516.2 428.3 L518.8 424.6 L521.3 419.1 L523.9 416.4 L526.5 417.9 M532.6 488.1 L533.7 487.7 L534.8 487.3 L535.9 486.9 L536.9 486.5 L538.0 486.4 L539.1 486.4 L540.1 486.7 L541.2 487.3 L542.3 488.1 L543.4 489.1 L544.4 490.1 L545.5 491.2 L546.6 492.1 L547.6 492.9 L548.7 493.3 L549.8 493.4 M444.0 316.4 L445.0 316.7 L445.9 317.4 L446.8 318.2 L447.8 318.9 L448.7 319.6 L449.7 320.0 L450.6 320.1 L451.6 320.1 L452.5 320.0 L453.5 320.0 L454.4 320.1 L455.4 320.5 L456.3 321.3 L457.3 322.5 L458.2 324.2 L459.2 326.2 M653.0 467.5 L654.3 468.7 L655.7 469.6 L657.0 469.8 L658.3 469.4 L659.7 468.3 L661.0 466.5 L662.4 464.3 L663.7 462.1 L665.1 459.9 L666.4 458.2 L667.8 456.9 L669.1 456.2 L670.4 456.0 L671.8 456.1 L673.1 456.2 L674.5 456.2 M567.5 375.0 L570.1 371.9 L572.7 365.8 L575.3 360.4 L577.9 358.4 L580.6 358.6 L583.2 358.1 L585.8 355.8 L588.4 354.3 L591.0 356.5 L593.6 362.2 L596.2 368.1 L598.9 370.9 L601.5 371.0 L604.1 371.2 L606.7 373.2 L609.3 375.2 M667.1 349.0 L669.4 350.6 L671.6 351.6 L673.9 351.4 L676.1 350.0 L678.4 347.8 L680.6 345.4 L682.8 343.5 L682.8 342.5 L682.8 342.5 L682.8 343.3 L682.8 344.1 L682.8 344.6 L682.8 344.2 L682.8 343.1 L682.8 341.5 L682.8 340.1 M426.6 334.8 L429.1 337.9 L431.6 339.9 L434.1 340.9 L436.6 342.3 L439.1 345.7 L441.6 351.1 L444.1 356.5 L446.6 359.9 L449.1 360.2 L451.6 358.2 L454.1 355.8 L456.6 354.7 L459.2 354.5 L461.7 353.8 L464.2 351.2 L466.7 346.6 M647.8 500.5 L648.8 500.9 L649.7 501.1 L650.6 501.4 L651.6 501.8 L652.5 502.5 L653.4 503.6 L654.4 505.0 L655.3 506.6 L656.2 508.5 L657.2 510.3 L658.1 512.0 L659.0 513.3 L660.0 514.1 L660.9 514.4 L661.8 514.1 L662.8 513.2 M633.8 372.1 L634.7 372.7 L635.7 373.1 L636.7 373.5 L637.6 374.0 L638.6 374.5 L639.6 375.2 L640.5 376.2 L641.5 377.3 L642.4 378.7 L643.4 380.2 L644.4 381.9 L645.3 383.5 L646.3 385.2 L647.2 386.7 L648.2 388.0 L649.2 389.0 M559.0 499.8 L561.6 502.5 L564.2 502.2 L566.7 502.1 L569.3 506.0 L571.9 511.6 L574.5 513.3 L577.1 510.1 L579.7 506.7 L582.3 506.0 L584.9 505.4 L587.5 501.0 L590.1 494.6 L592.6 491.8 L595.2 494.1 L597.8 496.9 L600.4 496.8 M406.6 339.3 L408.1 340.4 L409.5 342.1 L411.0 344.4 L412.5 347.2 L414.0 350.0 L415.5 352.2 L417.0 353.3 L418.5 353.0 L420.0 351.4 L421.4 348.8 L422.9 345.8 L424.4 343.1 L425.9 341.0 L427.4 339.6 L428.9 338.7 L430.4 337.9 M615.6 490.5 L617.6 490.3 L619.6 489.7 L621.5 490.0 L623.5 491.9 L625.5 494.9 L627.5 497.7 L629.5 498.9 L631.5 497.9 L633.4 495.3 L635.4 492.4 L637.4 490.5 L639.4 490.1 L641.4 490.4 L643.4 490.1 L645.3 488.3 L647.3 485.1 M642.4 518.1 L644.1 517.6 L645.8 513.1 L647.5 508.3 L649.2 505.0 L651.0 503.6 L652.7 503.7 L654.4 503.8 L656.1 502.8 L657.8 500.8 L659.5 499.3 L661.2 499.6 L662.9 502.3 L664.6 506.7 L666.3 510.9 L668.0 513.6 L669.7 514.1 M550.1 471.8 L552.1 471.2 L554.1 469.5 L556.1 466.7 L558.1 463.3 L560.1 459.9 L562.2 456.9 L564.2 454.8 L566.2 453.7 L568.2 453.3 L570.2 453.2 L572.2 452.9 L574.3 452.2 L576.3 450.9 L578.3 449.2 L580.3 447.6 L582.3 446.6 M550.9 343.4 L552.4 343.7 L553.9 343.9 L555.4 344.5 L556.8 346.0 L558.3 348.2 L559.8 351.0 L561.3 353.7 L562.8 355.7 L564.3 356.4 L565.8 355.9 L567.2 354.2 L568.7 352.1 L570.2 350.0 L571.7 348.6 L573.2 348.0 L574.7 347.9 M419.5 379.6 L421.8 378.6 L424.1 374.3 L426.5 368.8 L428.8 365.1 L431.1 364.1 L433.4 364.5 L435.8 364.1 L438.1 362.4 L440.4 361.1 L442.8 362.7 L445.1 367.7 L447.4 374.3 L449.7 379.4 L452.1 381.8 L454.4 382.5 L456.7 383.7 M564.7 489.9 L566.7 491.8 L568.7 493.6 L570.8 494.1 L572.8 492.8 L574.9 490.0 L576.9 486.6 L579.0 483.8 L581.0 482.4 L583.0 482.3 L585.1 482.7 L587.1 482.6 L589.2 481.3 L591.2 479.0 L593.3 476.6 L595.3 475.2 L597.3 475.5"/><path id="tod" d="M627.6 443.6 L629.6 446.3 L631.6 448.7 L633.6 449.1 L635.6 446.9 L637.6 442.9 L639.6 438.8 L641.6 436.3 L643.6 435.5 L645.6 435.4 L647.6 434.6 L649.6 432.4 L651.6 429.5 L653.6 427.6 L655.6 427.9 L657.6 430.8 L659.6 434.9 M663.9 332.6 L665.0 331.5 L666.0 329.7 L667.1 327.4 L668.1 324.8 L669.2 322.2 L670.2 319.9 L671.3 318.1 L672.3 316.9 L673.4 316.2 L674.4 316.1 L675.5 316.2 L676.5 316.3 L677.5 316.4 L678.6 316.1 L679.6 315.6 L680.7 314.7 M539.4 494.2 L541.7 494.3 L544.1 494.1 L546.4 494.3 L548.7 495.5 L551.0 498.0 L553.3 501.0 L555.7 503.8 L558.0 505.4 L560.3 505.4 L562.6 504.1 L564.9 502.2 L567.3 500.7 L569.6 500.2 L571.9 500.8 L574.2 501.9 L576.6 502.6 M521.2 388.9 L522.3 386.6 L523.3 384.4 L524.4 382.6 L525.4 381.4 L526.4 380.8 L527.5 380.7 L528.5 381.1 L529.6 381.7 L530.6 382.3 L531.7 382.7 L532.7 382.8 L533.8 382.6 L534.8 382.1 L535.9 381.4 L536.9 380.9 L538.0 380.7 M559.2 308.8 L560.5 310.5 L561.9 311.7 L563.2 312.2 L564.6 312.3 L565.9 312.3 L567.3 312.5 L568.6 313.4 L570.0 315.0 L571.3 317.3 L572.6 320.1 L574.0 322.8 L575.3 325.0 L576.7 326.3 L578.0 326.6 L579.4 326.0 L580.7 324.8 M498.6 462.2 L499.5 461.1 L500.5 460.0 L501.4 459.1 L502.4 458.4 L503.3 457.9 L504.3 457.8 L505.2 458.0 L506.1 458.4 L507.1 459.0 L508.0 459.7 L509.0 460.4 L509.9 461.2 L510.9 461.9 L511.8 462.4 L512.7 462.7 L513.7 462.8 M621.7 482.7 L623.7 483.4 L625.7 486.4 L627.7 490.0 L629.8 491.4 L631.8 489.4 L633.8 485.6 L635.8 482.9 L637.8 482.5 L639.8 483.2 L641.9 482.6 L643.9 479.7 L645.9 476.4 L647.9 475.3 L649.9 477.6 L651.9 481.6 L653.9 484.6 M421.5 343.0 L422.6 343.9 L423.7 345.1 L424.8 346.6 L425.9 348.1 L427.0 349.4 L428.1 350.3 L429.3 350.6 L430.4 350.4 L431.5 349.6 L432.6 348.3 L433.7 346.8 L434.8 345.4 L435.9 344.1 L437.0 343.2 L438.1 342.7 L439.2 342.8 M627.8 491.8 L628.8 491.3 L629.7 490.3 L630.6 488.7 L631.5 486.7 L632.4 484.3 L633.3 481.7 L634.2 479.1 L635.1 476.7 L636.0 474.5 L636.9 472.7 L637.9 471.3 L638.8 470.4 L639.7 469.7 L640.6 469.3 L641.5 469.1 L642.4 468.7 M591.0 313.8 L592.8 314.1 L594.7 313.3 L596.5 313.3 L598.3 315.5 L600.2 319.2 L602.0 322.2 L603.8 322.7 L605.7 320.7 L607.5 317.8 L609.3 316.2 L611.2 316.5 L613.0 317.4 L614.8 317.0 L616.7 314.4 L618.5 310.8 L620.3 308.4 M438.8 336.7 L440.5 338.5 L442.2 337.9 L443.9 334.5 L445.6 329.5 L447.3 325.0 L449.0 322.3 L450.7 321.4 L452.4 321.0 L454.1 319.9 L455.8 317.7 L457.5 315.5 L459.2 315.1 L461.0 317.4 L462.7 322.1 L464.4 327.4 L466.1 331.5 M427.8 493.2 L429.3 491.3 L430.9 489.4 L432.5 487.7 L434.0 486.5 L435.6 485.8 L437.1 485.9 L438.7 486.4 L440.2 487.3 L441.8 488.3 L443.3 489.2 L444.9 489.7 L446.4 489.8 L448.0 489.6 L449.5 489.1 L451.1 488.7 L452.7 488.5 M493.3 431.7 L495.3 431.8 L497.2 430.9 L499.1 430.7 L501.1 432.3 L503.0 435.5 L505.0 438.4 L506.9 439.3 L508.8 437.6 L510.8 434.3 L512.7 431.4 L514.7 430.1 L516.6 430.0 L518.5 429.7 L520.5 427.7 L522.4 423.9 L524.4 419.9 M417.3 335.0 L419.0 336.5 L420.6 338.6 L422.3 340.5 L424.0 341.4 L425.7 341.7 L427.4 342.2 L429.0 343.6 L430.7 346.5 L432.4 350.7 L434.1 355.2 L435.7 358.8 L437.4 360.8 L439.1 360.9 L440.8 359.7 L442.5 358.3 L444.1 357.6 M502.7 361.8 L504.3 363.6 L505.9 364.5 L507.4 364.8 L509.0 365.4 L510.5 366.8 L512.1 369.4 L513.6 372.8 L515.2 376.5 L516.8 379.3 L518.3 380.7 L519.9 380.3 L521.4 378.7 L523.0 376.6 L524.5 374.9 L526.1 373.9 L527.7 373.8 M655.3 397.8 L656.4 398.6 L657.6 398.9 L658.7 399.0 L659.9 399.1 L661.0 399.4 L662.2 400.3 L663.3 401.7 L664.5 403.6 L665.7 405.9 L666.8 408.3 L668.0 410.3 L669.1 411.7 L670.3 412.2 L671.4 411.9 L672.6 410.8 L673.7 409.3 M643.7 344.0 L645.7 342.4 L647.6 339.5 L649.5 336.0 L651.4 332.6 L653.3 329.9 L655.3 328.4 L657.2 327.9 L659.1 328.2 L661.0 328.5 L662.9 328.5 L664.9 327.9 L666.8 327.0 L668.7 326.1 L670.6 326.0 L672.6 327.1 L674.5 329.6 M445.1 477.4 L447.4 473.7 L449.6 470.0 L451.9 467.5 L454.2 466.7 L456.5 467.1 L458.7 467.9 L461.0 467.8 L463.3 466.7 L465.6 464.7 L467.8 463.1 L470.1 462.7 L472.4 464.1 L474.7 466.7 L476.9 469.5 L479.2 471.3 L481.5 471.4 M412.8 392.8 L414.6 394.4 L416.4 395.6 L418.3 396.5 L420.1 397.4 L421.9 398.7 L423.8 400.5 L425.6 403.0 L427.5 406.0 L429.3 409.3 L431.1 412.4 L433.0 414.8 L434.8 416.4 L436.6 416.9 L438.5 416.4 L440.3 415.1 L442.1 413.4 M668.4 485.6 L670.3 486.1 L672.2 485.6 L674.0 486.0 L675.9 488.3 L677.7 492.0 L679.6 495.2 L681.4 496.2 L682.8 494.4 L682.8 491.3 L682.8 488.8 L682.8 487.9 L682.8 488.1 L682.8 487.6 L682.8 485.3 L682.8 481.4 L682.8 477.8 M407.1 417.8 L408.1 418.4 L409.0 418.7 L409.9 418.7 L410.8 418.5 L411.7 418.2 L412.6 418.0 L413.5 417.9 L414.4 418.1 L415.3 418.5 L416.2 419.4 L417.1 420.5 L418.0 421.9 L418.9 423.4 L419.8 425.0 L420.7 426.4 L421.6 427.6 M494.2 340.3 L496.1 342.7 L497.9 346.7 L499.8 351.3 L501.7 354.0 L503.5 353.5 L505.4 349.9 L507.3 345.5 L509.1 342.2 L511.0 340.6 L512.8 339.6 L514.7 337.4 L516.6 333.7 L518.4 330.0 L520.3 328.5 L522.2 330.4 L524.0 335.0 M542.7 495.9 L543.8 496.9 L544.9 497.8 L546.1 498.8 L547.2 499.6 L548.3 500.3 L549.5 500.8 L550.6 501.1 L551.7 501.3 L552.9 501.4 L554.0 501.4 L555.1 501.3 L556.3 501.4 L557.4 501.5 L558.5 501.9 L559.6 502.4 L560.8 503.2 M474.9 466.6 L476.7 468.1 L478.6 469.6 L480.4 470.3 L482.3 470.3 L484.1 470.3 L486.0 470.9 L487.8 472.7 L489.6 475.8 L491.5 479.5 L493.3 482.9 L495.2 484.9 L497.0 485.2 L498.9 483.9 L500.7 481.6 L502.6 479.3 L504.4 477.6 M540.6 317.3 L542.0 318.9 L543.4 319.3 L544.8 319.0 L546.3 318.8 L547.7 319.7 L549.1 321.9 L550.5 325.1 L551.9 328.2 L553.4 330.3 L554.8 330.7 L556.2 329.5 L557.6 327.7 L559.0 326.1 L560.5 325.6 L561.9 326.2 L563.3 327.2 M450.0 472.8 L451.7 471.4 L453.5 468.4 L455.2 464.6 L457.0 461.2 L458.7 459.0 L460.5 458.2 L462.2 458.5 L464.0 459.1 L465.7 459.2 L467.5 458.5 L469.2 457.3 L471.0 456.6 L472.7 457.3 L474.5 459.7 L476.2 463.7 L478.0 468.3 M516.7 336.2 L518.1 337.4 L519.6 338.3 L521.1 338.8 L522.5 338.8 L524.0 338.6 L525.5 338.2 L526.9 338.0 L528.4 338.3 L529.8 339.2 L531.3 340.7 L532.8 342.7 L534.2 344.8 L535.7 346.9 L537.1 348.5 L538.6 349.4 L540.1 349.5 M411.4 428.9 L413.9 429.9 L416.4 431.9 L418.9 434.8 L421.4 437.5 L423.9 438.8 L426.4 437.8 L428.9 434.7 L431.4 430.6 L434.0 426.6 L436.5 423.8 L439.0 422.1 L441.5 420.9 L444.0 419.0 L446.5 416.1 L449.0 412.3 L451.5 408.7 M555.8 344.3 L558.0 341.3 L560.2 340.4 L562.4 340.9 L564.6 341.8 L566.8 342.1 L569.0 341.4 L571.3 340.3 L573.5 339.8 L575.7 340.9 L577.9 343.7 L580.1 347.6 L582.3 351.1 L584.5 353.2 L586.8 353.3 L589.0 352.0 L591.2 350.3 M422.9 423.8 L424.9 423.9 L426.9 425.2 L428.8 427.4 L430.8 430.0 L432.8 432.2 L434.8 433.3 L436.7 432.8 L438.7 431.2 L440.7 429.2 L442.7 427.5 L444.6 426.9 L446.6 427.4 L448.6 428.5 L450.5 429.4 L452.5 429.5 L454.5 428.6 M532.0 474.9 L533.8 470.2 L535.5 466.9 L537.2 465.7 L539.0 466.1 L540.7 466.9 L542.4 467.1 L544.2 466.5 L545.9 465.6 L547.6 465.9 L549.4 468.2 L551.1 472.4 L552.9 477.3 L554.6 481.3 L556.3 483.4 L558.1 483.6 L559.8 482.7 M519.6 377.5 L522.0 373.9 L524.5 371.8 L527.0 371.9 L529.4 373.6 L531.9 375.3 L534.3 375.8 L536.8 375.1 L539.3 374.5 L541.7 375.6 L544.2 378.9 L546.7 383.6 L549.1 388.0 L551.6 390.4 L554.0 390.6 L556.5 389.9 L559.0 389.7 M442.5 448.9 L444.2 450.7 L445.9 452.8 L447.7 454.9 L449.4 456.5 L451.2 457.3 L452.9 457.0 L454.6 455.6 L456.4 453.4 L458.1 450.7 L459.8 448.1 L461.6 446.0 L463.3 444.5 L465.0 443.7 L466.8 443.4 L468.5 443.2 L470.2 442.7 M566.5 387.4 L568.9 382.0 L571.4 376.1 L573.9 371.5 L576.3 368.8 L578.8 367.8 L581.3 367.5 L583.8 366.8 L586.2 365.3 L588.7 363.7 L591.2 363.1 L593.6 364.6 L596.1 368.2 L598.6 373.0 L601.0 377.4 L603.5 380.0 L606.0 380.7 M480.2 352.2 L481.6 353.1 L483.0 353.9 L484.4 354.9 L485.9 356.8 L487.3 359.6 L488.7 362.9 L490.1 366.1 L491.6 368.5 L493.0 369.5 L494.4 368.9 L495.9 367.1 L497.3 364.6 L498.7 362.2 L500.1 360.4 L501.6 359.4 L503.0 358.8 M483.9 377.2 L484.9 375.5 L485.9 373.4 L487.0 371.3 L488.0 369.4 L489.1 367.9 L490.1 366.9 L491.1 366.6 L492.2 366.7 L493.2 367.3 L494.2 368.0 L495.3 368.6 L496.3 369.1 L497.3 369.1 L498.4 368.9 L499.4 368.3 L500.4 367.7 M663.0 366.6 L665.0 365.9 L666.9 363.2 L668.9 359.3 L670.8 354.9 L672.7 351.3 L674.7 349.1 L676.6 348.3 L678.6 348.2 L680.5 348.1 L682.4 347.3 L682.8 345.8 L682.8 344.5 L682.8 344.1 L682.8 345.4 L682.8 348.6 L682.8 353.1 M662.0 361.5 L664.1 364.0 L666.3 367.3 L668.4 368.9 L670.6 367.1 L672.7 362.5 L674.9 357.5 L677.0 354.3 L679.2 353.0 L681.3 351.9 L682.8 349.3 L682.8 345.3 L682.8 342.1 L682.8 342.0 L682.8 345.1 L682.8 349.6 L682.8 352.8 M604.7 468.0 L606.3 465.0 L607.9 464.0 L609.5 464.7 L611.1 466.3 L612.7 467.3 L614.3 467.2 L615.9 466.3 L617.5 465.9 L619.1 467.0 L620.7 470.1 L622.3 474.3 L623.9 478.2 L625.5 480.5 L627.1 480.8 L628.7 479.8 L630.3 478.8 M660.7 340.8 L662.6 343.1 L664.6 344.3 L666.5 343.6 L668.4 340.7 L670.3 336.5 L672.2 332.0 L674.2 328.4 L676.1 326.2 L678.0 325.1 L679.9 324.3 L681.8 323.0 L682.8 320.9 L682.8 318.3 L682.8 316.5 L682.8 316.2 L682.8 318.2 M524.4 494.5 L525.5 495.8 L526.5 497.4 L527.6 498.9 L528.6 500.1 L529.7 500.6 L530.7 500.3 L531.8 499.3 L532.8 497.6 L533.9 495.7 L534.9 493.8 L536.0 492.1 L537.0 491.0 L538.1 490.5 L539.1 490.5 L540.2 490.9 L541.2 491.3 M496.9 407.9 L499.4 408.6 L502.0 405.0 L504.6 400.2 L507.2 398.7 L509.8 400.1 L512.4 400.3 L515.0 397.7 L517.6 395.6 L520.2 397.8 L522.7 402.9 L525.3 406.1 L527.9 405.6 L530.5 404.6 L533.1 406.4 L535.7 409.4 L538.3 409.3 M602.6 486.4 L604.1 486.9 L605.7 485.6 L607.2 482.8 L608.7 478.9 L610.3 475.1 L611.8 472.1 L613.3 470.4 L614.9 469.9 L616.4 469.9 L617.9 469.7 L619.5 468.8 L621.0 467.4 L622.5 466.0 L624.1 465.4 L625.6 466.3 L627.2 469.0 M553.0 311.5 L554.9 312.6 L556.8 312.7 L558.7 311.8 L560.6 309.9 L562.5 307.5 L564.4 305.2 L566.3 303.3 L568.2 302.3 L570.1 302.1 L572.0 302.6 L573.9 303.3 L575.8 303.8 L577.7 303.7 L579.6 303.0 L581.5 301.8 L583.4 300.5 M552.1 420.5 L553.5 421.5 L554.9 423.1 L556.3 425.2 L557.7 427.7 L559.1 429.9 L560.5 431.4 L561.9 431.8 L563.3 430.9 L564.7 428.8 L566.1 426.0 L567.5 422.9 L568.8 420.3 L570.2 418.3 L571.6 416.9 L573.0 416.1 L574.4 415.3 M632.6 422.5 L633.6 421.4 L634.6 420.7 L635.6 420.5 L636.6 420.6 L637.6 421.0 L638.6 421.6 L639.6 422.2 L640.6 422.7 L641.6 422.9 L642.6 422.9 L643.6 422.6 L644.6 422.1 L645.7 421.4 L646.7 420.6 L647.7 420.0 L648.7 419.6 M576.8 324.5 L578.1 321.4 L579.4 318.5 L580.7 316.3 L582.0 315.1 L583.3 314.7 L584.7 315.1 L586.0 315.8 L587.3 316.3 L588.6 316.6 L589.9 316.3 L591.2 315.8 L592.5 315.2 L593.8 315.1 L595.1 315.7 L596.4 317.3 L597.8 319.8 M530.0 351.4 L531.7 350.3 L533.5 348.2 L535.2 345.4 L537.0 342.3 L538.7 339.3 L540.4 337.1 L542.2 335.6 L543.9 335.1 L545.6 335.1 L547.4 335.2 L549.1 335.0 L550.9 334.3 L552.6 333.0 L554.3 331.3 L556.1 329.7 L557.8 328.6 M668.0 461.1 L669.0 462.5 L669.9 463.7 L670.8 464.5 L671.8 464.7 L672.7 464.4 L673.6 463.4 L674.6 462.1 L675.5 460.4 L676.4 458.7 L677.4 457.2 L678.3 456.0 L679.2 455.3 L680.2 455.1 L681.1 455.4 L682.1 455.8 L682.8 456.4 M521.9 415.4 L523.9 413.3 L525.9 411.8 L527.9 411.3 L530.0 411.8 L532.0 413.0 L534.0 414.5 L536.0 415.6 L538.1 416.2 L540.1 416.0 L542.1 415.4 L544.2 414.8 L546.2 414.7 L548.2 415.5 L550.2 417.3 L552.3 419.9 L554.3 422.9 M628.7 356.6 L630.3 357.1 L631.8 357.5 L633.4 358.2 L635.0 359.7 L636.5 361.9 L638.1 364.6 L639.7 367.3 L641.2 369.5 L642.8 370.5 L644.4 370.2 L645.9 368.7 L647.5 366.3 L649.0 363.7 L650.6 361.4 L652.2 359.7 L653.7 358.7 M488.0 307.1 L489.9 307.9 L491.8 309.7 L493.7 312.0 L495.6 314.0 L497.5 314.9 L499.4 314.2 L501.3 312.2 L503.2 309.5 L505.0 307.0 L506.9 305.4 L508.8 305.0 L510.7 305.3 L512.6 305.7 L514.5 305.4 L516.4 304.1 L518.3 301.9 M618.5 482.5 L620.0 484.0 L621.6 486.1 L623.1 487.8 L624.6 488.7 L626.2 489.0 L627.7 489.4 L629.2 490.8 L630.8 493.7 L632.3 497.8 L633.8 502.1 L635.4 505.7 L636.9 507.7 L638.4 507.8 L640.0 506.7 L641.5 505.2 L643.0 504.2 M448.1 448.8 L450.6 450.5 L453.1 449.5 L455.5 445.9 L458.0 441.3 L460.4 437.6 L462.9 436.0 L465.3 435.9 L467.8 436.0 L470.2 435.0 L472.7 433.1 L475.2 431.7 L477.6 432.5 L480.1 436.2 L482.5 441.7 L485.0 447.0 L487.4 450.5 M444.0 370.9 L446.0 372.3 L448.1 372.4 L450.1 371.0 L452.2 368.3 L454.2 364.6 L456.3 360.9 L458.3 357.8 L460.4 355.7 L462.4 354.7 L464.5 354.3 L466.6 353.9 L468.6 353.1 L470.7 351.7 L472.7 349.9 L474.8 348.4 L476.8 347.8"/></defs>
<g clip-path="url(#clipd)">
<g filter="url(#parula)">
<rect x="398.4" y="295.4" width="287.4" height="226.4" fill="#000"/>
<g class="ln" filter="url(#b07)" stroke="#060606" stroke-width="1.2"><use href="#ted"/><use href="#tod"/></g>
<use href="#ted" class="ln" filter="url(#b05)" stroke="#090909" stroke-width="0.6"/>
<g filter="url(#b12)" fill="#141414" style="mix-blend-mode:lighten"><ellipse cx="681.4" cy="318.9" rx="2.1" ry="3.9"/><ellipse cx="681.4" cy="399.8" rx="2.1" ry="3.9"/><ellipse cx="402.5" cy="364.5" rx="1.8" ry="3.3"/><ellipse cx="406.5" cy="514.0" rx="1.4" ry="2.7"/></g>
<use href="#rd" class="ln" filter="url(#b1)" stroke="#0a0a0a" stroke-width="2.6"/>
<use href="#rd" class="ln" filter="url(#b05)" stroke="#1a1a1a" stroke-width="1.2"/>
<g filter="url(#b03)">
<use href="#rd" class="ln" stroke="#2c2c2c" stroke-width="0.6"/>
<path class="ln" stroke="#2c2c2c" stroke-width="0.6" d="M478.6 459.7 L480.5 458.4 M638.1 347.3 L640.8 345.4 M422.9 367.8 L424.8 368.8 M621.8 359.8 L624.6 357.4 M469.1 392.7 L470.9 394.4 M636.7 348.3 L639.5 346.3 M501.1 417.2 L503.0 418.8 M492.6 410.7 L494.5 412.0 M535.1 420.7 L537.9 418.8 M471.9 395.3 L473.8 396.9 M466.0 469.4 L467.8 468.4 M461.4 472.3 L463.2 471.0 M589.3 452.5 L592.0 451.9 M677.4 401.5 L680.1 399.8 M504.9 442.0 L506.7 440.7 M571.7 451.9 L574.4 452.4 M619.1 441.5 L621.8 440.4 M635.4 432.1 L638.1 430.1 M601.5 448.4 L604.2 447.7 M569.0 451.6 L571.7 451.9 M453.0 381.3 L454.9 382.7 M644.9 342.3 L647.6 340.8 M588.0 452.7 L590.7 452.2 M468.1 391.9 L470.0 393.5 M608.3 446.6 L611.0 445.1 M409.7 364.8 L411.6 364.8 M487.7 453.5 L489.5 452.1 M642.2 427.2 L644.9 425.3 M457.8 474.7 L459.6 473.6 M482.3 457.0 L484.1 455.8 M466.9 468.9 L468.7 467.8 M437.9 488.7 L439.7 487.3 M586.6 384.5 L589.3 382.0"/>
</g>
</g>
<g filter="url(#b03)">
<use href="#rd" class="ln2" stroke="#4a8ff0" stroke-opacity="0.8" stroke-width="0.8"/>
<use href="#rd" class="ln2" stroke="#3cc0dc" stroke-opacity="0.8" stroke-width="0.8" stroke-dasharray="2.2 6.1 1.3 9.7 3.1 5.3"/>
<use href="#rd" class="ln2" stroke="#c0b860" stroke-opacity="0.75" stroke-width="0.8" stroke-dasharray="1.4 13.3 2.1 9.2 0.9 17.6" stroke-dashoffset="4"/>
<use href="#rd" class="ln2" stroke="#e8a048" stroke-opacity="0.75" stroke-width="0.8" stroke-dasharray="1.1 19.9 1.7 15.3 0.8 24.2" stroke-dashoffset="9"/>
</g>
<path class="ln2" filter="url(#b03)" stroke="#dca24a" stroke-opacity="0.85" stroke-width="0.9" stroke-dasharray="3.5 1.8 4.5" d="M515.2 431.5 L525.3 430.8"/>
</g>
<path class="ax" d="M429.6 518.8 v-2.8 M429.6 298.4 v2.8 M457.7 518.8 v-2.8 M457.7 298.4 v2.8 M485.9 518.8 v-2.8 M485.9 298.4 v2.8 M514.1 518.8 v-2.8 M514.1 298.4 v2.8 M542.2 518.8 v-2.8 M542.2 298.4 v2.8 M570.4 518.8 v-2.8 M570.4 298.4 v2.8 M598.6 518.8 v-2.8 M598.6 298.4 v2.8 M626.7 518.8 v-2.8 M626.7 298.4 v2.8 M654.9 518.8 v-2.8 M654.9 298.4 v2.8 M401.4 496.8 h2.8 M682.8 496.8 h-2.8 M401.4 474.7 h2.8 M682.8 474.7 h-2.8 M401.4 452.7 h2.8 M682.8 452.7 h-2.8 M401.4 430.6 h2.8 M682.8 430.6 h-2.8 M401.4 408.6 h2.8 M682.8 408.6 h-2.8 M401.4 386.6 h2.8 M682.8 386.6 h-2.8 M401.4 364.5 h2.8 M682.8 364.5 h-2.8 M401.4 342.5 h2.8 M682.8 342.5 h-2.8 M401.4 320.4 h2.8 M682.8 320.4 h-2.8"/>
<rect class="ax" x="401.4" y="298.4" width="281.4" height="220.4"/>
<g class="tk" text-anchor="middle">
<text x="401.4" y="531.6">0</text>
<text x="429.6" y="531.6">0.5</text>
<text x="457.7" y="531.6">1</text>
<text x="485.9" y="531.6">1.5</text>
<text x="514.1" y="531.6">2</text>
<text x="542.2" y="531.6">2.5</text>
<text x="570.4" y="531.6">3</text>
<text x="598.6" y="531.6">3.5</text>
<text x="626.7" y="531.6">4</text>
<text x="654.9" y="531.6">4.5</text>
</g>
<g class="tk" text-anchor="end">
<text x="397.7" y="522.6">0</text>
<text x="397.7" y="500.6">10</text>
<text x="397.7" y="478.5">20</text>
<text x="397.7" y="456.5">30</text>
<text x="397.7" y="434.4">40</text>
<text x="397.7" y="412.4">50</text>
<text x="397.7" y="390.4">60</text>
<text x="397.7" y="368.3">70</text>
<text x="397.7" y="346.3">80</text>
<text x="397.7" y="324.2">90</text>
<text x="397.7" y="302.2">100</text>
</g>
<text class="lb" text-anchor="middle" x="541.8" y="545.3">Time / S</text>
<text class="lb" text-anchor="middle" transform="translate(378.4 408.7) rotate(-90)">Frequency / Hz</text>
<text class="tt" text-anchor="middle" x="542.2" y="292.7">The 2nd order FMSST</text>
<text class="pl" style="font-size:14.6px" x="364.0" y="293.6">(d)</text>
<defs><path id="re" d="M43.0 795.1 L43.9 794.1 L44.8 793.2 L45.7 792.3 L46.6 791.3 L47.5 790.4 L48.4 789.5 L49.2 788.5 L50.1 787.6 L51.0 786.7 L51.9 785.8 L52.8 785.0 L53.7 784.3 L54.6 783.6 L55.5 783.0 L56.4 782.4 L57.2 781.8 L58.1 781.2 L59.0 780.5 L59.9 779.9 L60.8 779.3 L61.7 778.7 L62.6 778.2 L63.5 777.7 L64.4 777.2 L65.3 776.6 L66.1 776.0 L67.0 775.4 L67.9 774.7 L68.8 774.0 L69.7 773.3 L70.6 772.6 L71.5 771.9 L72.4 771.2 L73.3 770.6 L74.1 770.0 L75.0 769.4 L75.9 768.7 L76.8 768.1 L77.7 767.4 L78.6 766.7 L79.5 766.1 L80.4 765.4 L81.3 764.8 L82.1 764.2 L83.0 763.6 L83.9 763.0 L84.8 762.4 L85.7 761.7 L86.6 761.0 L87.5 760.3 L88.4 759.6 L89.3 758.9 L90.2 758.2 L91.0 757.6 L91.9 757.1 L92.8 756.5 L93.7 756.0 L94.6 755.5 L95.5 754.9 L96.4 754.3 L97.3 753.7 L98.2 753.1 L99.0 752.5 L99.9 751.9 L100.8 751.3 L101.7 750.7 L102.6 750.1 L103.5 749.5 L104.4 748.9 L105.3 748.2 L106.2 747.5 L107.0 746.8 L107.9 746.1 L108.8 745.5 L109.7 744.9 L110.6 744.3 L111.5 743.7 L112.4 743.2 L113.3 742.6 L114.2 742.0 L115.0 741.3 L115.9 740.6 L116.8 739.9 L117.7 739.2 L118.6 738.5 L119.5 737.8 L120.4 737.1 L121.3 736.5 L122.2 735.8 L123.1 735.2 L123.9 734.5 L124.8 733.9 L125.7 733.2 L126.6 732.6 L127.5 731.9 L128.4 731.4 L129.3 730.8 L130.2 730.3 L131.1 729.7 L131.9 729.2 L132.8 728.6 L133.7 728.0 L134.6 727.4 L135.5 726.7 L136.4 726.0 L137.3 725.3 L138.2 724.7 L139.1 724.1 L139.9 723.5 L140.8 722.9 L144.8 717.8 L147.6 714.1 L149.3 712.8 M162.8 712.3 L164.4 711.0 L167.3 705.9 L171.2 701.3 L172.5 700.4 L173.9 699.4 L175.2 698.4 L176.5 697.6 L177.9 696.8 L179.2 696.0 L180.5 695.2 L181.9 694.3 L183.2 693.3 L184.6 692.2 L185.9 691.2 L187.2 690.2 L188.6 689.3 L189.9 688.3 L191.2 687.3 L192.6 686.3 L193.9 685.3 L195.3 684.3 L196.6 683.4 L197.9 682.6 L199.3 681.7 L200.6 680.7 L201.9 679.6 L203.3 678.5 L204.6 677.5 L205.9 676.5 L207.3 675.7 L208.6 674.8 L210.0 674.0 L211.3 673.1 L212.6 672.2 L214.0 671.3 L215.3 670.4 L216.6 669.6 L218.0 668.7 L219.3 667.7 L220.6 666.7 L222.0 665.6 L223.3 664.6 L224.7 663.7 L226.0 662.8 L227.3 662.0 L228.7 661.1 L230.0 660.2 L231.3 659.1 L232.7 658.1 L234.0 657.1 L235.3 656.1 L236.7 655.1 L238.0 654.1 L239.4 653.0 L240.7 652.0 L242.0 651.0 L243.4 650.1 L244.7 649.3 L246.0 648.5 L247.4 647.7 L248.7 646.8 L250.0 645.8 L251.4 644.8 L252.7 643.8 L254.1 642.9 L255.4 642.0 L256.7 641.1 L258.1 640.2 L259.4 639.3 L260.7 638.3 L262.1 637.4 L263.4 636.6 L264.7 635.7 L266.1 634.8 L267.4 633.8 L268.8 632.7 L270.1 631.6 L271.4 630.5 L272.8 629.5 L274.1 628.6 L275.4 627.7 L276.8 626.8 L278.1 625.8 L279.4 624.8 L280.8 623.9 L282.1 623.0 L283.5 622.1 L284.8 621.2 L286.1 620.2 L287.5 619.2 L288.8 618.2 L290.1 617.2 L291.5 616.3 L292.8 615.6 L294.1 614.8 L295.5 614.0 L296.8 613.1 L298.2 612.1 L299.5 611.1 L300.8 610.1 L302.2 609.2 L303.5 608.2 L304.8 607.2 L306.2 606.2 L307.5 605.3 L308.8 604.4 L310.2 603.6 L311.5 602.9 L312.9 602.3 L314.2 601.6 L315.5 600.9 L316.9 600.2 L318.2 599.5 M39.1 645.6 L40.0 645.6 L40.9 645.6 L41.9 645.7 L42.8 645.9 L43.7 646.0 L44.6 646.2 L45.6 646.3 L46.5 646.4 L47.4 646.6 L48.3 646.7 L49.3 646.9 L50.2 647.1 L51.1 647.4 L52.0 647.6 L53.0 647.8 L53.9 648.0 L54.8 648.2 L55.7 648.4 L56.7 648.6 L57.6 648.8 L58.5 649.0 L59.4 649.3 L60.4 649.7 L61.3 650.0 L62.2 650.4 L63.1 650.8 L64.1 651.2 L65.0 651.5 L65.9 651.8 L66.8 652.0 L67.8 652.3 L68.7 652.7 L69.6 653.0 L70.5 653.4 L71.5 653.8 L72.4 654.1 L73.3 654.5 L74.2 654.9 L75.2 655.3 L76.1 655.6 L77.0 656.1 L77.9 656.6 L78.9 657.1 L79.8 657.7 L80.7 658.3 L81.6 658.9 L82.6 659.4 L83.5 660.0 L84.4 660.5 L85.3 661.0 L86.3 661.5 L87.2 662.0 L88.1 662.5 L89.0 663.1 L90.0 663.8 L90.9 664.4 L91.8 665.1 L92.7 665.7 L93.7 666.3 L94.6 667.0 L95.5 667.6 L96.4 668.3 L97.4 669.0 L98.3 669.7 L99.2 670.4 L100.1 671.1 L101.1 671.7 L102.0 672.4 L102.9 673.0 L103.8 673.5 L104.8 674.1 L105.7 674.6 L106.6 675.2 L107.5 675.9 L108.5 676.6 L109.4 677.3 L110.3 678.1 L111.2 678.8 L112.2 679.5 L113.1 680.2 L114.0 680.8 L114.9 681.5 L115.9 682.2 L116.8 682.9 L117.7 683.7 L118.6 684.4 L119.6 685.1 L120.5 685.8 L121.4 686.5 L122.3 687.2 L123.3 687.9 L124.2 688.5 L125.1 689.3 L126.0 690.0 L127.0 690.9 L127.9 691.7 L128.8 692.6 L129.7 693.4 L130.7 694.2 L131.6 694.9 L132.5 695.7 L133.4 696.3 L134.4 697.0 L135.3 697.7 L136.2 698.4 L137.1 699.2 L138.1 699.9 L139.0 700.6 L139.9 701.3 L140.8 701.9 L144.8 707.7 L147.6 711.4 L149.3 712.8 M162.8 712.3 L164.4 713.9 L167.3 718.3 L171.2 722.0 L172.5 722.7 L173.9 723.4 L175.2 724.1 L176.5 724.9 L177.9 725.6 L179.2 726.3 L180.5 726.8 L181.9 727.3 L183.2 727.9 L184.6 728.4 L185.9 728.9 L187.2 729.3 L188.6 729.6 L189.9 729.9 L191.2 730.2 L192.6 730.6 L193.9 731.1 L195.3 731.5 L196.6 732.0 L197.9 732.3 L199.3 732.6 L200.6 732.8 L201.9 733.0 L203.3 733.2 L204.6 733.4 L205.9 733.7 L207.3 733.8 L208.6 733.9 L210.0 734.0 L211.3 734.2 L212.6 734.3 L214.0 734.5 L215.3 734.6 L216.6 734.5 L218.0 734.4 L219.3 734.1 L220.6 733.9 L222.0 733.7 L223.3 733.5 L224.7 733.3 L226.0 733.1 L227.3 732.8 L228.7 732.5 L230.0 732.2 L231.3 731.9 L232.7 731.7 L234.0 731.3 L235.3 730.9 L236.7 730.5 L238.0 729.9 L239.4 729.4 L240.7 728.9 L242.0 728.5 L243.4 728.2 L244.7 727.8 L246.0 727.3 L247.4 726.8 L248.7 726.2 L250.0 725.6 L251.4 725.0 L252.7 724.4 L254.1 723.7 L255.4 722.9 L256.7 722.1 L258.1 721.3 L259.4 720.5 L260.7 719.8 L262.1 719.1 L263.4 718.4 L264.7 717.6 L266.1 716.6 L267.4 715.6 L268.8 714.7 L270.1 713.7 L271.4 712.8 L272.8 711.9 L274.1 711.0 L275.4 710.0 L276.8 709.1 L278.1 708.2 L279.4 707.4 L280.8 706.6 L282.1 705.7 L283.5 704.8 L284.8 703.7 L286.1 702.6 L287.5 701.6 L288.8 700.5 L290.1 699.6 L291.5 698.7 L292.8 697.7 L294.1 696.7 L295.5 695.6 L296.8 694.6 L298.2 693.5 L299.5 692.5 L300.8 691.4 L302.2 690.3 L303.5 689.1 L304.8 687.9 L306.2 686.8 L307.5 685.8 L308.8 684.9 L310.2 684.2 L311.5 683.5 L312.9 682.9 L314.2 682.2 L315.5 681.6 L316.9 681.0 L318.2 680.6 M149.3 712.8 L153.2 713.1 L158.8 712.2 L162.8 712.3"/><path id="tee" d="M277.3 580.5 L278.0 580.5 L278.7 580.5 L279.4 580.5 L280.1 580.5 L280.8 580.5 L281.5 580.5 L282.2 580.5 L282.9 580.5 L283.6 580.5 L284.3 580.5 L285.0 580.5 L285.7 580.5 L286.4 580.5 L287.1 580.5 L287.8 580.5 L288.5 580.5 M54.4 676.5 L55.2 674.3 L56.1 672.2 L56.9 670.4 L57.7 669.2 L58.6 668.5 L59.4 668.3 L60.3 668.5 L61.1 668.9 L61.9 669.5 L62.8 670.0 L63.6 670.3 L64.5 670.3 L65.3 670.0 L66.1 669.6 L67.0 669.1 L67.8 668.7 M37.4 671.9 L37.4 672.3 L38.0 672.7 L38.5 673.2 L39.1 673.7 L39.7 674.2 L40.3 674.7 L40.9 675.1 L41.5 675.6 L42.1 676.0 L42.7 676.4 L43.3 676.7 L43.9 677.0 L44.5 677.3 L45.1 677.5 L45.7 677.6 L46.3 677.8 M211.1 726.2 L212.1 726.8 L213.1 726.7 L214.0 725.8 L215.0 724.1 L216.0 721.7 L217.0 718.9 L217.9 715.9 L218.9 713.1 L219.9 710.8 L220.9 709.0 L221.8 707.9 L222.8 707.2 L223.8 706.9 L224.8 706.5 L225.7 706.1 L226.7 705.2 M43.6 604.9 L45.1 604.4 L46.7 604.9 L48.2 606.6 L49.7 609.1 L51.2 611.6 L52.7 612.9 L54.2 612.4 L55.8 610.3 L57.3 607.5 L58.8 605.2 L60.3 604.1 L61.8 604.1 L63.3 604.6 L64.9 604.6 L66.4 603.4 L67.9 601.0 M105.0 784.5 L105.4 784.0 L105.9 783.5 L106.3 782.9 L106.7 782.4 L107.2 781.8 L107.6 781.2 L108.0 780.6 L108.5 780.1 L108.9 779.5 L109.3 778.9 L109.7 778.3 L110.2 777.8 L110.6 777.3 L111.0 776.8 L111.5 776.3 L111.9 775.9 M223.4 721.8 L224.3 720.1 L225.2 718.5 L226.1 717.2 L226.9 716.3 L227.8 715.7 L228.7 715.5 L229.5 715.7 L230.4 716.1 L231.3 716.6 L232.2 717.2 L233.0 717.8 L233.9 718.2 L234.8 718.4 L235.6 718.5 L236.5 718.3 L237.4 718.0 M48.7 769.4 L50.1 766.2 L51.5 762.1 L53.0 758.0 L54.4 754.7 L55.8 752.4 L57.2 751.4 L58.6 751.2 L60.1 751.2 L61.5 750.9 L62.9 749.9 L64.3 748.4 L65.7 747.0 L67.1 746.4 L68.6 747.0 L70.0 749.0 L71.4 752.1 M291.5 714.3 L292.8 715.4 L294.2 716.8 L295.5 718.1 L296.8 719.0 L298.2 719.2 L299.5 718.6 L300.8 717.2 L302.2 715.2 L303.5 713.1 L304.8 711.3 L306.2 709.9 L307.5 709.2 L308.9 709.1 L310.2 709.5 L311.5 710.0 L312.9 710.3 M65.1 683.9 L66.0 684.0 L67.0 684.5 L68.0 685.4 L68.9 686.6 L69.9 688.0 L70.8 689.4 L71.8 690.6 L72.8 691.5 L73.7 691.9 L74.7 691.8 L75.7 691.1 L76.6 690.0 L77.6 688.6 L78.6 687.0 L79.5 685.5 L80.5 684.3 M231.5 625.0 L232.0 625.2 L232.5 625.4 L233.1 625.5 L233.6 625.6 L234.2 625.7 L234.7 625.8 L235.2 625.8 L235.8 625.8 L236.3 625.8 L236.8 625.8 L237.4 625.8 L237.9 625.8 L238.4 625.9 L239.0 625.9 L239.5 626.0 L240.1 626.2 M80.5 628.7 L81.1 628.8 L81.7 629.0 L82.3 629.3 L82.9 629.7 L83.5 630.1 L84.1 630.6 L84.7 631.0 L85.2 631.4 L85.8 631.7 L86.4 631.9 L87.0 632.0 L87.6 632.0 L88.2 631.8 L88.8 631.6 L89.4 631.3 L90.0 631.0 M41.5 670.9 L42.0 671.1 L42.4 671.3 L42.8 671.5 L43.2 671.6 L43.7 671.9 L44.1 672.1 L44.5 672.3 L44.9 672.7 L45.4 673.0 L45.8 673.4 L46.2 673.9 L46.7 674.4 L47.1 675.0 L47.5 675.6 L47.9 676.3 L48.4 677.1 M169.1 583.7 L170.2 582.0 L171.3 580.6 L172.4 580.5 L173.5 580.5 L174.5 580.5 L175.6 580.5 L176.7 580.5 L177.8 580.5 L178.9 580.5 L180.0 580.5 L181.0 580.5 L182.1 580.5 L183.2 580.5 L184.3 580.5 L185.4 580.5 L186.5 580.5 M150.4 734.9 L151.6 736.5 L152.8 738.4 L154.0 740.0 L155.3 740.7 L156.5 740.3 L157.7 738.6 L158.9 736.1 L160.1 733.5 L161.4 731.4 L162.6 730.1 L163.8 729.7 L165.0 730.0 L166.2 730.3 L167.5 730.2 L168.7 729.3 L169.9 727.7 M154.5 674.7 L155.8 676.1 L157.2 676.6 L158.6 675.8 L159.9 673.8 L161.3 670.8 L162.7 667.3 L164.0 664.1 L165.4 661.7 L166.8 660.2 L168.1 659.5 L169.5 659.3 L170.9 659.0 L172.2 658.2 L173.6 656.8 L175.0 655.0 L176.3 653.2 M59.4 776.2 L60.1 777.3 L60.8 778.3 L61.5 779.4 L62.1 780.3 L62.8 780.9 L63.5 781.2 L64.2 781.2 L64.9 780.7 L65.6 779.9 L66.2 778.7 L66.9 777.2 L67.6 775.5 L68.3 773.8 L69.0 772.1 L69.7 770.4 L70.3 769.0 M170.9 715.1 L172.3 711.8 L173.8 709.4 L175.2 708.1 L176.6 707.9 L178.1 708.3 L179.5 708.8 L180.9 709.0 L182.4 708.7 L183.8 707.9 L185.3 707.0 L186.7 706.5 L188.1 706.8 L189.6 708.2 L191.0 710.6 L192.4 713.6 L193.9 716.6 M274.5 728.3 L275.3 728.7 L276.0 729.2 L276.8 729.9 L277.6 730.7 L278.3 731.8 L279.1 732.9 L279.9 734.1 L280.6 735.3 L281.4 736.5 L282.2 737.6 L282.9 738.5 L283.7 739.2 L284.4 739.6 L285.2 739.6 L286.0 739.4 L286.7 738.9 M156.8 771.6 L157.9 771.2 L159.1 770.6 L160.2 770.0 L161.4 769.8 L162.5 770.0 L163.7 770.8 L164.8 772.0 L165.9 773.5 L167.1 775.1 L168.2 776.4 L169.4 777.2 L170.5 777.4 L171.7 776.9 L172.8 775.8 L174.0 774.2 L175.1 772.6 M179.5 689.5 L180.5 687.6 L181.4 685.8 L182.3 684.4 L183.3 683.4 L184.2 683.0 L185.1 683.2 L186.1 683.7 L187.0 684.5 L187.9 685.2 L188.9 685.8 L189.8 685.9 L190.7 685.7 L191.7 685.1 L192.6 684.2 L193.5 683.4 L194.4 682.6 M304.4 713.7 L305.2 715.1 L306.0 716.6 L306.8 717.8 L307.6 718.8 L308.5 719.4 L309.3 719.4 L310.1 718.9 L310.9 717.8 L311.7 716.3 L312.5 714.5 L313.3 712.5 L314.1 710.6 L314.9 708.8 L315.7 707.3 L316.5 706.1 L317.3 705.3 M37.4 737.2 L37.4 737.8 L37.4 738.3 L37.4 738.7 L37.6 739.0 L38.1 739.3 L38.7 739.5 L39.3 739.8 L39.9 740.2 L40.5 740.6 L41.1 741.2 L41.7 741.8 L42.3 742.7 L42.8 743.7 L43.4 744.8 L44.0 746.0 L44.6 747.4 M61.1 718.6 L61.7 718.4 L62.4 718.3 L63.0 718.2 L63.6 718.1 L64.3 718.0 L64.9 718.1 L65.5 718.1 L66.2 718.3 L66.8 718.6 L67.5 718.9 L68.1 719.3 L68.7 719.9 L69.4 720.4 L70.0 721.1 L70.7 721.8 L71.3 722.5 M55.6 732.0 L56.2 732.5 L56.8 732.9 L57.4 733.5 L58.0 734.0 L58.7 734.6 L59.3 735.1 L59.9 735.7 L60.5 736.2 L61.1 736.7 L61.7 737.1 L62.4 737.5 L63.0 737.8 L63.6 738.0 L64.2 738.1 L64.8 738.1 L65.5 738.0 M313.5 721.3 L314.8 719.3 L316.1 717.0 L317.5 714.4 L318.2 711.8 L318.2 709.5 L318.2 707.7 L318.2 706.6 L318.2 706.0 L318.2 705.9 L318.2 706.2 L318.2 706.5 L318.2 706.9 L318.2 707.0 L318.2 706.8 L318.2 706.4 L318.2 705.9 M268.5 720.0 L269.2 721.0 L269.9 722.1 L270.5 723.3 L271.2 724.5 L271.8 725.7 L272.5 726.7 L273.1 727.5 L273.8 728.0 L274.4 728.2 L275.1 728.0 L275.7 727.5 L276.4 726.7 L277.0 725.6 L277.7 724.4 L278.3 723.0 L279.0 721.7 M271.3 640.4 L271.7 641.1 L272.2 641.7 L272.7 642.2 L273.2 642.6 L273.6 642.9 L274.1 643.0 L274.6 643.1 L275.1 643.0 L275.5 642.8 L276.0 642.6 L276.5 642.4 L277.0 642.2 L277.4 642.0 L277.9 641.9 L278.4 641.9 L278.9 642.1 M301.8 620.6 L302.6 620.7 L303.4 621.1 L304.2 621.5 L305.0 622.1 L305.7 622.6 L306.5 623.2 L307.3 623.7 L308.1 624.2 L308.9 624.5 L309.7 624.7 L310.4 624.7 L311.2 624.6 L312.0 624.4 L312.8 624.2 L313.6 623.9 L314.3 623.6 M37.4 598.4 L37.4 599.1 L37.4 599.6 L37.4 600.1 L37.4 600.5 L37.4 600.6 L37.9 600.6 L38.4 600.3 L38.9 599.8 L39.4 599.1 L39.9 598.2 L40.4 597.2 L40.9 596.0 L41.4 594.6 L41.9 593.3 L42.4 591.9 L42.9 590.5 M223.4 664.2 L224.8 664.4 L226.3 664.7 L227.7 665.2 L229.1 666.0 L230.6 667.2 L232.0 668.8 L233.5 670.5 L234.9 672.2 L236.3 673.7 L237.8 674.8 L239.2 675.4 L240.7 675.4 L242.1 674.7 L243.5 673.4 L245.0 671.7 L246.4 669.7 M61.7 732.6 L63.1 733.9 L64.6 735.2 L66.0 736.4 L67.4 737.4 L68.9 738.1 L70.3 738.5 L71.8 738.7 L73.2 738.9 L74.6 739.3 L76.1 740.0 L77.5 741.2 L78.9 742.9 L80.4 745.0 L81.8 747.4 L83.2 750.0 L84.7 752.4 M304.2 781.7 L305.5 782.7 L306.8 784.0 L308.1 785.7 L309.4 787.4 L310.7 788.8 L312.0 789.7 L313.3 790.0 L314.6 789.4 L315.9 788.0 L317.2 786.1 L318.2 783.9 L318.2 781.8 L318.2 779.8 L318.2 778.4 L318.2 777.5 L318.2 777.0 M194.1 639.6 L194.8 640.0 L195.4 640.5 L196.0 641.0 L196.7 641.6 L197.3 642.2 L197.9 642.8 L198.6 643.5 L199.2 644.2 L199.9 644.8 L200.5 645.5 L201.1 646.1 L201.8 646.6 L202.4 647.0 L203.1 647.4 L203.7 647.7 L204.3 647.8 M235.3 730.4 L236.0 730.7 L236.7 731.2 L237.3 731.7 L238.0 732.4 L238.7 733.1 L239.4 733.8 L240.1 734.5 L240.8 735.2 L241.5 735.8 L242.2 736.4 L242.8 736.7 L243.5 737.0 L244.2 737.0 L244.9 736.9 L245.6 736.6 L246.3 736.1 M162.9 587.4 L163.8 588.4 L164.7 589.3 L165.7 590.0 L166.6 590.6 L167.6 590.9 L168.5 591.1 L169.5 591.2 L170.4 591.3 L171.3 591.5 L172.3 591.8 L173.2 592.4 L174.2 593.3 L175.1 594.4 L176.0 595.9 L177.0 597.5 L177.9 599.3 M54.1 799.6 L55.0 799.6 L55.8 799.6 L56.7 799.6 L57.6 799.6 L58.4 799.6 L59.3 799.6 L60.1 799.6 L61.0 799.6 L61.8 798.7 L62.7 796.8 L63.5 794.8 L64.4 792.7 L65.2 790.8 L66.1 789.0 L66.9 787.4 L67.8 786.1 M261.2 789.7 L261.8 788.7 L262.3 787.6 L262.9 786.3 L263.5 784.9 L264.1 783.4 L264.7 781.8 L265.3 780.3 L265.9 778.9 L266.4 777.5 L267.0 776.3 L267.6 775.2 L268.2 774.3 L268.8 773.7 L269.4 773.2 L270.0 772.9 L270.6 772.7 M161.6 652.2 L162.0 652.2 L162.5 652.3 L162.9 652.5 L163.4 652.8 L163.8 653.2 L164.2 653.6 L164.7 654.0 L165.1 654.4 L165.5 654.7 L166.0 655.0 L166.4 655.2 L166.8 655.4 L167.3 655.4 L167.7 655.4 L168.2 655.2 L168.6 655.0 M61.5 671.3 L62.4 672.4 L63.2 673.3 L64.1 673.9 L65.0 674.4 L65.8 674.7 L66.7 675.0 L67.5 675.2 L68.4 675.6 L69.2 676.1 L70.1 676.9 L71.0 678.0 L71.8 679.3 L72.7 680.8 L73.5 682.6 L74.4 684.4 L75.2 686.3 M305.1 625.6 L306.5 626.6 L308.0 628.0 L309.4 629.6 L310.9 631.3 L312.4 633.1 L313.8 634.6 L315.3 635.7 L316.7 636.4 L318.2 636.5 L318.2 636.0 L318.2 635.0 L318.2 633.7 L318.2 632.1 L318.2 630.6 L318.2 629.2 L318.2 628.1 M158.6 753.7 L159.3 754.4 L160.0 754.8 L160.7 755.0 L161.4 755.0 L162.0 755.0 L162.7 754.9 L163.4 755.0 L164.1 755.3 L164.8 755.9 L165.5 756.9 L166.2 758.1 L166.9 759.6 L167.5 761.2 L168.2 762.8 L168.9 764.4 L169.6 765.7 M106.2 637.6 L107.6 639.5 L109.1 640.8 L110.5 641.3 L112.0 641.3 L113.4 641.3 L114.9 641.9 L116.3 643.4 L117.8 646.0 L119.2 649.1 L120.7 652.2 L122.1 654.5 L123.6 655.5 L125.0 655.0 L126.5 653.5 L127.9 651.7 L129.4 650.0 M69.5 735.8 L70.4 736.0 L71.4 736.3 L72.3 736.6 L73.2 736.9 L74.1 737.2 L75.0 737.7 L75.9 738.3 L76.8 739.1 L77.7 739.9 L78.7 740.9 L79.6 742.0 L80.5 743.1 L81.4 744.4 L82.3 745.6 L83.2 746.7 L84.1 747.8 M51.8 738.6 L52.2 738.3 L52.6 738.2 L53.0 738.2 L53.5 738.4 L53.9 738.7 L54.3 739.1 L54.7 739.5 L55.2 740.0 L55.6 740.5 L56.0 741.0 L56.4 741.5 L56.9 741.9 L57.3 742.2 L57.7 742.4 L58.1 742.5 L58.5 742.5 M133.9 637.3 L134.6 637.9 L135.2 638.4 L135.9 639.0 L136.5 639.5 L137.2 640.0 L137.8 640.3 L138.5 640.6 L139.1 640.8 L139.8 640.9 L140.4 640.9 L141.1 640.7 L141.7 640.5 L142.4 640.1 L143.0 639.6 L143.7 639.0 L144.3 638.4 M54.9 716.2 L55.3 716.3 L55.8 716.5 L56.2 716.6 L56.6 716.9 L57.1 717.1 L57.5 717.4 L57.9 717.7 L58.3 718.1 L58.8 718.5 L59.2 719.0 L59.6 719.5 L60.1 720.0 L60.5 720.5 L60.9 721.1 L61.3 721.7 L61.8 722.3 M141.8 748.4 L142.8 749.0 L143.8 749.6 L144.8 750.2 L145.8 750.9 L146.8 751.7 L147.8 752.6 L148.8 753.8 L149.8 755.2 L150.8 756.7 L151.8 758.4 L152.8 760.1 L153.8 761.9 L154.8 763.6 L155.8 765.2 L156.8 766.5 L157.8 767.6 M257.8 635.3 L259.3 637.5 L260.8 639.7 L262.3 641.0 L263.8 640.8 L265.4 638.8 L266.9 635.5 L268.4 631.8 L269.9 628.6 L271.4 626.3 L273.0 625.2 L274.5 624.7 L276.0 624.1 L277.5 622.9 L279.0 620.8 L280.6 618.4 L282.1 616.4 M246.7 642.4 L247.7 642.3 L248.8 642.6 L249.8 643.1 L250.8 643.7 L251.9 644.4 L252.9 645.0 L254.0 645.4 L255.0 645.6 L256.0 645.6 L257.1 645.3 L258.1 644.7 L259.1 644.1 L260.2 643.5 L261.2 642.9 L262.3 642.5 L263.3 642.4 M247.6 614.9 L248.5 614.8 L249.5 615.3 L250.4 616.2 L251.4 617.2 L252.3 618.0 L253.2 618.5 L254.2 618.6 L255.1 618.6 L256.1 618.6 L257.0 618.8 L257.9 619.6 L258.9 621.1 L259.8 623.2 L260.8 625.9 L261.7 628.8 L262.7 631.7 M158.9 747.3 L160.2 746.1 L161.5 743.9 L162.8 741.3 L164.1 738.5 L165.4 736.2 L166.6 734.6 L167.9 734.0 L169.2 734.1 L170.5 734.6 L171.8 735.2 L173.1 735.5 L174.4 735.2 L175.6 734.5 L176.9 733.6 L178.2 732.9 L179.5 732.9 M95.9 720.2 L97.0 720.4 L98.2 720.8 L99.4 721.6 L100.6 722.9 L101.8 724.8 L102.9 727.1 L104.1 729.5 L105.3 731.5 L106.5 732.8 L107.7 733.2 L108.8 732.7 L110.0 731.3 L111.2 729.4 L112.4 727.4 L113.6 725.7 L114.7 724.5 M58.7 659.7 L59.8 658.2 L60.8 656.9 L61.8 655.6 L62.8 654.7 L63.9 653.9 L64.9 653.5 L65.9 653.3 L67.0 653.3 L68.0 653.6 L69.0 654.0 L70.0 654.4 L71.1 654.8 L72.1 655.1 L73.1 655.3 L74.1 655.4 L75.2 655.2 M204.9 774.4 L205.9 772.3 L207.0 770.8 L208.0 769.8 L209.1 769.5 L210.1 769.6 L211.2 770.1 L212.2 770.7 L213.2 771.4 L214.3 771.8 L215.3 772.0 L216.4 771.9 L217.4 771.5 L218.5 771.1 L219.5 770.8 L220.6 770.8 L221.6 771.3 M176.6 723.2 L178.1 719.6 L179.7 716.4 L181.2 713.8 L182.8 712.1 L184.3 711.1 L185.9 710.7 L187.4 710.8 L189.0 710.9 L190.5 710.9 L192.1 710.6 L193.6 710.0 L195.1 709.2 L196.7 708.5 L198.2 708.2 L199.8 708.6 L201.3 709.8 M125.3 594.6 L126.0 595.6 L126.7 596.6 L127.4 597.4 L128.0 597.9 L128.7 598.2 L129.4 598.1 L130.1 597.6 L130.8 596.6 L131.5 595.4 L132.1 593.8 L132.8 591.9 L133.5 590.0 L134.2 588.0 L134.9 586.1 L135.6 584.3 L136.2 582.8 M265.1 649.1 L265.8 650.4 L266.6 651.5 L267.3 652.3 L268.0 652.9 L268.8 653.5 L269.5 654.0 L270.3 654.8 L271.0 655.9 L271.8 657.3 L272.5 659.1 L273.3 661.2 L274.0 663.5 L274.7 665.9 L275.5 668.2 L276.2 670.2 L277.0 671.7 M310.3 680.4 L310.7 680.8 L311.2 681.2 L311.6 681.6 L312.0 682.0 L312.4 682.3 L312.9 682.6 L313.3 682.9 L313.7 683.2 L314.1 683.4 L314.6 683.6 L315.0 683.8 L315.4 683.9 L315.8 684.1 L316.3 684.2 L316.7 684.2 L317.1 684.3 M278.4 646.9 L279.9 647.7 L281.4 648.8 L282.9 650.8 L284.4 653.7 L285.9 657.1 L287.4 660.2 L288.9 662.0 L290.4 662.0 L292.0 660.2 L293.5 657.2 L295.0 654.0 L296.5 651.3 L298.0 649.5 L299.5 648.4 L301.0 647.3 L302.5 645.5 M59.3 695.0 L60.0 694.9 L60.7 694.8 L61.3 694.7 L62.0 694.7 L62.6 694.6 L63.3 694.7 L63.9 694.8 L64.6 695.0 L65.3 695.3 L65.9 695.7 L66.6 696.1 L67.2 696.7 L67.9 697.3 L68.6 698.0 L69.2 698.7 L69.9 699.5 M273.6 675.9 L274.5 675.7 L275.4 675.0 L276.4 673.8 L277.3 672.2 L278.2 670.2 L279.1 668.1 L280.0 666.0 L280.9 664.0 L281.8 662.4 L282.7 661.2 L283.6 660.4 L284.5 660.0 L285.5 659.9 L286.4 660.0 L287.3 660.2 L288.2 660.3 M205.3 597.7 L206.6 599.1 L207.8 599.8 L209.1 600.2 L210.3 601.0 L211.5 602.7 L212.8 605.3 L214.0 608.7 L215.2 612.0 L216.5 614.5 L217.7 615.6 L219.0 615.2 L220.2 613.5 L221.4 611.2 L222.7 609.0 L223.9 607.5 L225.1 606.7 M84.2 681.3 L85.4 679.7 L86.6 677.8 L87.7 675.9 L88.9 674.1 L90.1 672.4 L91.2 671.1 L92.4 670.0 L93.6 669.3 L94.7 669.0 L95.9 669.0 L97.1 669.2 L98.2 669.5 L99.4 669.9 L100.6 670.3 L101.7 670.5 L102.9 670.6 M149.1 716.2 L149.8 715.7 L150.5 715.3 L151.2 715.0 L151.9 714.9 L152.6 714.8 L153.3 714.9 L154.0 715.0 L154.7 715.2 L155.4 715.5 L156.1 715.8 L156.8 716.1 L157.5 716.4 L158.2 716.7 L158.9 717.0 L159.6 717.2 L160.3 717.4 M276.9 701.5 L278.3 701.4 L279.7 700.7 L281.0 699.5 L282.4 698.0 L283.8 696.2 L285.1 694.6 L286.5 693.1 L287.9 692.1 L289.2 691.5 L290.6 691.4 L291.9 691.7 L293.3 692.3 L294.7 693.0 L296.0 693.6 L297.4 693.9 L298.8 694.0 M41.6 644.1 L43.0 644.4 L44.4 644.7 L45.8 645.2 L47.2 645.9 L48.6 646.8 L50.0 648.1 L51.4 649.7 L52.8 651.4 L54.2 653.2 L55.6 654.8 L57.0 656.1 L58.4 656.9 L59.8 657.2 L61.2 656.8 L62.6 655.9 L64.0 654.5 M178.5 781.3 L179.0 781.6 L179.5 782.0 L180.0 782.4 L180.5 782.9 L181.0 783.4 L181.5 783.9 L182.0 784.5 L182.5 785.0 L183.0 785.6 L183.5 786.1 L184.0 786.6 L184.5 787.1 L185.0 787.5 L185.6 787.8 L186.1 788.0 L186.6 788.1 M132.6 787.8 L134.2 787.9 L135.7 788.5 L137.3 790.3 L138.9 793.4 L140.5 796.9 L142.0 799.6 L143.6 799.6 L145.2 799.0 L146.8 796.6 L148.3 794.2 L149.9 792.9 L151.5 792.9 L153.1 793.4 L154.6 793.4 L156.2 792.1 L157.8 789.5 M117.2 793.2 L118.5 794.8 L119.8 796.7 L121.1 798.4 L122.4 799.5 L123.7 799.6 L125.0 798.9 L126.3 797.1 L127.5 794.7 L128.8 792.1 L130.1 789.7 L131.4 788.0 L132.7 787.0 L134.0 786.6 L135.3 786.5 L136.6 786.5 L137.9 786.0 M186.6 711.6 L187.0 711.4 L187.5 711.1 L188.0 710.6 L188.4 710.1 L188.9 709.4 L189.4 708.6 L189.8 707.7 L190.3 706.7 L190.8 705.6 L191.2 704.5 L191.7 703.4 L192.2 702.3 L192.6 701.1 L193.1 700.1 L193.6 699.0 L194.0 698.0 M169.0 645.5 L170.4 647.4 L171.8 649.5 L173.2 651.5 L174.5 652.7 L175.9 652.8 L177.3 651.9 L178.7 650.0 L180.1 647.8 L181.5 645.7 L182.9 644.2 L184.3 643.5 L185.7 643.6 L187.1 644.1 L188.5 644.6 L189.9 644.7 L191.3 644.2 M147.0 769.9 L147.7 770.8 L148.5 771.3 L149.2 771.4 L150.0 771.1 L150.8 770.2 L151.5 769.0 L152.3 767.4 L153.1 765.8 L153.8 764.3 L154.6 762.9 L155.3 762.0 L156.1 761.4 L156.9 761.3 L157.6 761.5 L158.4 762.0 L159.1 762.5 M65.0 713.9 L65.9 713.6 L66.8 713.4 L67.6 713.3 L68.5 713.2 L69.3 713.3 L70.2 713.4 L71.0 713.7 L71.9 714.1 L72.7 714.6 L73.6 715.2 L74.4 715.9 L75.3 716.6 L76.1 717.4 L77.0 718.1 L77.9 718.8 L78.7 719.4 M288.3 784.9 L289.4 786.6 L290.4 787.9 L291.5 788.6 L292.6 788.6 L293.6 787.7 L294.7 786.1 L295.7 783.8 L296.8 781.3 L297.8 778.9 L298.9 776.9 L299.9 775.3 L301.0 774.4 L302.1 773.9 L303.1 773.8 L304.2 773.8 L305.2 773.6 M266.6 634.2 L268.0 634.8 L269.4 635.9 L270.8 637.5 L272.2 639.3 L273.7 641.1 L275.1 642.4 L276.5 643.1 L277.9 643.0 L279.3 642.0 L280.7 640.4 L282.2 638.3 L283.6 636.2 L285.0 634.3 L286.4 632.9 L287.8 632.1 L289.3 631.7 M316.6 634.3 L317.7 636.1 L318.2 637.6 L318.2 638.5 L318.2 639.0 L318.2 639.5 L318.2 640.1 L318.2 641.4 L318.2 643.5 L318.2 646.3 L318.2 649.6 L318.2 652.8 L318.2 655.4 L318.2 657.0 L318.2 657.5 L318.2 656.8 L318.2 655.4 M177.2 742.7 L178.6 740.6 L180.0 740.1 L181.4 740.8 L182.8 742.0 L184.1 742.8 L185.5 742.6 L186.9 741.5 L188.3 740.3 L189.7 739.9 L191.1 741.0 L192.4 743.4 L193.8 746.5 L195.2 749.2 L196.6 750.7 L198.0 750.6 L199.3 749.3 M163.8 684.7 L164.5 685.3 L165.2 685.8 L165.9 686.2 L166.6 686.5 L167.3 686.8 L168.1 687.1 L168.8 687.5 L169.5 688.0 L170.2 688.6 L170.9 689.3 L171.7 690.2 L172.4 691.2 L173.1 692.4 L173.8 693.8 L174.5 695.2 L175.3 696.6 M263.1 649.6 L264.6 649.4 L266.0 649.3 L267.4 649.3 L268.8 649.6 L270.3 650.3 L271.7 651.5 L273.1 653.1 L274.5 654.8 L276.0 656.6 L277.4 658.1 L278.8 659.2 L280.2 659.7 L281.7 659.6 L283.1 659.0 L284.5 657.9 L285.9 656.5 M179.7 772.6 L180.4 770.7 L181.1 768.8 L181.8 767.0 L182.5 765.3 L183.1 763.8 L183.8 762.5 L184.5 761.6 L185.2 761.0 L185.9 760.7 L186.6 760.7 L187.2 760.8 L187.9 761.1 L188.6 761.4 L189.3 761.7 L190.0 762.0 L190.7 762.1 M73.2 721.9 L74.5 719.9 L75.9 717.1 L77.2 714.1 L78.6 711.8 L79.9 710.4 L81.2 710.3 L82.6 710.9 L83.9 711.8 L85.3 712.3 L86.6 712.2 L87.9 711.5 L89.3 710.5 L90.6 709.9 L92.0 710.3 L93.3 711.9 L94.6 714.7 M238.1 614.6 L238.8 615.5 L239.5 616.6 L240.2 617.6 L240.9 618.7 L241.6 619.8 L242.3 620.7 L243.0 621.6 L243.7 622.3 L244.4 622.8 L245.1 623.0 L245.7 623.0 L246.4 622.8 L247.1 622.3 L247.8 621.5 L248.5 620.6 L249.2 619.6 M301.1 621.5 L301.8 621.3 L302.6 621.0 L303.3 620.3 L304.0 619.5 L304.8 618.5 L305.5 617.4 L306.3 616.2 L307.0 615.1 L307.8 614.1 L308.5 613.2 L309.3 612.4 L310.0 611.9 L310.8 611.7 L311.5 611.6 L312.3 611.8 L313.0 612.1 M155.3 614.1 L156.5 615.5 L157.7 616.5 L158.9 617.0 L160.1 617.2 L161.3 617.4 L162.4 617.9 L163.6 619.0 L164.8 620.8 L166.0 623.1 L167.2 625.8 L168.4 628.5 L169.6 630.7 L170.8 632.2 L172.0 632.6 L173.1 632.1 L174.3 630.8"/><path id="toe" d="M277.5 608.4 L278.8 608.5 L280.2 608.4 L281.5 608.3 L282.9 608.6 L284.2 609.5 L285.6 611.1 L286.9 613.1 L288.3 615.3 L289.6 617.4 L290.9 618.9 L292.3 619.7 L293.6 619.5 L295.0 618.6 L296.3 617.2 L297.7 615.5 L299.0 614.2 M172.2 591.8 L172.6 592.1 L173.1 592.4 L173.5 592.6 L174.0 592.6 L174.4 592.6 L174.9 592.5 L175.3 592.4 L175.7 592.2 L176.2 592.0 L176.6 591.7 L177.1 591.6 L177.5 591.4 L178.0 591.3 L178.4 591.4 L178.8 591.5 L179.3 591.7 M295.7 726.5 L297.2 727.3 L298.7 728.6 L300.2 730.1 L301.7 731.5 L303.2 732.4 L304.7 732.9 L306.2 732.8 L307.6 732.6 L309.1 732.4 L310.6 732.7 L312.1 733.6 L313.6 735.2 L315.1 737.5 L316.6 740.1 L318.1 742.8 L318.2 745.0 M72.5 648.7 L73.4 649.6 L74.2 650.1 L75.1 650.4 L76.0 650.3 L76.9 649.9 L77.7 649.2 L78.6 648.5 L79.5 648.0 L80.4 647.6 L81.2 647.6 L82.1 648.1 L83.0 648.9 L83.8 650.1 L84.7 651.5 L85.6 652.9 L86.5 654.1 M175.1 682.8 L175.6 682.9 L176.1 683.1 L176.6 683.5 L177.1 683.9 L177.7 684.4 L178.2 684.8 L178.7 685.3 L179.2 685.8 L179.7 686.2 L180.2 686.5 L180.8 686.8 L181.3 687.0 L181.8 687.1 L182.3 687.2 L182.8 687.2 L183.3 687.2 M118.4 700.9 L119.4 698.6 L120.5 696.9 L121.5 695.9 L122.6 695.7 L123.7 696.2 L124.7 697.0 L125.8 697.8 L126.8 698.2 L127.9 698.0 L128.9 697.2 L130.0 696.1 L131.1 695.0 L132.1 694.2 L133.2 694.0 L134.2 694.7 L135.3 696.1 M124.8 754.7 L125.9 754.1 L127.0 752.7 L128.1 750.5 L129.2 747.9 L130.3 745.3 L131.4 742.9 L132.5 741.1 L133.6 739.9 L134.7 739.4 L135.9 739.4 L137.0 739.7 L138.1 739.9 L139.2 739.7 L140.3 739.2 L141.4 738.3 L142.5 737.1 M282.3 612.6 L283.1 612.4 L283.9 612.2 L284.7 612.2 L285.5 612.3 L286.3 612.7 L287.1 613.4 L287.9 614.2 L288.8 615.3 L289.6 616.5 L290.4 617.7 L291.2 618.8 L292.0 619.8 L292.8 620.5 L293.6 620.9 L294.4 620.9 L295.2 620.5 M87.9 680.7 L89.0 680.8 L90.2 681.2 L91.3 682.1 L92.5 683.5 L93.6 685.3 L94.7 687.2 L95.9 689.0 L97.0 690.4 L98.1 691.2 L99.3 691.3 L100.4 690.6 L101.6 689.3 L102.7 687.7 L103.8 686.0 L105.0 684.5 L106.1 683.4 M307.3 799.4 L308.1 798.2 L308.9 796.8 L309.8 795.3 L310.6 793.8 L311.4 792.2 L312.2 790.7 L313.0 789.1 L313.8 787.7 L314.6 786.3 L315.4 785.1 L316.3 784.0 L317.1 783.1 L317.9 782.3 L318.2 781.7 L318.2 781.3 L318.2 781.0 M159.0 756.0 L160.4 757.3 L161.9 758.7 L163.3 759.7 L164.8 760.4 L166.2 760.6 L167.7 760.5 L169.1 760.3 L170.6 760.1 L172.1 760.4 L173.5 761.1 L175.0 762.5 L176.4 764.4 L177.9 766.6 L179.3 768.9 L180.8 771.0 L182.2 772.5 M51.4 728.1 L52.3 728.0 L53.2 728.2 L54.2 728.7 L55.1 729.4 L56.0 730.2 L57.0 730.9 L57.9 731.6 L58.8 732.1 L59.8 732.4 L60.7 732.5 L61.6 732.5 L62.6 732.4 L63.5 732.4 L64.4 732.5 L65.4 732.9 L66.3 733.5 M257.7 717.6 L259.1 714.3 L260.4 711.1 L261.8 708.9 L263.1 708.0 L264.5 708.5 L265.8 709.5 L267.2 710.3 L268.6 710.4 L269.9 709.7 L271.3 708.7 L272.6 708.3 L274.0 709.2 L275.3 711.6 L276.7 715.1 L278.0 718.9 L279.4 722.0 M146.1 768.4 L147.0 769.7 L147.9 770.9 L148.8 771.7 L149.7 772.1 L150.6 772.2 L151.5 772.1 L152.3 771.9 L153.2 772.0 L154.1 772.5 L155.0 773.5 L155.9 775.1 L156.8 777.0 L157.6 779.2 L158.5 781.4 L159.4 783.2 L160.3 784.6 M220.8 755.9 L221.4 754.7 L222.0 753.2 L222.6 751.5 L223.2 749.7 L223.8 747.8 L224.4 746.0 L225.0 744.2 L225.6 742.5 L226.2 741.0 L226.8 739.7 L227.4 738.7 L228.0 737.9 L228.6 737.4 L229.2 737.0 L229.7 736.9 L230.3 736.8 M304.1 703.2 L304.8 703.9 L305.5 704.6 L306.2 705.3 L306.9 706.0 L307.5 706.7 L308.2 707.2 L308.9 707.6 L309.6 707.9 L310.3 707.9 L311.0 707.7 L311.6 707.2 L312.3 706.5 L313.0 705.6 L313.7 704.5 L314.4 703.3 L315.1 701.9 M183.4 741.3 L184.1 740.8 L184.7 740.1 L185.4 738.9 L186.1 737.5 L186.7 735.8 L187.4 734.0 L188.1 732.2 L188.8 730.4 L189.4 728.8 L190.1 727.4 L190.8 726.3 L191.4 725.5 L192.1 725.0 L192.8 724.8 L193.4 724.7 L194.1 724.8 M252.8 628.7 L254.0 629.1 L255.3 629.7 L256.5 630.6 L257.8 631.8 L259.0 633.1 L260.3 634.7 L261.5 636.2 L262.8 637.8 L264.0 639.1 L265.3 640.2 L266.5 640.9 L267.8 641.2 L269.0 641.0 L270.3 640.4 L271.5 639.4 L272.7 638.1 M211.8 634.3 L213.3 634.6 L214.8 634.7 L216.3 634.8 L217.7 635.0 L219.2 635.5 L220.7 636.4 L222.2 637.7 L223.7 639.3 L225.2 641.2 L226.7 643.1 L228.2 644.9 L229.7 646.3 L231.1 647.1 L232.6 647.4 L234.1 647.0 L235.6 646.1 M75.7 694.7 L77.2 696.0 L78.7 696.3 L80.1 695.2 L81.6 692.9 L83.1 689.7 L84.6 686.3 L86.0 683.3 L87.5 681.0 L89.0 679.7 L90.4 679.2 L91.9 679.1 L93.4 678.8 L94.9 678.2 L96.3 677.0 L97.8 675.6 L99.3 674.4 M229.4 642.6 L230.5 643.2 L231.5 643.9 L232.5 644.6 L233.5 645.2 L234.5 645.7 L235.5 646.0 L236.5 646.2 L237.5 646.1 L238.5 645.9 L239.5 645.5 L240.5 645.2 L241.6 644.9 L242.6 644.8 L243.6 644.9 L244.6 645.3 L245.6 645.9 M298.3 611.0 L299.1 608.4 L299.8 606.2 L300.6 604.3 L301.3 602.9 L302.1 602.1 L302.8 601.7 L303.6 601.7 L304.3 601.9 L305.1 602.2 L305.8 602.4 L306.6 602.5 L307.3 602.4 L308.1 602.1 L308.8 601.7 L309.6 601.2 L310.3 600.9 M297.4 658.9 L298.6 655.5 L299.9 651.8 L301.2 648.8 L302.5 647.0 L303.8 646.4 L305.0 646.8 L306.3 647.5 L307.6 647.9 L308.9 647.7 L310.1 647.0 L311.4 646.3 L312.7 646.2 L314.0 647.3 L315.3 649.7 L316.5 653.3 L317.8 657.4 M231.0 778.1 L232.2 776.0 L233.4 772.9 L234.5 769.4 L235.7 765.9 L236.9 763.0 L238.0 761.1 L239.2 760.1 L240.4 759.8 L241.6 759.8 L242.7 759.7 L243.9 759.0 L245.1 757.9 L246.2 756.4 L247.4 755.1 L248.6 754.5 L249.7 754.9 M47.8 692.1 L48.6 692.3 L49.4 692.4 L50.2 692.6 L51.0 692.8 L51.8 693.2 L52.6 693.7 L53.4 694.4 L54.2 695.3 L55.1 696.3 L55.9 697.5 L56.7 698.9 L57.5 700.2 L58.3 701.6 L59.1 702.8 L59.9 703.9 L60.7 704.7 M100.5 782.4 L101.0 783.1 L101.5 783.7 L102.0 784.3 L102.5 784.8 L103.0 785.2 L103.5 785.6 L104.0 785.8 L104.5 785.9 L105.1 785.8 L105.6 785.6 L106.1 785.3 L106.6 784.8 L107.1 784.2 L107.6 783.5 L108.1 782.7 L108.6 781.7 M247.3 763.3 L248.9 763.9 L250.4 764.2 L251.9 764.5 L253.4 765.1 L255.0 766.0 L256.5 767.4 L258.0 769.3 L259.5 771.5 L261.1 773.8 L262.6 775.7 L264.1 777.1 L265.6 777.6 L267.2 777.3 L268.7 776.1 L270.2 774.2 L271.7 771.9 M37.8 691.5 L38.6 691.4 L39.3 691.5 L40.1 691.8 L40.9 692.5 L41.7 693.4 L42.4 694.7 L43.2 696.1 L44.0 697.6 L44.7 699.0 L45.5 700.1 L46.3 700.8 L47.1 701.1 L47.8 700.8 L48.6 700.1 L49.4 699.1 L50.1 697.7 M158.8 741.7 L159.2 742.2 L159.7 742.6 L160.1 743.0 L160.5 743.3 L161.0 743.5 L161.4 743.6 L161.8 743.5 L162.2 743.4 L162.7 743.2 L163.1 742.8 L163.5 742.3 L163.9 741.7 L164.4 741.1 L164.8 740.3 L165.2 739.5 L165.7 738.7 M227.4 604.9 L227.9 605.3 L228.3 605.8 L228.8 606.3 L229.2 606.9 L229.7 607.6 L230.1 608.3 L230.5 608.9 L231.0 609.5 L231.4 610.1 L231.9 610.5 L232.3 610.8 L232.8 610.9 L233.2 610.8 L233.6 610.6 L234.1 610.3 L234.5 609.7 M204.7 605.0 L205.3 605.1 L205.9 605.3 L206.5 605.6 L207.1 606.1 L207.7 606.9 L208.3 607.8 L208.9 608.8 L209.5 610.0 L210.1 611.2 L210.7 612.3 L211.2 613.3 L211.8 614.2 L212.4 614.8 L213.0 615.1 L213.6 615.1 L214.2 614.7 M210.4 799.6 L211.2 799.6 L211.9 799.6 L212.7 799.6 L213.5 799.6 L214.3 799.6 L215.1 799.6 L215.9 799.6 L216.7 799.6 L217.5 799.6 L218.3 799.6 L219.1 799.6 L219.9 799.6 L220.7 799.6 L221.5 799.6 L222.2 799.6 L223.0 799.6 M76.9 782.4 L78.0 780.1 L79.0 778.3 L80.0 777.2 L81.1 776.7 L82.1 776.8 L83.1 777.3 L84.1 778.0 L85.2 778.6 L86.2 778.8 L87.2 778.5 L88.3 777.8 L89.3 776.9 L90.3 775.9 L91.4 775.2 L92.4 775.0 L93.4 775.4 M81.8 666.7 L82.9 668.1 L84.0 669.7 L85.1 671.1 L86.2 672.3 L87.3 673.2 L88.4 673.8 L89.5 674.4 L90.6 675.0 L91.7 676.0 L92.8 677.5 L93.9 679.6 L95.0 682.1 L96.1 685.1 L97.2 688.2 L98.3 691.2 L99.4 693.7 M232.4 746.5 L233.4 746.3 L234.3 746.3 L235.3 746.6 L236.3 747.3 L237.3 748.6 L238.3 750.3 L239.3 752.1 L240.3 753.8 L241.3 755.1 L242.3 755.7 L243.3 755.5 L244.2 754.5 L245.2 752.9 L246.2 750.9 L247.2 748.8 L248.2 746.8 M126.3 716.5 L127.2 714.7 L128.1 713.1 L129.0 711.9 L129.9 711.1 L130.8 710.7 L131.7 710.8 L132.6 711.1 L133.5 711.6 L134.4 712.2 L135.3 712.6 L136.2 712.9 L137.1 712.9 L137.9 712.6 L138.8 712.1 L139.7 711.5 L140.6 710.8 M105.7 667.3 L106.9 668.4 L108.0 669.3 L109.2 669.7 L110.4 669.4 L111.6 668.5 L112.8 666.8 L114.0 664.7 L115.2 662.3 L116.4 659.8 L117.6 657.7 L118.8 656.0 L119.9 654.8 L121.1 654.2 L122.3 654.0 L123.5 653.9 L124.7 653.7 M81.7 585.7 L82.2 585.7 L82.8 586.0 L83.3 586.3 L83.9 586.8 L84.4 587.3 L85.0 587.9 L85.5 588.4 L86.1 588.9 L86.6 589.3 L87.2 589.6 L87.7 589.8 L88.2 590.0 L88.8 590.0 L89.3 590.0 L89.9 590.0 L90.4 589.9 M275.5 749.8 L276.6 746.7 L277.8 743.1 L278.9 739.5 L280.1 736.4 L281.2 734.1 L282.4 732.7 L283.5 732.2 L284.7 732.1 L285.8 732.1 L287.0 731.9 L288.1 731.2 L289.2 730.2 L290.4 729.0 L291.5 728.2 L292.7 728.0 L293.8 728.8 M293.8 620.2 L294.3 620.3 L294.7 620.4 L295.2 620.6 L295.7 620.8 L296.2 621.1 L296.7 621.5 L297.2 622.0 L297.6 622.5 L298.1 623.1 L298.6 623.7 L299.1 624.3 L299.6 625.0 L300.1 625.6 L300.6 626.3 L301.0 626.9 L301.5 627.5 M246.2 659.9 L246.7 658.4 L247.2 656.9 L247.7 655.5 L248.2 654.2 L248.7 653.0 L249.2 652.0 L249.7 651.1 L250.2 650.4 L250.7 649.9 L251.2 649.5 L251.7 649.3 L252.2 649.2 L252.7 649.2 L253.1 649.3 L253.6 649.4 L254.1 649.5 M58.2 634.5 L59.6 634.0 L61.1 632.8 L62.5 631.1 L64.0 629.0 L65.4 626.8 L66.8 624.8 L68.3 623.1 L69.7 622.0 L71.2 621.4 L72.6 621.4 L74.1 621.7 L75.5 622.2 L76.9 622.6 L78.4 622.8 L79.8 622.6 L81.3 622.1 M135.7 783.5 L137.0 785.4 L138.4 786.9 L139.7 787.7 L141.0 787.5 L142.3 786.3 L143.7 784.3 L145.0 781.9 L146.3 779.5 L147.7 777.6 L149.0 776.4 L150.3 776.0 L151.6 776.2 L153.0 776.5 L154.3 776.7 L155.6 776.4 L157.0 775.5 M300.9 756.4 L302.2 754.0 L303.4 751.1 L304.6 748.1 L305.8 745.2 L307.1 742.9 L308.3 741.2 L309.5 740.1 L310.8 739.7 L312.0 739.6 L313.2 739.7 L314.4 739.7 L315.7 739.5 L316.9 738.9 L318.1 738.0 L318.2 736.9 L318.2 736.0 M184.3 659.0 L184.7 659.5 L185.2 660.0 L185.6 660.5 L186.1 660.9 L186.5 661.2 L187.0 661.5 L187.4 661.6 L187.9 661.6 L188.3 661.5 L188.8 661.3 L189.2 660.9 L189.7 660.3 L190.1 659.7 L190.5 658.9 L191.0 658.0 L191.4 657.1 M227.3 704.7 L228.3 704.4 L229.3 704.2 L230.4 704.5 L231.4 705.1 L232.4 706.3 L233.4 707.7 L234.5 709.2 L235.5 710.5 L236.5 711.5 L237.6 712.0 L238.6 711.9 L239.6 711.1 L240.7 709.8 L241.7 708.2 L242.7 706.4 L243.8 704.8 M179.1 780.8 L179.9 780.8 L180.7 780.8 L181.6 780.8 L182.4 780.9 L183.2 781.1 L184.0 781.3 L184.8 781.7 L185.6 782.2 L186.5 782.8 L187.3 783.6 L188.1 784.4 L188.9 785.2 L189.7 786.1 L190.5 787.0 L191.4 787.9 L192.2 788.8 M99.8 746.0 L101.3 744.4 L102.8 743.8 L104.3 744.0 L105.8 744.8 L107.3 745.7 L108.8 746.5 L110.3 746.9 L111.8 746.8 L113.3 746.6 L114.8 746.4 L116.3 746.6 L117.8 747.5 L119.3 749.2 L120.8 751.7 L122.3 754.8 L123.9 758.0 M145.9 774.3 L146.6 774.9 L147.4 775.3 L148.1 775.6 L148.9 775.8 L149.7 776.0 L150.4 776.3 L151.2 776.5 L151.9 776.9 L152.7 777.4 L153.4 778.1 L154.2 779.0 L155.0 780.0 L155.7 781.1 L156.5 782.4 L157.2 783.8 L158.0 785.2 M243.1 719.9 L243.7 719.1 L244.4 717.9 L245.0 716.5 L245.6 714.7 L246.3 712.9 L246.9 710.9 L247.5 708.9 L248.2 707.1 L248.8 705.4 L249.4 703.9 L250.0 702.8 L250.7 701.9 L251.3 701.3 L251.9 700.9 L252.6 700.7 L253.2 700.6 M110.6 730.3 L112.0 727.9 L113.4 724.7 L114.8 721.3 L116.2 718.5 L117.6 716.7 L119.0 716.1 L120.4 716.3 L121.8 716.7 L123.2 716.7 L124.6 716.0 L126.0 714.6 L127.4 713.0 L128.8 711.9 L130.2 711.8 L131.6 712.9 L133.0 715.2 M298.7 767.5 L299.6 768.5 L300.5 769.4 L301.5 770.1 L302.4 770.7 L303.3 771.0 L304.2 771.2 L305.1 771.2 L306.1 771.1 L307.0 771.1 L307.9 771.2 L308.8 771.6 L309.8 772.3 L310.7 773.3 L311.6 774.6 L312.5 776.2 L313.5 778.0 M129.9 714.4 L130.7 714.3 L131.5 714.2 L132.3 714.0 L133.2 713.7 L134.0 713.3 L134.8 712.9 L135.6 712.5 L136.4 712.1 L137.2 711.8 L138.0 711.5 L138.8 711.3 L139.6 711.2 L140.4 711.2 L141.2 711.3 L142.0 711.6 L142.8 712.0 M226.5 777.2 L227.7 777.5 L229.0 777.7 L230.3 778.0 L231.6 778.4 L232.9 779.1 L234.2 780.0 L235.5 781.4 L236.7 783.0 L238.0 784.8 L239.3 786.6 L240.6 788.2 L241.9 789.6 L243.2 790.5 L244.5 790.8 L245.7 790.5 L247.0 789.6 M284.7 772.1 L285.4 772.6 L286.1 773.3 L286.8 774.1 L287.5 775.1 L288.3 776.1 L289.0 777.1 L289.7 778.1 L290.4 778.9 L291.1 779.5 L291.8 779.8 L292.6 779.8 L293.3 779.5 L294.0 778.9 L294.7 778.1 L295.4 777.0 L296.1 775.8 M67.9 765.3 L68.9 765.8 L70.0 765.7 L71.1 765.2 L72.1 764.4 L73.2 763.7 L74.3 763.3 L75.3 763.4 L76.4 764.1 L77.5 765.4 L78.5 767.0 L79.6 768.7 L80.7 770.0 L81.7 770.8 L82.8 770.8 L83.9 770.0 L84.9 768.7 M263.6 745.9 L264.3 745.9 L264.9 746.0 L265.6 746.1 L266.3 746.4 L267.0 746.7 L267.7 747.1 L268.3 747.6 L269.0 748.0 L269.7 748.5 L270.4 748.9 L271.1 749.3 L271.7 749.7 L272.4 750.0 L273.1 750.3 L273.8 750.5 L274.4 750.6 M163.1 596.9 L164.6 596.7 L166.1 597.3 L167.6 598.3 L169.1 599.2 L170.6 599.8 L172.1 599.9 L173.6 599.5 L175.1 598.8 L176.6 598.1 L178.1 597.7 L179.6 598.0 L181.1 599.1 L182.6 600.9 L184.1 603.1 L185.6 605.4 L187.1 607.3 M124.2 743.5 L125.0 741.8 L125.7 740.4 L126.4 739.3 L127.2 738.7 L127.9 738.5 L128.7 738.6 L129.4 739.0 L130.1 739.6 L130.9 740.2 L131.6 740.7 L132.3 741.0 L133.1 741.1 L133.8 740.9 L134.5 740.4 L135.3 739.8 L136.0 739.2 M166.7 757.3 L167.6 757.5 L168.4 757.4 L169.2 757.3 L170.1 757.3 L170.9 757.5 L171.7 758.1 L172.5 759.1 L173.4 760.5 L174.2 762.1 L175.0 763.8 L175.9 765.4 L176.7 766.8 L177.5 767.7 L178.4 768.0 L179.2 767.8 L180.0 767.1 M189.6 594.6 L191.0 593.2 L192.5 593.0 L194.0 593.8 L195.4 595.0 L196.9 596.2 L198.4 596.9 L199.8 597.0 L201.3 597.0 L202.7 597.3 L204.2 598.3 L205.7 600.4 L207.1 603.5 L208.6 607.3 L210.0 611.2 L211.5 614.6 L213.0 616.8 M188.8 584.7 L189.8 586.1 L190.8 587.3 L191.9 588.1 L192.9 588.5 L193.9 588.6 L195.0 588.5 L196.0 588.3 L197.0 588.4 L198.1 588.9 L199.1 589.8 L200.1 591.3 L201.2 593.2 L202.2 595.3 L203.2 597.5 L204.3 599.3 L205.3 600.8 M89.4 732.4 L90.9 731.5 L92.3 731.7 L93.8 732.5 L95.2 733.5 L96.7 734.2 L98.1 734.4 L99.6 734.0 L101.0 733.5 L102.5 733.1 L103.9 733.4 L105.4 734.6 L106.8 736.8 L108.3 739.6 L109.7 742.6 L111.2 745.2 L112.6 746.8 M197.7 603.3 L198.8 602.8 L199.9 601.6 L201.0 599.6 L202.1 597.1 L203.2 594.2 L204.3 591.3 L205.4 588.7 L206.5 586.6 L207.6 585.1 L208.7 584.2 L209.8 583.8 L210.8 583.6 L211.9 583.4 L213.0 583.0 L214.1 582.3 L215.2 581.2 M186.9 752.2 L187.9 752.1 L188.9 752.1 L189.9 752.2 L190.9 752.8 L191.9 753.8 L192.9 755.3 L193.9 757.1 L195.0 759.0 L196.0 760.7 L197.0 762.0 L198.0 762.8 L199.0 762.8 L200.0 762.2 L201.0 761.1 L202.0 759.6 L203.1 758.1 M292.8 706.0 L293.7 706.9 L294.7 707.7 L295.6 708.3 L296.5 708.6 L297.4 708.7 L298.4 708.4 L299.3 707.8 L300.2 707.0 L301.1 705.9 L302.1 704.6 L303.0 703.2 L303.9 701.7 L304.8 700.3 L305.8 698.9 L306.7 697.6 L307.6 696.5 M166.3 613.1 L166.9 613.2 L167.4 613.4 L167.9 613.6 L168.5 614.0 L169.0 614.3 L169.5 614.8 L170.1 615.2 L170.6 615.7 L171.1 616.3 L171.7 616.8 L172.2 617.3 L172.7 617.8 L173.3 618.2 L173.8 618.6 L174.3 619.0 L174.9 619.2 M191.2 735.8 L192.4 734.0 L193.7 733.0 L194.9 732.6 L196.1 732.9 L197.3 733.6 L198.5 734.6 L199.7 735.5 L200.9 736.3 L202.2 736.8 L203.4 737.0 L204.6 737.0 L205.8 737.1 L207.0 737.5 L208.2 738.3 L209.4 739.7 L210.7 741.8 M83.5 704.6 L84.7 701.4 L86.0 698.3 L87.2 695.6 L88.5 693.8 L89.7 692.7 L91.0 692.4 L92.2 692.6 L93.5 692.9 L94.7 693.1 L96.0 692.9 L97.2 692.3 L98.4 691.5 L99.7 690.7 L100.9 690.2 L102.2 690.4 L103.4 691.4 M154.9 767.9 L155.3 767.9 L155.8 767.9 L156.2 767.9 L156.6 767.8 L157.1 767.6 L157.5 767.4 L157.9 767.2 L158.4 766.9 L158.8 766.6 L159.3 766.2 L159.7 765.8 L160.1 765.4 L160.6 764.9 L161.0 764.4 L161.4 763.8 L161.9 763.3 M130.9 774.2 L132.5 772.9 L134.0 772.7 L135.5 773.3 L137.1 774.5 L138.6 775.5 L140.1 776.2 L141.7 776.2 L143.2 775.8 L144.8 775.3 L146.3 775.2 L147.8 775.9 L149.4 777.6 L150.9 780.2 L152.4 783.2 L154.0 786.2 L155.5 788.6 M235.0 651.6 L235.9 651.1 L236.8 650.8 L237.8 650.8 L238.7 650.9 L239.6 651.3 L240.5 651.7 L241.4 652.3 L242.4 652.9 L243.3 653.6 L244.2 654.2 L245.1 654.8 L246.0 655.4 L247.0 655.8 L247.9 656.2 L248.8 656.6 L249.7 656.8 M275.4 610.9 L275.9 611.6 L276.4 612.2 L276.9 612.7 L277.4 613.2 L277.9 613.4 L278.4 613.6 L278.9 613.5 L279.4 613.3 L279.9 612.9 L280.4 612.3 L281.0 611.5 L281.5 610.6 L282.0 609.6 L282.5 608.5 L283.0 607.3 L283.5 606.1 M306.5 674.3 L308.0 675.3 L309.5 676.0 L311.0 676.8 L312.5 677.7 L313.9 679.0 L315.4 680.8 L316.9 683.1 L318.2 685.7 L318.2 688.4 L318.2 690.8 L318.2 692.8 L318.2 694.0 L318.2 694.3 L318.2 693.8 L318.2 692.6 L318.2 691.0 M267.7 769.0 L268.2 769.1 L268.7 769.2 L269.2 769.2 L269.6 769.3 L270.1 769.4 L270.6 769.6 L271.1 769.9 L271.6 770.3 L272.0 770.8 L272.5 771.4 L273.0 772.2 L273.5 773.1 L273.9 774.1 L274.4 775.1 L274.9 776.2 L275.4 777.3 M152.3 780.5 L152.9 779.5 L153.5 778.3 L154.2 777.0 L154.8 775.6 L155.4 774.1 L156.0 772.7 L156.6 771.4 L157.2 770.2 L157.8 769.2 L158.4 768.4 L159.1 767.8 L159.7 767.4 L160.3 767.2 L160.9 767.2 L161.5 767.3 L162.1 767.5 M124.6 702.1 L126.2 699.3 L127.7 695.1 L129.3 691.0 L130.9 688.4 L132.4 687.7 L134.0 688.2 L135.6 688.6 L137.2 687.9 L138.7 686.3 L140.3 684.8 L141.9 684.7 L143.4 686.9 L145.0 690.7 L146.6 694.8 L148.1 697.8 L149.7 698.8 M131.9 740.2 L132.8 739.8 L133.7 739.7 L134.5 739.9 L135.4 740.4 L136.3 741.1 L137.1 741.8 L138.0 742.5 L138.9 743.2 L139.8 743.7 L140.6 744.0 L141.5 744.1 L142.4 743.9 L143.2 743.6 L144.1 743.2 L145.0 742.7 L145.9 742.3 M128.4 709.6 L129.4 709.2 L130.3 709.1 L131.3 709.3 L132.2 709.7 L133.1 710.2 L134.1 710.8 L135.0 711.3 L136.0 711.6 L136.9 711.9 L137.9 712.0 L138.8 711.9 L139.8 711.7 L140.7 711.4 L141.6 711.1 L142.6 710.9 L143.5 710.9 M119.3 605.0 L120.6 604.6 L121.9 604.5 L123.1 604.8 L124.4 605.5 L125.7 606.6 L127.0 607.9 L128.3 609.2 L129.6 610.3 L130.9 610.9 L132.2 611.0 L133.5 610.4 L134.8 609.3 L136.1 607.8 L137.4 606.1 L138.7 604.3 L140.0 602.8 M310.4 638.1 L311.0 638.8 L311.5 639.2 L312.0 639.5 L312.6 639.4 L313.1 639.0 L313.7 638.4 L314.2 637.5 L314.8 636.4 L315.3 635.1 L315.9 633.6 L316.4 632.2 L317.0 630.7 L317.5 629.4 L318.0 628.2 L318.2 627.2 L318.2 626.4 M110.6 706.5 L111.2 706.7 L111.7 706.8 L112.2 706.9 L112.7 707.1 L113.3 707.3 L113.8 707.6 L114.3 708.1 L114.8 708.7 L115.4 709.6 L115.9 710.5 L116.4 711.6 L116.9 712.8 L117.5 714.1 L118.0 715.3 L118.5 716.5 L119.0 717.6 M315.4 602.1 L317.0 598.9 L318.2 595.6 L318.2 592.6 L318.2 590.3 L318.2 588.7 L318.2 587.9 L318.2 587.7 L318.2 587.9 L318.2 588.1 L318.2 588.1 L318.2 587.9 L318.2 587.4 L318.2 586.7 L318.2 586.1 L318.2 586.0 L318.2 586.4 M154.1 741.9 L154.7 742.5 L155.3 743.1 L155.9 743.6 L156.6 744.1 L157.2 744.5 L157.8 744.7 L158.4 744.9 L159.1 744.9 L159.7 744.7 L160.3 744.5 L161.0 744.3 L161.6 743.9 L162.2 743.6 L162.8 743.3 L163.5 743.1 L164.1 743.0 M264.9 605.4 L266.4 602.7 L267.9 600.3 L269.4 598.4 L270.9 597.1 L272.5 596.3 L274.0 596.1 L275.5 596.2 L277.0 596.6 L278.5 597.0 L280.1 597.4 L281.6 597.5 L283.1 597.4 L284.6 597.1 L286.1 596.7 L287.6 596.5 L289.2 596.6"/></defs>
<g clip-path="url(#clipe)">
<g filter="url(#parula)">
<rect x="34.4" y="576.8" width="286.8" height="226.5" fill="#000"/>
<g class="ln" filter="url(#b03)" stroke="#0d0d0d" stroke-width="0.8"><use href="#tee"/><use href="#toe"/></g>
<use href="#tee" class="ln" filter="url(#b03)" stroke="#161616" stroke-width="0.7" stroke-dasharray="5 9 8 14 3 11"/>
</g>
<g filter="url(#b03)">
<use href="#re" class="ln2" stroke="#5a8cc4" stroke-opacity="0.7" stroke-width="0.8"/>
<use href="#re" class="ln2" stroke="#35b8c8" stroke-opacity="0.8" stroke-width="0.8" stroke-dasharray="2.2 5.1 1.3 7.7 3.1 4.3"/>
<use href="#re" class="ln2" stroke="#b8b860" stroke-opacity="0.8" stroke-width="0.8" stroke-dasharray="1.4 9.3 2.1 6.2 0.9 12.6" stroke-dashoffset="4"/>
<use href="#re" class="ln2" stroke="#e09a48" stroke-opacity="0.8" stroke-width="0.8" stroke-dasharray="1.1 14.9 1.7 10.3 0.8 19.2" stroke-dashoffset="9"/>
</g>
<path class="ln2" filter="url(#b03)" stroke="#dca24a" stroke-opacity="0.85" stroke-width="0.9" stroke-dasharray="3.5 1.8 4.5" d="M151.0 713.0 L161.1 712.2"/>
</g>
<path class="ax" d="M65.5 800.3 v-2.8 M65.5 579.8 v2.8 M93.6 800.3 v-2.8 M93.6 579.8 v2.8 M121.7 800.3 v-2.8 M121.7 579.8 v2.8 M149.8 800.3 v-2.8 M149.8 579.8 v2.8 M177.9 800.3 v-2.8 M177.9 579.8 v2.8 M206.0 800.3 v-2.8 M206.0 579.8 v2.8 M234.2 800.3 v-2.8 M234.2 579.8 v2.8 M262.3 800.3 v-2.8 M262.3 579.8 v2.8 M290.4 800.3 v-2.8 M290.4 579.8 v2.8 M37.4 778.2 h2.8 M318.2 778.2 h-2.8 M37.4 756.2 h2.8 M318.2 756.2 h-2.8 M37.4 734.1 h2.8 M318.2 734.1 h-2.8 M37.4 712.1 h2.8 M318.2 712.1 h-2.8 M37.4 690.0 h2.8 M318.2 690.0 h-2.8 M37.4 668.0 h2.8 M318.2 668.0 h-2.8 M37.4 645.9 h2.8 M318.2 645.9 h-2.8 M37.4 623.9 h2.8 M318.2 623.9 h-2.8 M37.4 601.8 h2.8 M318.2 601.8 h-2.8"/>
<rect class="ax" x="37.4" y="579.8" width="280.8" height="220.5"/>
<g class="tk" text-anchor="middle">
<text x="37.4" y="813.1">0</text>
<text x="65.5" y="813.1">0.5</text>
<text x="93.6" y="813.1">1</text>
<text x="121.7" y="813.1">1.5</text>
<text x="149.8" y="813.1">2</text>
<text x="177.9" y="813.1">2.5</text>
<text x="206.0" y="813.1">3</text>
<text x="234.2" y="813.1">3.5</text>
<text x="262.3" y="813.1">4</text>
<text x="290.4" y="813.1">4.5</text>
</g>
<g class="tk" text-anchor="end">
<text x="33.7" y="803.7">0</text>
<text x="33.7" y="781.6">10</text>
<text x="33.7" y="759.6">20</text>
<text x="33.7" y="737.5">30</text>
<text x="33.7" y="715.5">40</text>
<text x="33.7" y="693.4">50</text>
<text x="33.7" y="671.4">60</text>
<text x="33.7" y="649.3">70</text>
<text x="33.7" y="627.3">80</text>
<text x="33.7" y="605.2">90</text>
<text x="33.7" y="583.2">100</text>
</g>
<text class="lb" text-anchor="middle" x="177.5" y="826.8">Time / S</text>
<text class="lb" text-anchor="middle" transform="translate(14.4 690.1) rotate(-90)">Frequency / Hz</text>
<text class="tt" text-anchor="middle" x="177.9" y="573.7">The 8th order MSST</text>
<text class="pl" style="font-size:13.8px" x="-1.4" y="575.9">(e)</text>
<defs><path id="rf" d="M409.1 795.7 L410.0 794.6 L410.9 793.5 L411.8 792.5 L412.7 791.5 L413.6 790.6 L414.5 789.7 L415.4 788.8 L416.3 787.9 L417.2 787.1 L418.0 786.2 L418.9 785.4 L419.8 784.7 L420.7 784.0 L421.6 783.4 L422.5 782.8 L423.4 782.3 L424.3 781.7 L425.2 781.0 L426.1 780.4 L427.0 779.7 L427.8 778.9 L428.7 778.2 L429.6 777.4 L430.5 776.7 L431.4 776.0 L432.3 775.4 L433.2 774.8 L434.1 774.2 L435.0 773.6 L435.9 773.0 L436.8 772.4 L437.7 771.8 L438.5 771.1 L439.4 770.5 L440.3 769.9 L441.2 769.3 L442.1 768.7 L443.0 768.2 L443.9 767.6 L444.8 766.9 L445.7 766.3 L446.6 765.6 L447.5 764.9 L448.3 764.3 L449.2 763.6 L450.1 763.0 L451.0 762.5 L451.9 761.9 L452.8 761.4 L453.7 760.9 L454.6 760.3 L455.5 759.8 L456.4 759.1 L457.3 758.5 L458.1 757.8 L459.0 757.1 L459.9 756.5 L460.8 755.8 L461.7 755.2 L462.6 754.5 L463.5 753.9 L464.4 753.2 L465.3 752.5 L466.2 751.8 L467.1 751.1 L467.9 750.4 L468.8 749.8 L469.7 749.2 L470.6 748.6 L471.5 748.0 L472.4 747.5 L473.3 746.9 L474.2 746.2 L475.1 745.6 L476.0 744.9 L476.9 744.1 L477.8 743.4 L478.6 742.8 L479.5 742.1 L480.4 741.5 L481.3 740.9 L482.2 740.4 L483.1 739.8 L484.0 739.2 L484.9 738.6 L485.8 738.0 L486.7 737.4 L487.6 736.8 L488.4 736.2 L489.3 735.7 L490.2 735.2 L491.1 734.6 L492.0 734.0 L492.9 733.4 L493.8 732.7 L494.7 732.0 L495.6 731.3 L496.5 730.6 L497.4 729.9 L498.2 729.3 L499.1 728.7 L500.0 728.1 L500.9 727.5 L501.8 726.9 L502.7 726.3 L503.6 725.7 L504.5 725.0 L505.4 724.3 L506.3 723.7 L507.2 723.0 L511.1 718.0 L513.9 714.2 L515.6 712.9 M529.1 712.5 L530.8 711.1 L533.6 706.1 L537.6 701.8 L538.9 700.9 L540.3 700.1 L541.6 699.1 L542.9 698.0 L544.3 696.9 L545.6 695.8 L547.0 694.8 L548.3 693.8 L549.6 692.9 L551.0 691.9 L552.3 691.0 L553.7 690.0 L555.0 689.1 L556.3 688.2 L557.7 687.4 L559.0 686.5 L560.3 685.5 L561.7 684.5 L563.0 683.5 L564.4 682.5 L565.7 681.6 L567.0 680.8 L568.4 680.0 L569.7 679.2 L571.1 678.3 L572.4 677.3 L573.7 676.4 L575.1 675.4 L576.4 674.5 L577.8 673.6 L579.1 672.5 L580.4 671.5 L581.8 670.4 L583.1 669.3 L584.5 668.4 L585.8 667.5 L587.1 666.7 L588.5 665.8 L589.8 664.8 L591.2 663.8 L592.5 662.7 L593.8 661.7 L595.2 660.8 L596.5 659.9 L597.8 658.9 L599.2 658.0 L600.5 657.0 L601.9 656.1 L603.2 655.3 L604.5 654.5 L605.9 653.7 L607.2 652.9 L608.6 651.9 L609.9 650.9 L611.2 649.9 L612.6 648.8 L613.9 647.9 L615.3 647.0 L616.6 646.1 L617.9 645.1 L619.3 644.1 L620.6 643.2 L622.0 642.2 L623.3 641.3 L624.6 640.4 L626.0 639.4 L627.3 638.4 L628.7 637.3 L630.0 636.2 L631.3 635.1 L632.7 634.2 L634.0 633.4 L635.3 632.5 L636.7 631.7 L638.0 630.8 L639.4 629.9 L640.7 628.9 L642.0 628.0 L643.4 627.2 L644.7 626.3 L646.1 625.3 L647.4 624.3 L648.7 623.3 L650.1 622.4 L651.4 621.5 L652.8 620.7 L654.1 619.8 L655.4 619.0 L656.8 618.0 L658.1 616.9 L659.5 615.8 L660.8 614.8 L662.1 613.8 L663.5 612.8 L664.8 611.8 L666.2 610.8 L667.5 609.8 L668.8 608.8 L670.2 607.9 L671.5 607.1 L672.8 606.3 L674.2 605.5 L675.5 604.7 L676.9 603.8 L678.2 602.9 L679.5 602.2 L680.9 601.5 L682.2 601.0 L683.6 600.5 L684.9 600.1 M405.2 646.2 L406.1 646.3 L407.0 646.3 L408.0 646.4 L408.9 646.5 L409.8 646.6 L410.8 646.7 L411.7 646.9 L412.6 647.0 L413.5 647.1 L414.5 647.2 L415.4 647.3 L416.3 647.4 L417.2 647.5 L418.2 647.6 L419.1 647.8 L420.0 648.0 L420.9 648.3 L421.9 648.6 L422.8 648.9 L423.7 649.2 L424.7 649.4 L425.6 649.6 L426.5 649.8 L427.4 650.0 L428.4 650.2 L429.3 650.5 L430.2 650.8 L431.1 651.1 L432.1 651.4 L433.0 651.8 L433.9 652.1 L434.9 652.5 L435.8 652.8 L436.7 653.2 L437.6 653.7 L438.6 654.1 L439.5 654.7 L440.4 655.2 L441.3 655.8 L442.3 656.3 L443.2 656.8 L444.1 657.2 L445.1 657.7 L446.0 658.1 L446.9 658.6 L447.8 659.0 L448.8 659.6 L449.7 660.2 L450.6 660.8 L451.5 661.4 L452.5 661.9 L453.4 662.5 L454.3 663.1 L455.2 663.6 L456.2 664.2 L457.1 664.8 L458.0 665.4 L459.0 666.1 L459.9 666.7 L460.8 667.3 L461.7 667.9 L462.7 668.4 L463.6 668.9 L464.5 669.4 L465.4 670.0 L466.4 670.5 L467.3 671.2 L468.2 671.8 L469.2 672.6 L470.1 673.3 L471.0 674.0 L471.9 674.7 L472.9 675.4 L473.8 676.1 L474.7 676.7 L475.6 677.4 L476.6 678.1 L477.5 678.8 L478.4 679.6 L479.3 680.3 L480.3 681.0 L481.2 681.8 L482.1 682.4 L483.1 683.1 L484.0 683.8 L484.9 684.5 L485.8 685.3 L486.8 686.1 L487.7 686.9 L488.6 687.8 L489.5 688.6 L490.5 689.4 L491.4 690.1 L492.3 690.8 L493.3 691.5 L494.2 692.2 L495.1 692.8 L496.0 693.5 L497.0 694.2 L497.9 694.9 L498.8 695.6 L499.7 696.3 L500.7 697.0 L501.6 697.6 L502.5 698.3 L503.5 699.0 L504.4 699.7 L505.3 700.4 L506.2 701.1 L507.2 701.9 L511.1 707.8 L513.9 711.6 L515.6 712.9 M529.1 712.5 L530.8 714.0 L533.6 718.4 L537.6 722.3 L538.9 723.0 L540.3 723.7 L541.6 724.3 L542.9 724.8 L544.3 725.4 L545.6 726.0 L547.0 726.6 L548.3 727.1 L549.6 727.5 L551.0 728.0 L552.3 728.5 L553.7 729.1 L555.0 729.7 L556.3 730.3 L557.7 730.8 L559.0 731.2 L560.3 731.5 L561.7 731.8 L563.0 732.2 L564.4 732.5 L565.7 732.9 L567.0 733.2 L568.4 733.4 L569.7 733.6 L571.1 733.8 L572.4 734.0 L573.7 734.2 L575.1 734.4 L576.4 734.5 L577.8 734.5 L579.1 734.3 L580.4 734.2 L581.8 734.0 L583.1 734.0 L584.5 734.0 L585.8 733.9 L587.1 733.8 L588.5 733.7 L589.8 733.5 L591.2 733.3 L592.5 733.2 L593.8 733.0 L595.2 732.8 L596.5 732.4 L597.8 732.1 L599.2 731.7 L600.5 731.3 L601.9 731.0 L603.2 730.8 L604.5 730.6 L605.9 730.2 L607.2 729.8 L608.6 729.2 L609.9 728.7 L611.2 728.1 L612.6 727.5 L613.9 726.9 L615.3 726.3 L616.6 725.5 L617.9 724.8 L619.3 724.1 L620.6 723.4 L622.0 722.8 L623.3 722.2 L624.6 721.5 L626.0 720.7 L627.3 719.8 L628.7 718.9 L630.0 718.0 L631.3 717.2 L632.7 716.4 L634.0 715.6 L635.3 714.8 L636.7 714.0 L638.0 713.1 L639.4 712.3 L640.7 711.6 L642.0 710.8 L643.4 709.9 L644.7 708.9 L646.1 707.8 L647.4 706.7 L648.7 705.7 L650.1 704.8 L651.4 703.8 L652.8 702.9 L654.1 701.9 L655.4 700.9 L656.8 699.8 L658.1 698.7 L659.5 697.7 L660.8 696.6 L662.1 695.5 L663.5 694.4 L664.8 693.2 L666.2 692.0 L667.5 690.9 L668.8 689.9 L670.2 689.0 L671.5 688.1 L672.8 687.2 L674.2 686.3 L675.5 685.4 L676.9 684.5 L678.2 683.8 L679.5 683.1 L680.9 682.5 L682.2 682.0 L683.6 681.4 L684.9 680.9 M515.6 712.9 L519.6 713.2 L525.2 712.4 L529.1 712.5"/><path id="tef" d="M403.5 733.7 L403.5 734.2 L403.5 734.8 L403.5 735.5 L404.0 736.4 L404.8 737.4 L405.6 738.4 L406.5 739.5 L407.3 740.5 L408.1 741.4 L408.9 742.1 L409.7 742.8 L410.5 743.2 L411.3 743.3 L412.1 743.3 L413.0 743.1 L413.8 742.6 M462.3 719.8 L463.0 719.9 L463.7 720.2 L464.4 720.7 L465.1 721.4 L465.9 722.0 L466.6 722.7 L467.3 723.3 L468.0 723.8 L468.8 724.2 L469.5 724.5 L470.2 724.6 L470.9 724.7 L471.7 724.7 L472.4 724.7 L473.1 724.7 L473.8 724.9 M485.2 699.0 L485.7 699.2 L486.2 699.5 L486.7 699.8 L487.2 700.2 L487.7 700.8 L488.2 701.5 L488.7 702.3 L489.2 703.2 L489.7 704.2 L490.2 705.3 L490.7 706.4 L491.2 707.5 L491.7 708.5 L492.2 709.4 L492.7 710.2 L493.2 710.7 M464.5 715.7 L465.4 716.6 L466.2 717.7 L467.1 718.7 L467.9 719.6 L468.8 720.4 L469.6 720.9 L470.5 721.0 L471.3 720.7 L472.2 720.1 L473.0 719.0 L473.9 717.7 L474.8 716.2 L475.6 714.5 L476.5 712.8 L477.3 711.3 L478.2 709.9 M403.5 664.9 L403.5 666.4 L403.5 668.2 L405.0 669.5 L406.4 669.5 L407.9 668.0 L409.4 665.4 L410.9 662.3 L412.4 659.7 L413.9 658.3 L415.4 657.9 L416.9 658.2 L418.4 658.4 L419.9 657.7 L421.4 656.0 L422.8 653.7 L424.3 651.4 M509.3 798.2 L510.3 799.1 L511.3 799.7 L512.2 799.7 L513.2 799.7 L514.1 799.7 L515.1 799.7 L516.1 799.7 L517.0 799.7 L518.0 799.7 L519.0 799.7 L519.9 799.7 L520.9 799.2 L521.8 797.9 L522.8 796.6 L523.8 795.2 L524.7 793.9 M528.7 772.2 L529.6 773.0 L530.5 773.7 L531.4 774.2 L532.2 774.5 L533.1 774.5 L534.0 774.1 L534.9 773.3 L535.8 772.2 L536.7 770.9 L537.6 769.4 L538.4 767.8 L539.3 766.3 L540.2 764.9 L541.1 763.8 L542.0 762.9 L542.9 762.3 M562.2 593.2 L563.6 594.5 L565.0 596.0 L566.4 597.5 L567.8 598.7 L569.2 599.3 L570.6 599.3 L572.0 598.5 L573.4 596.9 L574.8 594.7 L576.3 592.2 L577.7 589.6 L579.1 587.3 L580.5 585.3 L581.9 583.9 L583.3 582.9 L584.7 582.3 M629.3 648.9 L629.8 649.3 L630.3 649.6 L630.8 649.9 L631.2 650.0 L631.7 650.1 L632.2 650.1 L632.7 650.0 L633.2 649.7 L633.7 649.4 L634.1 649.0 L634.6 648.5 L635.1 647.9 L635.6 647.3 L636.1 646.6 L636.6 645.8 L637.0 645.1 M413.8 602.0 L414.2 602.1 L414.7 602.2 L415.1 602.2 L415.6 602.3 L416.0 602.3 L416.5 602.4 L416.9 602.5 L417.4 602.7 L417.8 602.9 L418.3 603.2 L418.7 603.6 L419.2 604.1 L419.6 604.6 L420.1 605.2 L420.5 605.9 L421.0 606.6 M544.5 743.9 L545.6 742.9 L546.6 742.9 L547.7 743.6 L548.8 744.6 L549.9 745.5 L551.0 745.9 L552.1 745.8 L553.2 745.3 L554.3 744.5 L555.4 744.1 L556.5 744.2 L557.6 745.2 L558.7 747.1 L559.8 749.5 L560.9 752.1 L562.0 754.4 M615.4 772.3 L616.9 772.1 L618.5 771.8 L620.0 771.6 L621.5 771.6 L623.0 771.9 L624.6 772.8 L626.1 774.0 L627.6 775.6 L629.1 777.3 L630.7 778.9 L632.2 780.1 L633.7 780.8 L635.2 780.9 L636.8 780.4 L638.3 779.3 L639.8 777.9 M430.9 611.2 L431.8 611.0 L432.7 610.7 L433.6 610.4 L434.5 610.2 L435.4 610.1 L436.3 610.1 L437.2 610.5 L438.1 611.1 L439.0 611.9 L439.9 612.9 L440.8 614.0 L441.7 615.2 L442.6 616.3 L443.5 617.3 L444.4 618.1 L445.3 618.5 M516.2 640.0 L517.3 639.9 L518.4 639.5 L519.4 639.1 L520.5 638.9 L521.6 639.1 L522.6 639.8 L523.7 641.1 L524.7 642.7 L525.8 644.5 L526.9 646.2 L527.9 647.5 L529.0 648.2 L530.1 648.3 L531.1 647.7 L532.2 646.6 L533.3 645.2 M408.3 593.5 L408.7 593.5 L409.1 593.5 L409.5 593.6 L410.0 593.7 L410.4 593.9 L410.8 594.1 L411.2 594.4 L411.6 594.7 L412.1 594.9 L412.5 595.3 L412.9 595.6 L413.3 595.8 L413.8 596.1 L414.2 596.4 L414.6 596.6 L415.0 596.8 M566.2 733.4 L566.8 733.4 L567.4 733.6 L568.0 734.0 L568.6 734.5 L569.2 735.1 L569.8 736.0 L570.4 736.9 L571.0 738.0 L571.6 739.1 L572.2 740.1 L572.8 741.1 L573.4 741.9 L574.0 742.5 L574.5 742.8 L575.1 742.9 L575.7 742.7 M605.9 783.0 L607.3 778.8 L608.7 775.3 L610.0 773.2 L611.4 772.6 L612.8 772.9 L614.1 773.6 L615.5 774.0 L616.9 773.8 L618.2 773.2 L619.6 772.8 L621.0 773.3 L622.3 775.3 L623.7 778.7 L625.1 782.9 L626.4 787.2 L627.8 790.7 M622.8 745.1 L623.2 745.7 L623.6 746.3 L624.1 746.9 L624.5 747.6 L625.0 748.2 L625.4 748.8 L625.8 749.4 L626.3 749.9 L626.7 750.2 L627.2 750.5 L627.6 750.6 L628.0 750.6 L628.5 750.4 L628.9 750.0 L629.3 749.5 L629.8 748.8 M636.9 626.4 L637.7 627.0 L638.5 627.6 L639.3 628.3 L640.1 629.0 L640.9 629.6 L641.7 630.0 L642.5 630.3 L643.3 630.5 L644.0 630.4 L644.8 630.2 L645.6 630.0 L646.4 629.6 L647.2 629.3 L648.0 629.0 L648.8 628.8 L649.6 628.8 M610.2 746.7 L610.8 747.6 L611.3 748.6 L611.9 749.5 L612.4 750.2 L613.0 750.8 L613.5 751.1 L614.1 751.3 L614.6 751.1 L615.1 750.7 L615.7 750.1 L616.2 749.2 L616.8 748.2 L617.3 747.0 L617.9 745.8 L618.4 744.6 L619.0 743.4 M461.8 747.5 L462.7 748.8 L463.5 750.1 L464.4 751.3 L465.3 752.2 L466.1 753.0 L467.0 753.5 L467.9 754.0 L468.8 754.4 L469.6 755.0 L470.5 755.8 L471.4 756.9 L472.3 758.4 L473.1 760.2 L474.0 762.4 L474.9 764.8 L475.7 767.3 M520.7 644.0 L521.5 642.2 L522.3 640.7 L523.1 639.4 L523.9 638.4 L524.7 637.8 L525.5 637.5 L526.3 637.5 L527.1 637.7 L527.9 638.0 L528.7 638.5 L529.5 638.9 L530.3 639.3 L531.1 639.6 L531.9 639.8 L532.7 639.8 L533.5 639.8 M466.6 745.3 L467.2 743.8 L467.9 742.5 L468.5 741.3 L469.1 740.4 L469.7 739.7 L470.4 739.4 L471.0 739.4 L471.6 739.7 L472.2 740.1 L472.9 740.7 L473.5 741.3 L474.1 741.9 L474.7 742.3 L475.4 742.5 L476.0 742.5 L476.6 742.4 M403.5 585.5 L403.5 584.7 L403.6 584.9 L405.0 585.8 L406.5 586.7 L407.9 587.2 L409.3 587.1 L410.8 586.7 L412.2 586.5 L413.7 587.0 L415.1 588.6 L416.5 591.3 L418.0 594.6 L419.4 598.1 L420.9 600.8 L422.3 602.3 L423.7 602.5 M574.4 599.7 L575.3 599.8 L576.2 599.5 L577.1 598.6 L578.0 597.3 L578.9 595.7 L579.7 593.9 L580.6 592.1 L581.5 590.5 L582.4 589.3 L583.3 588.4 L584.2 588.1 L585.1 588.1 L585.9 588.4 L586.8 588.8 L587.7 589.1 L588.6 589.3 M468.5 680.1 L469.3 680.9 L470.1 681.7 L470.8 682.4 L471.6 683.1 L472.4 683.7 L473.1 684.2 L473.9 684.6 L474.7 685.0 L475.4 685.3 L476.2 685.5 L477.0 685.8 L477.8 686.1 L478.5 686.4 L479.3 686.8 L480.1 687.3 L480.8 688.0 M485.7 593.4 L487.1 589.5 L488.4 585.1 L489.8 581.3 L491.1 580.7 L492.5 580.7 L493.9 580.7 L495.2 580.7 L496.6 580.7 L498.0 580.7 L499.3 580.7 L500.7 580.7 L502.0 580.7 L503.4 580.7 L504.8 580.7 L506.1 583.0 L507.5 587.2 M530.3 737.3 L530.9 738.4 L531.5 739.3 L532.1 740.0 L532.7 740.6 L533.3 741.1 L533.9 741.3 L534.5 741.5 L535.0 741.7 L535.6 741.9 L536.2 742.1 L536.8 742.5 L537.4 743.1 L538.0 744.0 L538.6 745.0 L539.2 746.3 L539.7 747.8 M562.8 799.7 L564.0 799.7 L565.2 799.5 L566.3 797.6 L567.5 795.5 L568.7 793.4 L569.9 791.5 L571.1 789.9 L572.3 788.9 L573.5 788.4 L574.7 788.4 L575.9 788.6 L577.1 789.0 L578.3 789.2 L579.5 789.2 L580.6 788.7 L581.8 787.9 M648.8 689.0 L649.7 688.4 L650.6 687.5 L651.5 686.4 L652.4 684.9 L653.3 683.4 L654.2 681.7 L655.1 680.1 L656.0 678.6 L656.9 677.4 L657.8 676.4 L658.7 675.7 L659.6 675.3 L660.5 675.1 L661.4 675.2 L662.3 675.4 L663.2 675.6 M571.3 691.4 L571.8 691.2 L572.4 690.8 L572.9 690.2 L573.5 689.6 L574.0 688.9 L574.6 688.1 L575.1 687.2 L575.6 686.2 L576.2 685.2 L576.7 684.2 L577.3 683.2 L577.8 682.3 L578.3 681.3 L578.9 680.4 L579.4 679.6 L580.0 678.9 M495.4 621.7 L496.8 619.2 L498.3 616.5 L499.7 613.9 L501.2 611.7 L502.6 610.1 L504.1 609.2 L505.5 609.0 L507.0 609.3 L508.4 609.8 L509.9 610.2 L511.3 610.3 L512.8 610.1 L514.2 609.5 L515.7 608.7 L517.1 608.0 L518.6 607.8 M546.3 703.6 L546.9 703.8 L547.4 704.1 L547.9 704.4 L548.4 704.8 L549.0 705.2 L549.5 705.7 L550.0 706.2 L550.5 706.7 L551.1 707.2 L551.6 707.7 L552.1 708.2 L552.6 708.7 L553.2 709.1 L553.7 709.4 L554.2 709.7 L554.7 709.9 M616.7 721.6 L617.8 722.5 L618.9 722.9 L620.1 723.0 L621.2 722.7 L622.3 722.4 L623.5 722.1 L624.6 722.2 L625.7 722.8 L626.9 723.9 L628.0 725.5 L629.1 727.3 L630.3 729.2 L631.4 730.9 L632.5 732.2 L633.7 732.8 L634.8 732.7 M584.7 656.6 L585.3 657.1 L585.9 657.5 L586.4 657.8 L587.0 658.0 L587.6 658.1 L588.2 658.1 L588.8 658.2 L589.4 658.2 L589.9 658.3 L590.5 658.4 L591.1 658.7 L591.7 659.1 L592.3 659.7 L592.9 660.4 L593.5 661.2 L594.0 662.2 M483.5 630.5 L484.9 631.2 L486.2 631.6 L487.5 631.8 L488.9 631.7 L490.2 631.5 L491.5 631.3 L492.9 631.1 L494.2 631.1 L495.5 631.3 L496.8 631.9 L498.2 632.8 L499.5 634.0 L500.8 635.4 L502.2 636.9 L503.5 638.4 L504.8 639.8 M484.1 657.2 L485.4 655.6 L486.8 654.7 L488.1 654.3 L489.4 654.6 L490.8 655.1 L492.1 655.8 L493.4 656.4 L494.7 656.8 L496.1 656.8 L497.4 656.5 L498.7 655.9 L500.1 655.2 L501.4 654.7 L502.7 654.6 L504.0 655.0 L505.4 655.9 M505.4 755.2 L506.7 755.6 L508.1 756.1 L509.4 756.8 L510.8 757.8 L512.2 759.1 L513.5 760.7 L514.9 762.5 L516.3 764.4 L517.6 766.2 L519.0 767.7 L520.3 768.9 L521.7 769.6 L523.1 769.6 L524.4 769.2 L525.8 768.2 L527.2 766.9 M608.0 666.2 L609.0 667.4 L610.0 668.4 L611.0 669.1 L612.0 669.3 L613.0 669.2 L614.0 668.8 L615.0 668.4 L616.0 668.0 L617.0 668.0 L618.0 668.4 L619.0 669.2 L620.0 670.5 L621.0 672.1 L622.1 673.9 L623.1 675.6 L624.1 677.1 M642.8 768.5 L643.5 767.4 L644.2 766.4 L645.0 765.5 L645.7 764.8 L646.4 764.2 L647.1 763.9 L647.9 763.6 L648.6 763.6 L649.3 763.7 L650.1 763.9 L650.8 764.1 L651.5 764.5 L652.2 764.9 L653.0 765.3 L653.7 765.7 L654.4 766.0 M502.5 606.6 L503.5 607.3 L504.5 608.5 L505.6 609.9 L506.6 611.2 L507.6 612.1 L508.6 612.5 L509.7 612.5 L510.7 612.2 L511.7 611.8 L512.7 611.5 L513.8 611.7 L514.8 612.5 L515.8 613.9 L516.8 615.8 L517.8 618.0 L518.9 620.3 M555.8 665.4 L556.5 665.9 L557.2 666.3 L557.8 666.6 L558.5 666.7 L559.2 666.7 L559.9 666.5 L560.5 666.2 L561.2 665.7 L561.9 665.1 L562.6 664.4 L563.2 663.6 L563.9 662.7 L564.6 661.7 L565.3 660.7 L565.9 659.8 L566.6 658.8 M548.9 599.6 L549.5 600.3 L550.2 600.8 L550.8 601.2 L551.5 601.4 L552.1 601.3 L552.8 600.9 L553.4 600.2 L554.1 599.2 L554.7 598.0 L555.4 596.5 L556.1 595.0 L556.7 593.3 L557.4 591.6 L558.0 590.0 L558.7 588.5 L559.3 587.1 M600.0 760.9 L601.0 761.2 L602.1 762.0 L603.1 763.4 L604.1 765.0 L605.2 766.8 L606.2 768.2 L607.3 768.9 L608.3 768.8 L609.3 767.9 L610.4 766.2 L611.4 764.1 L612.5 761.9 L613.5 760.1 L614.5 758.7 L615.6 758.0 L616.6 757.8 M423.3 646.9 L424.2 647.7 L425.0 648.0 L425.9 647.7 L426.7 646.7 L427.6 645.0 L428.5 642.8 L429.3 640.2 L430.2 637.5 L431.0 635.0 L431.9 632.9 L432.7 631.2 L433.6 630.1 L434.4 629.4 L435.3 629.0 L436.1 628.8 L437.0 628.4 M590.5 617.7 L590.9 617.0 L591.3 616.5 L591.8 616.0 L592.2 615.6 L592.6 615.3 L593.0 615.2 L593.5 615.0 L593.9 615.0 L594.3 615.1 L594.7 615.2 L595.2 615.3 L595.6 615.5 L596.0 615.7 L596.4 615.9 L596.9 616.2 L597.3 616.4 M479.3 620.8 L480.0 619.4 L480.7 617.9 L481.3 616.5 L482.0 615.3 L482.7 614.1 L483.4 613.2 L484.0 612.5 L484.7 612.0 L485.4 611.8 L486.0 611.7 L486.7 611.8 L487.4 612.1 L488.1 612.4 L488.7 612.8 L489.4 613.2 L490.1 613.6 M410.8 689.3 L412.2 686.5 L413.7 685.1 L415.2 685.3 L416.7 686.6 L418.2 688.2 L419.7 689.0 L421.2 688.7 L422.7 687.8 L424.1 687.2 L425.6 687.8 L427.1 690.0 L428.6 693.4 L430.1 697.0 L431.6 699.8 L433.1 701.1 L434.6 700.9 M460.3 681.6 L461.6 682.9 L462.9 684.2 L464.2 685.3 L465.6 685.7 L466.9 685.3 L468.2 684.0 L469.6 682.0 L470.9 679.5 L472.2 676.8 L473.5 674.4 L474.9 672.5 L476.2 671.3 L477.5 670.6 L478.8 670.4 L480.2 670.2 L481.5 669.9 M615.3 682.0 L616.3 682.7 L617.2 683.5 L618.1 684.6 L619.0 685.8 L619.9 687.1 L620.8 688.3 L621.7 689.5 L622.6 690.5 L623.6 691.3 L624.5 691.7 L625.4 691.7 L626.3 691.3 L627.2 690.6 L628.1 689.5 L629.0 688.2 L629.9 686.7 M418.7 609.2 L419.7 609.8 L420.7 610.5 L421.6 611.4 L422.6 612.4 L423.6 613.4 L424.6 614.5 L425.6 615.4 L426.5 616.1 L427.5 616.6 L428.5 616.8 L429.5 616.6 L430.5 616.0 L431.5 615.1 L432.4 613.8 L433.4 612.4 L434.4 610.8 M403.5 676.7 L403.5 677.9 L403.5 678.5 L403.5 678.6 L403.8 678.3 L405.0 677.8 L406.1 677.3 L407.3 677.3 L408.5 677.8 L409.7 679.0 L410.9 680.8 L412.0 682.8 L413.2 684.7 L414.4 686.3 L415.6 687.2 L416.7 687.2 L417.9 686.5 M628.8 739.8 L630.1 739.4 L631.5 738.2 L632.8 736.1 L634.2 733.3 L635.5 730.4 L636.9 727.7 L638.3 725.5 L639.6 724.0 L641.0 723.3 L642.3 723.2 L643.7 723.3 L645.0 723.4 L646.4 723.2 L647.8 722.6 L649.1 721.7 L650.5 720.6 M561.0 671.9 L562.0 670.3 L563.0 667.8 L564.0 664.8 L565.0 661.5 L566.0 658.4 L567.0 655.9 L568.0 654.1 L569.0 653.1 L570.0 652.7 L571.0 652.7 L571.9 652.7 L572.9 652.5 L573.9 652.0 L574.9 651.1 L575.9 650.2 L576.9 649.5 M573.5 681.5 L574.1 680.6 L574.6 679.7 L575.1 678.9 L575.6 678.3 L576.1 677.8 L576.7 677.4 L577.2 677.2 L577.7 677.1 L578.2 677.1 L578.7 677.1 L579.3 677.3 L579.8 677.5 L580.3 677.8 L580.8 678.0 L581.3 678.3 L581.9 678.5 M458.3 671.8 L459.3 672.6 L460.2 673.5 L461.2 674.4 L462.1 675.3 L463.1 676.1 L464.0 676.9 L465.0 677.5 L465.9 677.9 L466.9 678.1 L467.8 678.1 L468.8 677.8 L469.7 677.2 L470.6 676.5 L471.6 675.5 L472.5 674.3 L473.5 673.0 M412.8 717.4 L414.0 717.1 L415.3 716.8 L416.6 716.6 L417.8 717.1 L419.1 718.3 L420.4 720.1 L421.6 722.3 L422.9 724.3 L424.1 725.7 L425.4 726.3 L426.7 725.8 L427.9 724.6 L429.2 722.8 L430.5 721.0 L431.7 719.5 L433.0 718.7 M617.5 776.9 L618.0 777.0 L618.4 777.1 L618.9 777.1 L619.3 777.2 L619.8 777.2 L620.2 777.2 L620.7 777.1 L621.1 777.1 L621.6 777.0 L622.1 777.0 L622.5 776.9 L623.0 776.8 L623.4 776.8 L623.9 776.7 L624.3 776.7 L624.8 776.7 M632.0 752.5 L632.9 750.9 L633.9 749.0 L634.9 747.2 L635.8 745.5 L636.8 744.1 L637.8 743.3 L638.7 743.0 L639.7 743.1 L640.6 743.6 L641.6 744.3 L642.6 745.0 L643.5 745.6 L644.5 745.9 L645.4 745.8 L646.4 745.5 L647.4 745.0 M407.2 709.7 L408.8 710.7 L410.4 712.2 L412.0 714.2 L413.5 716.4 L415.1 718.6 L416.7 720.3 L418.3 721.3 L419.9 721.2 L421.5 720.2 L423.0 718.3 L424.6 716.0 L426.2 713.6 L427.8 711.5 L429.4 710.0 L431.0 709.0 L432.5 708.5 M568.8 668.8 L569.8 669.4 L570.8 670.1 L571.8 671.2 L572.8 672.8 L573.9 674.9 L574.9 677.2 L575.9 679.5 L576.9 681.5 L577.9 682.8 L578.9 683.4 L579.9 683.2 L580.9 682.1 L581.9 680.5 L582.9 678.6 L583.9 676.8 L584.9 675.2 M420.3 601.8 L420.9 602.3 L421.6 602.8 L422.3 603.1 L422.9 603.2 L423.6 603.1 L424.3 602.8 L425.0 602.3 L425.6 601.5 L426.3 600.6 L427.0 599.6 L427.6 598.4 L428.3 597.1 L429.0 595.7 L429.6 594.4 L430.3 593.1 L431.0 591.8 M613.1 692.7 L613.9 692.4 L614.6 692.1 L615.4 691.9 L616.1 691.8 L616.8 691.8 L617.6 692.0 L618.3 692.3 L619.1 692.9 L619.8 693.5 L620.6 694.3 L621.3 695.2 L622.0 696.2 L622.8 697.1 L623.5 698.0 L624.3 698.8 L625.0 699.5 M538.7 782.5 L539.7 781.9 L540.6 781.6 L541.5 781.5 L542.5 781.7 L543.4 782.0 L544.3 782.4 L545.2 783.0 L546.2 783.5 L547.1 784.0 L548.0 784.4 L548.9 784.6 L549.9 784.7 L550.8 784.7 L551.7 784.5 L552.7 784.2 L553.6 783.9 M431.8 685.0 L433.3 683.1 L434.7 682.0 L436.2 681.8 L437.6 682.3 L439.1 683.2 L440.5 684.2 L442.0 685.0 L443.4 685.3 L444.9 685.2 L446.3 684.9 L447.8 684.6 L449.2 684.9 L450.7 685.8 L452.1 687.5 L453.6 690.0 L455.0 693.0 M534.5 790.9 L535.7 791.2 L536.8 791.6 L537.9 792.2 L539.0 793.1 L540.2 794.1 L541.3 795.3 L542.4 796.6 L543.5 797.9 L544.7 799.1 L545.8 799.7 L546.9 799.7 L548.1 799.7 L549.2 799.7 L550.3 799.7 L551.4 799.7 L552.6 799.7 M584.5 667.4 L585.8 666.8 L587.1 666.4 L588.3 666.7 L589.6 668.1 L590.9 670.1 L592.2 672.3 L593.5 673.9 L594.8 674.3 L596.0 673.3 L597.3 671.2 L598.6 668.5 L599.9 666.1 L601.2 664.5 L602.5 663.8 L603.7 663.7 L605.0 663.6 M670.0 617.2 L671.4 618.8 L672.7 620.5 L674.0 621.7 L675.3 622.2 L676.6 622.3 L677.9 622.7 L679.2 623.8 L680.6 626.0 L681.9 629.3 L683.2 633.0 L684.5 636.4 L684.9 638.7 L684.9 639.4 L684.9 638.7 L684.9 637.1 L684.9 635.3 M683.2 615.2 L684.1 613.9 L684.9 613.1 L684.9 612.9 L684.9 613.0 L684.9 613.5 L684.9 614.2 L684.9 614.9 L684.9 615.6 L684.9 616.1 L684.9 616.4 L684.9 616.5 L684.9 616.6 L684.9 616.6 L684.9 616.7 L684.9 617.1 L684.9 617.9 M637.5 603.8 L638.6 604.9 L639.8 606.4 L640.9 608.0 L642.0 609.7 L643.1 611.3 L644.2 612.5 L645.3 613.4 L646.4 613.7 L647.6 613.4 L648.7 612.5 L649.8 611.2 L650.9 609.7 L652.0 607.9 L653.1 606.3 L654.2 604.9 L655.4 603.8 M473.1 587.6 L474.6 585.2 L476.1 583.2 L477.6 581.8 L479.1 581.0 L480.6 580.9 L482.1 581.2 L483.6 581.7 L485.1 582.3 L486.6 582.7 L488.0 582.8 L489.5 582.6 L491.0 582.2 L492.5 581.8 L494.0 581.5 L495.5 581.5 L497.0 582.1 M596.8 784.4 L598.4 785.4 L599.9 786.2 L601.5 786.7 L603.0 786.9 L604.6 786.8 L606.1 786.6 L607.7 786.4 L609.2 786.5 L610.8 786.9 L612.3 787.8 L613.8 789.1 L615.4 790.9 L616.9 792.9 L618.5 794.9 L620.0 796.6 L621.6 798.0 M611.6 629.8 L612.5 630.6 L613.5 631.7 L614.5 633.2 L615.4 634.9 L616.4 637.0 L617.4 639.1 L618.3 641.0 L619.3 642.7 L620.2 643.8 L621.2 644.3 L622.2 644.0 L623.1 643.2 L624.1 641.8 L625.0 640.0 L626.0 638.2 L627.0 636.4 M412.0 770.1 L413.0 771.6 L414.0 772.6 L415.0 773.2 L416.0 773.7 L417.0 774.2 L418.0 775.1 L419.0 776.7 L420.0 778.9 L421.0 781.7 L422.0 784.6 L423.0 787.3 L424.0 789.4 L425.0 790.6 L426.0 790.8 L427.0 790.0 L428.0 788.5 M515.5 762.4 L516.6 763.6 L517.7 764.6 L518.8 765.4 L519.9 765.9 L521.0 766.0 L522.1 765.6 L523.2 764.7 L524.3 763.4 L525.4 761.9 L526.5 760.2 L527.6 758.5 L528.7 756.9 L529.8 755.6 L531.0 754.5 L532.1 753.9 L533.2 753.6 M440.9 652.9 L441.6 653.0 L442.3 653.0 L443.1 653.1 L443.8 653.3 L444.5 653.7 L445.2 654.2 L445.9 654.9 L446.6 655.8 L447.4 656.8 L448.1 657.9 L448.8 659.1 L449.5 660.3 L450.2 661.4 L450.9 662.5 L451.6 663.3 L452.4 664.0 M481.3 787.8 L482.3 787.9 L483.4 788.5 L484.5 789.4 L485.5 790.8 L486.6 792.4 L487.7 794.0 L488.7 795.4 L489.8 796.3 L490.8 796.6 L491.9 796.3 L493.0 795.3 L494.0 793.8 L495.1 792.0 L496.2 790.2 L497.2 788.6 L498.3 787.4 M558.8 717.1 L559.9 718.5 L561.0 719.9 L562.1 720.9 L563.2 721.3 L564.3 720.8 L565.4 719.6 L566.5 717.5 L567.7 715.0 L568.8 712.4 L569.9 709.9 L571.0 707.9 L572.1 706.4 L573.2 705.6 L574.3 705.1 L575.4 704.9 L576.5 704.6 M620.5 714.0 L621.9 715.0 L623.2 716.2 L624.6 717.4 L626.0 718.0 L627.3 718.2 L628.7 718.2 L630.1 718.4 L631.4 719.2 L632.8 721.0 L634.2 723.7 L635.5 727.0 L636.9 730.3 L638.3 733.0 L639.6 734.5 L641.0 734.9 L642.4 734.0 M514.6 650.5 L515.8 647.6 L517.0 645.8 L518.2 645.2 L519.3 645.6 L520.5 646.3 L521.7 646.9 L522.9 647.0 L524.0 646.4 L525.2 645.4 L526.4 644.7 L527.6 644.6 L528.7 645.7 L529.9 647.9 L531.1 650.8 L532.3 653.9 L533.5 656.3 M631.9 713.9 L632.6 714.6 L633.3 715.0 L634.0 715.4 L634.7 715.5 L635.4 715.5 L636.1 715.4 L636.9 715.2 L637.6 714.9 L638.3 714.6 L639.0 714.5 L639.7 714.4 L640.4 714.5 L641.1 714.8 L641.8 715.3 L642.5 716.0 L643.2 716.9 M413.1 599.7 L414.3 596.6 L415.5 594.5 L416.8 593.6 L418.0 593.9 L419.2 594.9 L420.4 595.9 L421.6 596.5 L422.8 596.5 L424.0 596.0 L425.2 595.8 L426.4 596.3 L427.6 597.9 L428.8 600.8 L430.1 604.5 L431.3 608.4 L432.5 611.8 M587.4 693.0 L587.9 693.2 L588.4 693.4 L589.0 693.8 L589.5 694.2 L590.0 694.7 L590.6 695.3 L591.1 695.9 L591.6 696.7 L592.1 697.4 L592.7 698.2 L593.2 699.0 L593.7 699.7 L594.2 700.5 L594.8 701.2 L595.3 701.7 L595.8 702.2 M522.6 637.8 L523.1 638.3 L523.6 639.0 L524.2 639.7 L524.7 640.5 L525.3 641.4 L525.8 642.4 L526.4 643.5 L526.9 644.6 L527.5 645.7 L528.0 646.8 L528.6 647.7 L529.1 648.6 L529.7 649.3 L530.2 649.8 L530.8 650.1 L531.3 650.2 M599.7 710.5 L600.6 711.1 L601.5 711.6 L602.4 712.0 L603.3 712.4 L604.2 712.8 L605.1 713.2 L606.0 713.7 L606.9 714.3 L607.8 715.1 L608.7 716.1 L609.6 717.1 L610.5 718.4 L611.4 719.8 L612.3 721.2 L613.2 722.7 L614.1 724.2"/><path id="tof" d="M403.7 757.5 L404.8 758.9 L406.0 760.1 L407.1 760.8 L408.2 761.1 L409.3 761.2 L410.5 761.3 L411.6 761.8 L412.7 762.7 L413.9 764.3 L415.0 766.4 L416.1 768.8 L417.2 771.4 L418.4 773.7 L419.5 775.4 L420.6 776.4 L421.7 776.6 M559.4 674.9 L560.1 675.4 L560.9 676.0 L561.6 676.7 L562.4 677.5 L563.1 678.2 L563.9 678.9 L564.6 679.5 L565.4 680.0 L566.1 680.4 L566.9 680.6 L567.6 680.6 L568.4 680.4 L569.1 680.0 L569.9 679.4 L570.6 678.7 L571.4 677.9 M638.9 653.2 L639.5 653.6 L640.1 654.1 L640.6 654.6 L641.2 655.2 L641.8 655.7 L642.3 656.3 L642.9 656.9 L643.5 657.4 L644.0 658.0 L644.6 658.5 L645.2 658.9 L645.7 659.3 L646.3 659.7 L646.9 660.0 L647.4 660.2 L648.0 660.3 M631.5 645.1 L632.9 645.1 L634.2 645.5 L635.6 646.4 L637.0 647.4 L638.4 648.6 L639.8 649.7 L641.2 650.6 L642.6 651.1 L643.9 651.3 L645.3 651.3 L646.7 651.0 L648.1 650.6 L649.5 650.4 L650.9 650.4 L652.3 650.8 L653.7 651.6 M581.1 744.1 L581.7 744.3 L582.4 744.6 L583.0 744.9 L583.6 745.3 L584.2 745.7 L584.9 746.1 L585.5 746.5 L586.1 747.0 L586.8 747.3 L587.4 747.7 L588.0 747.9 L588.6 748.1 L589.3 748.2 L589.9 748.2 L590.5 748.1 L591.2 747.9 M520.6 751.3 L522.1 752.4 L523.7 752.0 L525.2 750.3 L526.8 747.5 L528.3 744.6 L529.9 742.3 L531.4 741.1 L533.0 741.0 L534.5 741.6 L536.1 742.2 L537.6 742.2 L539.2 741.4 L540.7 740.0 L542.2 738.7 L543.8 738.2 L545.3 739.1 M450.9 655.3 L452.2 650.9 L453.6 647.3 L455.0 644.9 L456.4 644.0 L457.8 644.2 L459.1 644.7 L460.5 644.9 L461.9 644.5 L463.3 643.7 L464.7 643.1 L466.1 643.3 L467.4 644.9 L468.8 647.9 L470.2 651.9 L471.6 656.0 L473.0 659.3 M457.9 706.0 L458.5 704.9 L459.1 703.7 L459.6 702.5 L460.2 701.4 L460.8 700.2 L461.4 699.2 L461.9 698.2 L462.5 697.3 L463.1 696.5 L463.7 695.8 L464.3 695.3 L464.8 694.9 L465.4 694.6 L466.0 694.4 L466.6 694.3 L467.1 694.3 M416.5 751.2 L417.1 751.1 L417.8 751.2 L418.5 751.4 L419.1 751.8 L419.8 752.3 L420.5 752.9 L421.1 753.5 L421.8 754.2 L422.5 754.8 L423.1 755.4 L423.8 755.8 L424.5 756.2 L425.1 756.4 L425.8 756.5 L426.5 756.5 L427.1 756.3 M457.2 637.5 L458.4 637.8 L459.5 637.4 L460.7 636.1 L461.8 634.1 L463.0 631.6 L464.2 629.0 L465.3 626.6 L466.5 624.7 L467.6 623.4 L468.8 622.8 L469.9 622.7 L471.1 622.8 L472.2 622.9 L473.4 622.8 L474.5 622.3 L475.7 621.4 M404.3 586.6 L405.6 585.7 L406.9 585.3 L408.1 585.5 L409.4 586.1 L410.7 586.9 L411.9 587.9 L413.2 588.8 L414.5 589.5 L415.8 590.0 L417.0 590.3 L418.3 590.5 L419.6 590.7 L420.8 591.1 L422.1 591.7 L423.4 592.7 L424.7 594.2 M530.4 601.9 L531.4 602.9 L532.5 603.7 L533.6 604.4 L534.7 604.7 L535.8 604.7 L536.9 604.4 L538.0 603.9 L539.1 603.3 L540.2 602.9 L541.3 602.7 L542.3 603.0 L543.4 603.6 L544.5 604.7 L545.6 606.2 L546.7 607.8 L547.8 609.3 M522.2 724.8 L523.5 725.8 L524.9 727.6 L526.3 729.8 L527.7 731.8 L529.1 732.8 L530.5 732.4 L531.8 730.8 L533.2 728.4 L534.6 725.9 L536.0 724.1 L537.4 723.2 L538.8 723.2 L540.1 723.7 L541.5 723.9 L542.9 723.4 L544.3 722.0 M674.1 763.5 L674.6 763.9 L675.1 764.4 L675.6 765.0 L676.0 765.6 L676.5 766.3 L677.0 766.9 L677.5 767.5 L678.0 768.1 L678.5 768.5 L679.0 768.8 L679.5 768.9 L679.9 768.9 L680.4 768.8 L680.9 768.4 L681.4 768.0 L681.9 767.3 M567.2 584.9 L567.7 584.6 L568.1 584.3 L568.6 584.2 L569.0 584.1 L569.5 584.0 L569.9 584.1 L570.4 584.1 L570.8 584.3 L571.3 584.5 L571.7 584.7 L572.2 584.9 L572.6 585.2 L573.1 585.4 L573.5 585.7 L574.0 585.9 L574.4 586.1 M657.8 631.1 L658.4 630.9 L659.0 630.6 L659.6 630.4 L660.2 630.2 L660.8 630.1 L661.4 630.2 L662.0 630.5 L662.6 631.0 L663.2 631.8 L663.8 632.7 L664.4 633.8 L665.0 635.0 L665.5 636.2 L666.1 637.2 L666.7 638.1 L667.3 638.8 M559.9 689.6 L560.5 690.4 L561.1 691.2 L561.6 691.8 L562.2 692.3 L562.8 692.6 L563.3 692.8 L563.9 692.8 L564.5 692.8 L565.0 692.7 L565.6 692.6 L566.2 692.6 L566.7 692.7 L567.3 692.9 L567.9 693.3 L568.4 693.9 L569.0 694.8 M568.0 749.1 L568.9 749.2 L569.7 749.2 L570.5 749.4 L571.3 749.9 L572.1 750.7 L572.9 751.8 L573.7 753.2 L574.5 754.8 L575.4 756.5 L576.2 758.0 L577.0 759.1 L577.8 759.9 L578.6 760.1 L579.4 759.7 L580.2 758.8 L581.1 757.5 M585.9 616.8 L586.9 616.3 L588.0 616.0 L589.0 616.0 L590.0 616.2 L591.1 616.7 L592.1 617.3 L593.1 618.0 L594.2 618.7 L595.2 619.5 L596.2 620.2 L597.2 620.9 L598.3 621.4 L599.3 621.8 L600.3 622.1 L601.4 622.2 L602.4 622.3 M595.2 603.3 L596.0 604.1 L596.8 604.8 L597.6 605.3 L598.4 605.5 L599.2 605.6 L600.0 605.5 L600.8 605.4 L601.6 605.3 L602.4 605.3 L603.2 605.6 L604.0 606.1 L604.8 606.9 L605.6 608.0 L606.4 609.3 L607.3 610.8 L608.1 612.4 M663.5 630.6 L664.7 631.8 L665.8 632.4 L667.0 632.3 L668.2 631.7 L669.3 630.8 L670.5 630.2 L671.6 630.1 L672.8 630.8 L674.0 632.3 L675.1 634.2 L676.3 636.2 L677.4 637.7 L678.6 638.5 L679.7 638.3 L680.9 637.1 L682.1 635.5 M403.5 785.1 L404.9 784.6 L406.5 784.8 L408.1 785.3 L409.7 786.0 L411.3 786.6 L412.8 787.0 L414.4 786.9 L416.0 786.6 L417.6 785.9 L419.2 785.2 L420.8 784.7 L422.3 784.6 L423.9 784.9 L425.5 785.9 L427.1 787.4 L428.7 789.3 M435.4 616.1 L436.2 616.2 L437.0 616.2 L437.8 616.1 L438.6 616.0 L439.3 615.9 L440.1 615.8 L440.9 615.8 L441.7 616.0 L442.5 616.3 L443.3 616.7 L444.1 617.3 L444.9 618.0 L445.7 618.9 L446.4 619.9 L447.2 621.0 L448.0 622.0 M403.5 607.0 L403.5 604.5 L403.5 602.4 L404.6 600.7 L406.2 599.8 L407.7 599.4 L409.3 599.6 L410.8 600.3 L412.3 601.0 L413.9 601.8 L415.4 602.4 L416.9 602.7 L418.5 602.8 L420.0 602.7 L421.5 602.7 L423.1 602.9 L424.6 603.7 M493.7 754.2 L494.2 754.0 L494.6 753.7 L495.1 753.2 L495.6 752.7 L496.0 752.1 L496.5 751.5 L497.0 750.7 L497.4 749.9 L497.9 749.1 L498.4 748.2 L498.9 747.3 L499.3 746.3 L499.8 745.4 L500.3 744.5 L500.7 743.6 L501.2 742.8 M544.1 624.8 L545.0 623.6 L545.8 622.2 L546.7 620.7 L547.6 619.2 L548.4 617.8 L549.3 616.5 L550.2 615.5 L551.0 614.7 L551.9 614.2 L552.8 614.0 L553.6 614.0 L554.5 614.2 L555.4 614.5 L556.2 614.8 L557.1 615.2 L558.0 615.5 M451.2 598.9 L452.3 600.1 L453.5 600.9 L454.6 601.2 L455.8 600.9 L456.9 600.3 L458.1 599.6 L459.2 599.2 L460.4 599.3 L461.5 600.1 L462.7 601.6 L463.8 603.5 L465.0 605.5 L466.1 607.1 L467.3 608.2 L468.4 608.5 L469.6 607.9 M625.5 705.7 L626.9 706.4 L628.2 707.9 L629.6 709.3 L631.0 710.1 L632.4 710.2 L633.8 710.2 L635.2 710.9 L636.6 712.9 L638.0 716.2 L639.4 720.3 L640.8 724.2 L642.2 726.9 L643.6 727.9 L645.0 727.2 L646.4 725.6 L647.8 723.9 M464.4 762.3 L465.3 762.3 L466.1 762.1 L466.9 761.9 L467.7 761.8 L468.5 761.8 L469.4 762.1 L470.2 762.7 L471.0 763.7 L471.8 765.0 L472.7 766.4 L473.5 767.9 L474.3 769.3 L475.1 770.5 L475.9 771.2 L476.8 771.6 L477.6 771.4 M506.3 708.3 L507.4 709.3 L508.5 710.7 L509.6 712.4 L510.6 714.4 L511.7 716.4 L512.8 718.3 L513.9 719.7 L515.0 720.4 L516.1 720.5 L517.2 719.7 L518.3 718.3 L519.4 716.5 L520.5 714.4 L521.6 712.4 L522.7 710.6 L523.8 709.2 M529.6 604.1 L530.9 603.2 L532.3 601.8 L533.6 600.1 L534.9 598.1 L536.2 596.0 L537.5 594.0 L538.9 592.2 L540.2 590.8 L541.5 589.8 L542.8 589.2 L544.1 589.0 L545.5 589.1 L546.8 589.3 L548.1 589.6 L549.4 589.8 L550.7 589.8 M593.2 737.1 L594.6 737.6 L595.9 737.4 L597.3 736.4 L598.7 734.5 L600.1 732.1 L601.5 729.3 L602.9 726.6 L604.3 724.2 L605.6 722.5 L607.0 721.5 L608.4 721.0 L609.8 720.9 L611.2 720.8 L612.6 720.6 L614.0 719.9 L615.3 718.7 M591.2 740.7 L592.2 740.8 L593.2 740.2 L594.3 739.1 L595.3 737.4 L596.3 735.4 L597.4 733.4 L598.4 731.5 L599.4 730.0 L600.5 729.1 L601.5 728.7 L602.5 728.8 L603.6 729.1 L604.6 729.6 L605.6 729.9 L606.7 729.9 L607.7 729.4 M482.6 761.6 L484.0 759.3 L485.3 756.8 L486.7 754.7 L488.0 753.2 L489.4 752.6 L490.7 752.9 L492.1 753.7 L493.4 754.7 L494.8 755.4 L496.1 755.6 L497.5 755.2 L498.8 754.5 L500.2 753.7 L501.5 753.4 L502.9 753.8 L504.2 755.2 M612.0 714.0 L613.3 713.9 L614.6 713.0 L616.0 711.4 L617.3 709.1 L618.6 706.3 L619.9 703.5 L621.2 700.7 L622.5 698.4 L623.8 696.6 L625.2 695.5 L626.5 694.8 L627.8 694.6 L629.1 694.4 L630.4 694.2 L631.7 693.7 L633.1 692.9 M404.5 792.4 L405.9 793.3 L407.3 794.8 L408.8 796.7 L410.2 798.7 L411.6 799.7 L413.1 799.7 L414.5 799.7 L416.0 799.7 L417.4 799.7 L418.8 797.8 L420.3 795.2 L421.7 792.5 L423.1 790.3 L424.6 788.7 L426.0 787.7 L427.5 787.0 M455.6 711.3 L456.3 711.8 L456.9 712.4 L457.5 713.0 L458.1 713.6 L458.8 714.1 L459.4 714.5 L460.0 714.9 L460.6 715.2 L461.3 715.5 L461.9 715.7 L462.5 715.8 L463.2 715.9 L463.8 716.0 L464.4 716.1 L465.0 716.3 L465.7 716.4 M452.8 712.1 L453.3 711.6 L453.8 711.1 L454.3 710.5 L454.8 709.9 L455.3 709.2 L455.8 708.4 L456.3 707.6 L456.8 706.8 L457.3 705.9 L457.8 705.1 L458.3 704.2 L458.7 703.3 L459.2 702.4 L459.7 701.6 L460.2 700.7 L460.7 699.9 M430.2 643.2 L430.8 643.7 L431.3 644.2 L431.9 644.8 L432.5 645.4 L433.0 645.9 L433.6 646.5 L434.2 647.0 L434.7 647.5 L435.3 647.9 L435.9 648.2 L436.4 648.5 L437.0 648.7 L437.6 648.9 L438.1 649.0 L438.7 649.1 L439.3 649.1 M479.5 621.1 L480.6 620.2 L481.7 619.0 L482.8 617.6 L483.9 616.0 L484.9 614.5 L486.0 613.0 L487.1 611.8 L488.2 610.8 L489.3 610.2 L490.4 609.8 L491.4 609.8 L492.5 610.1 L493.6 610.4 L494.7 610.9 L495.8 611.3 L496.9 611.6 M403.5 586.2 L403.5 586.3 L403.5 587.0 L404.7 588.2 L406.2 589.5 L407.6 590.9 L409.0 591.9 L410.4 592.6 L411.9 592.8 L413.3 592.7 L414.7 592.3 L416.1 591.9 L417.5 591.8 L419.0 592.1 L420.4 593.0 L421.8 594.5 L423.2 596.4 M403.5 731.1 L403.5 731.5 L403.5 731.6 L403.5 731.6 L403.5 731.6 L403.5 731.7 L403.7 731.9 L404.4 732.4 L405.1 733.1 L405.9 734.2 L406.6 735.5 L407.4 737.0 L408.1 738.6 L408.8 740.1 L409.6 741.5 L410.3 742.5 L411.0 743.1 M529.9 589.3 L530.9 587.4 L531.9 585.4 L533.0 583.6 L534.0 582.1 L535.0 580.8 L536.0 580.7 L537.0 580.7 L538.0 580.7 L539.0 580.7 L540.1 580.7 L541.1 580.7 L542.1 580.9 L543.1 581.3 L544.1 581.4 L545.1 581.4 L546.1 581.3 M436.3 683.6 L436.9 684.0 L437.4 684.2 L438.0 684.4 L438.5 684.6 L439.1 684.6 L439.6 684.7 L440.2 684.8 L440.7 684.9 L441.2 685.1 L441.8 685.4 L442.3 685.7 L442.9 686.2 L443.4 686.8 L444.0 687.5 L444.5 688.3 L445.1 689.2 M545.8 684.6 L546.8 683.7 L547.7 682.1 L548.7 679.9 L549.7 677.2 L550.7 674.3 L551.7 671.6 L552.7 669.3 L553.6 667.6 L554.6 666.4 L555.6 665.9 L556.6 665.7 L557.6 665.7 L558.5 665.6 L559.5 665.4 L560.5 664.8 L561.5 664.0 M542.6 590.2 L543.4 589.2 L544.3 588.4 L545.1 588.0 L546.0 587.8 L546.8 587.9 L547.7 588.2 L548.5 588.7 L549.4 589.2 L550.2 589.7 L551.1 590.2 L551.9 590.5 L552.7 590.7 L553.6 590.8 L554.4 590.7 L555.3 590.6 L556.1 590.3 M684.0 611.6 L684.4 611.7 L684.9 611.8 L684.9 611.7 L684.9 611.6 L684.9 611.3 L684.9 611.0 L684.9 610.5 L684.9 609.9 L684.9 609.3 L684.9 608.6 L684.9 607.8 L684.9 606.9 L684.9 606.0 L684.9 605.1 L684.9 604.2 L684.9 603.2 M466.0 735.3 L467.2 736.2 L468.3 737.5 L469.5 738.8 L470.6 739.7 L471.8 740.0 L472.9 739.8 L474.1 739.5 L475.3 739.6 L476.4 740.2 L477.6 741.8 L478.7 744.2 L479.9 747.1 L481.0 749.9 L482.2 752.3 L483.4 753.7 L484.5 754.0 M443.0 726.1 L444.4 727.3 L445.8 729.0 L447.2 730.6 L448.6 731.8 L450.0 732.3 L451.4 732.5 L452.8 733.0 L454.2 734.3 L455.6 736.8 L457.0 740.2 L458.4 744.1 L459.8 747.8 L461.2 750.5 L462.6 751.8 L464.0 751.8 L465.4 750.7 M656.5 715.8 L657.4 716.0 L658.2 716.2 L659.1 716.4 L659.9 716.9 L660.7 717.6 L661.6 718.7 L662.4 720.2 L663.2 721.9 L664.1 723.7 L664.9 725.4 L665.8 726.9 L666.6 728.0 L667.4 728.6 L668.3 728.5 L669.1 728.0 L670.0 726.9 M433.1 747.2 L433.7 747.9 L434.4 748.5 L435.0 748.8 L435.7 748.8 L436.3 748.4 L437.0 747.6 L437.7 746.4 L438.3 744.9 L439.0 743.2 L439.6 741.4 L440.3 739.6 L441.0 737.9 L441.6 736.4 L442.3 735.1 L442.9 734.2 L443.6 733.6 M509.1 714.9 L509.5 714.8 L510.0 714.4 L510.4 713.9 L510.9 713.3 L511.3 712.5 L511.8 711.6 L512.2 710.5 L512.7 709.4 L513.1 708.3 L513.6 707.1 L514.0 705.9 L514.5 704.7 L514.9 703.7 L515.4 702.7 L515.9 701.8 L516.3 701.0 M523.2 653.4 L524.1 654.3 L525.0 655.2 L526.0 655.9 L526.9 656.4 L527.8 656.8 L528.7 656.9 L529.6 657.0 L530.5 657.1 L531.4 657.3 L532.4 657.6 L533.3 658.2 L534.2 659.1 L535.1 660.2 L536.0 661.6 L536.9 663.3 L537.8 665.0 M529.5 686.5 L531.1 688.6 L532.7 690.1 L534.3 690.5 L535.9 690.0 L537.4 689.4 L539.0 689.4 L540.6 690.8 L542.2 693.4 L543.8 696.5 L545.3 699.1 L546.9 700.4 L548.5 700.0 L550.1 698.5 L551.6 696.8 L553.2 695.7 L554.8 695.6 M480.8 695.9 L481.9 696.7 L483.0 697.3 L484.1 697.8 L485.2 698.0 L486.3 698.0 L487.4 697.9 L488.5 697.5 L489.6 697.2 L490.7 696.8 L491.8 696.5 L492.9 696.4 L494.0 696.6 L495.1 697.0 L496.2 697.7 L497.2 698.6 L498.3 699.8 M589.0 767.6 L590.5 765.3 L591.9 763.4 L593.3 762.1 L594.8 761.4 L596.2 761.3 L597.7 761.6 L599.1 762.2 L600.5 762.9 L602.0 763.5 L603.4 763.9 L604.9 764.1 L606.3 764.0 L607.8 763.9 L609.2 763.8 L610.6 764.0 L612.1 764.6 M440.8 779.2 L441.2 779.4 L441.7 779.6 L442.2 779.6 L442.6 779.6 L443.1 779.6 L443.5 779.6 L444.0 779.7 L444.5 779.8 L444.9 780.0 L445.4 780.3 L445.8 780.7 L446.3 781.3 L446.8 782.0 L447.2 782.8 L447.7 783.7 L448.1 784.7 M660.6 687.3 L661.2 686.3 L661.7 685.4 L662.2 684.5 L662.7 683.7 L663.2 683.0 L663.8 682.4 L664.3 681.9 L664.8 681.5 L665.3 681.3 L665.8 681.2 L666.4 681.2 L666.9 681.2 L667.4 681.4 L667.9 681.6 L668.4 681.9 L669.0 682.3 M545.4 679.0 L545.9 678.1 L546.4 677.0 L547.0 675.9 L547.5 674.6 L548.0 673.3 L548.6 672.1 L549.1 670.9 L549.6 669.8 L550.1 668.9 L550.7 668.2 L551.2 667.6 L551.7 667.2 L552.3 667.0 L552.8 667.0 L553.3 667.1 L553.8 667.3 M522.0 763.6 L522.8 763.7 L523.7 763.4 L524.5 762.6 L525.3 761.4 L526.2 759.8 L527.0 758.0 L527.8 756.1 L528.7 754.3 L529.5 752.6 L530.3 751.3 L531.2 750.4 L532.0 749.9 L532.9 749.7 L533.7 749.7 L534.5 750.0 L535.4 750.2 M680.8 723.6 L681.5 723.0 L682.2 722.6 L682.9 722.5 L683.5 722.7 L684.2 723.0 L684.9 723.5 L684.9 724.1 L684.9 724.8 L684.9 725.4 L684.9 726.0 L684.9 726.5 L684.9 726.9 L684.9 727.3 L684.9 727.5 L684.9 727.6 L684.9 727.7 M437.4 758.6 L438.8 757.0 L440.2 755.9 L441.6 755.3 L443.0 755.2 L444.4 755.6 L445.8 756.4 L447.2 757.4 L448.6 758.4 L450.0 759.1 L451.4 759.5 L452.8 759.5 L454.2 759.1 L455.6 758.5 L457.0 757.9 L458.4 757.5 L459.8 757.4 M562.7 650.4 L563.7 649.7 L564.7 649.5 L565.7 649.8 L566.7 650.4 L567.7 651.2 L568.7 651.9 L569.7 652.5 L570.8 652.9 L571.8 653.1 L572.8 653.0 L573.8 652.9 L574.8 652.8 L575.8 653.0 L576.8 653.4 L577.8 654.3 L578.8 655.7 M437.1 731.1 L438.3 730.8 L439.5 731.1 L440.7 731.7 L441.9 732.6 L443.1 733.4 L444.3 734.0 L445.5 734.3 L446.7 734.2 L447.9 733.7 L449.1 733.1 L450.3 732.4 L451.5 731.9 L452.7 731.7 L453.9 732.0 L455.1 732.9 L456.3 734.2 M651.5 610.6 L652.1 611.3 L652.7 611.9 L653.3 612.6 L653.9 613.2 L654.4 613.8 L655.0 614.3 L655.6 614.7 L656.2 615.1 L656.8 615.3 L657.3 615.5 L657.9 615.6 L658.5 615.6 L659.1 615.6 L659.7 615.6 L660.2 615.7 L660.8 615.8 M425.3 645.4 L426.3 645.7 L427.4 645.4 L428.5 644.4 L429.6 642.7 L430.7 640.7 L431.8 638.4 L432.9 636.1 L433.9 634.1 L435.0 632.5 L436.1 631.5 L437.2 631.0 L438.3 631.0 L439.4 631.1 L440.4 631.3 L441.5 631.2 L442.6 630.9 M591.4 757.0 L592.3 755.9 L593.1 755.2 L594.0 754.9 L594.8 755.0 L595.7 755.4 L596.5 756.1 L597.4 756.9 L598.2 757.6 L599.1 758.3 L599.9 758.8 L600.8 759.1 L601.6 759.1 L602.5 759.0 L603.3 758.7 L604.2 758.4 L605.0 758.2 M616.9 605.9 L617.5 606.5 L618.1 607.0 L618.6 607.6 L619.2 608.2 L619.8 608.7 L620.3 609.3 L620.9 609.7 L621.5 610.1 L622.0 610.4 L622.6 610.6 L623.2 610.8 L623.7 610.9 L624.3 610.9 L624.9 610.9 L625.4 610.8 L626.0 610.7 M648.5 726.4 L650.1 728.5 L651.6 730.5 L653.2 731.8 L654.7 732.4 L656.3 732.9 L657.8 733.8 L659.4 735.8 L661.0 738.9 L662.5 742.8 L664.1 746.8 L665.6 749.9 L667.2 751.6 L668.7 751.6 L670.3 750.5 L671.8 748.8 L673.4 747.4 M664.0 787.9 L664.6 787.7 L665.1 787.6 L665.6 787.6 L666.2 787.7 L666.7 787.9 L667.2 788.2 L667.8 788.6 L668.3 789.1 L668.8 789.6 L669.4 790.2 L669.9 790.7 L670.4 791.3 L671.0 791.8 L671.5 792.3 L672.0 792.6 L672.5 792.9 M612.6 739.8 L613.3 738.8 L614.0 738.1 L614.7 737.8 L615.4 737.9 L616.1 738.2 L616.8 738.6 L617.5 739.1 L618.2 739.5 L618.9 739.8 L619.6 740.0 L620.3 740.1 L621.0 740.0 L621.7 739.8 L622.4 739.6 L623.1 739.6 L623.8 739.7 M481.1 754.5 L482.1 754.4 L483.2 755.0 L484.2 756.0 L485.3 757.2 L486.4 758.1 L487.4 758.6 L488.5 758.7 L489.5 758.6 L490.6 758.5 L491.6 758.7 L492.7 759.6 L493.8 761.1 L494.8 763.4 L495.9 766.2 L496.9 769.1 L498.0 771.8 M497.0 717.3 L498.2 716.9 L499.3 717.0 L500.4 717.7 L501.5 719.0 L502.6 720.8 L503.8 722.8 L504.9 724.4 L506.0 725.5 L507.1 725.6 L508.2 724.9 L509.3 723.5 L510.5 721.6 L511.6 719.9 L512.7 718.5 L513.8 717.8 L514.9 717.7 M470.9 717.1 L471.9 715.1 L472.8 712.9 L473.8 710.6 L474.7 708.3 L475.7 706.2 L476.6 704.3 L477.6 702.8 L478.5 701.7 L479.5 701.0 L480.5 700.6 L481.4 700.5 L482.4 700.5 L483.3 700.5 L484.3 700.5 L485.2 700.4 L486.2 700.0 M586.0 765.5 L586.4 765.4 L586.9 765.3 L587.4 765.4 L587.8 765.5 L588.3 765.7 L588.7 765.9 L589.2 766.2 L589.7 766.5 L590.1 766.8 L590.6 767.1 L591.0 767.4 L591.5 767.7 L592.0 768.0 L592.4 768.3 L592.9 768.5 L593.3 768.7 M434.9 614.6 L435.6 614.4 L436.3 613.8 L437.0 612.8 L437.7 611.4 L438.4 609.6 L439.1 607.7 L439.8 605.7 L440.6 603.7 L441.3 601.8 L442.0 600.2 L442.7 599.0 L443.4 598.0 L444.1 597.4 L444.8 597.1 L445.5 597.0 L446.3 597.0 M475.0 699.0 L475.6 698.6 L476.3 698.3 L477.0 698.4 L477.6 698.6 L478.3 699.0 L478.9 699.5 L479.6 700.1 L480.2 700.7 L480.9 701.3 L481.6 701.8 L482.2 702.2 L482.9 702.5 L483.5 702.6 L484.2 702.7 L484.8 702.7 L485.5 702.6 M634.8 708.5 L635.5 709.3 L636.3 709.9 L637.1 710.3 L637.8 710.5 L638.6 710.5 L639.4 710.4 L640.1 710.2 L640.9 710.1 L641.7 710.1 L642.4 710.4 L643.2 710.8 L644.0 711.6 L644.7 712.6 L645.5 713.9 L646.3 715.3 L647.0 716.8 M677.4 742.2 L678.0 742.5 L678.5 742.7 L679.1 742.7 L679.6 742.6 L680.2 742.4 L680.7 742.1 L681.3 741.9 L681.8 741.6 L682.4 741.3 L682.9 741.2 L683.4 741.2 L684.0 741.3 L684.5 741.5 L684.9 742.0 L684.9 742.6 L684.9 743.3 M418.8 732.1 L419.8 733.2 L420.8 734.4 L421.8 735.5 L422.8 736.3 L423.9 736.7 L424.9 736.7 L425.9 736.3 L426.9 735.4 L428.0 734.2 L429.0 732.9 L430.0 731.5 L431.0 730.2 L432.0 729.1 L433.1 728.4 L434.1 728.0 L435.1 728.1 M625.3 741.3 L626.7 742.0 L628.1 742.2 L629.4 741.6 L630.8 740.5 L632.2 738.7 L633.5 736.6 L634.9 734.4 L636.3 732.3 L637.7 730.5 L639.0 729.2 L640.4 728.4 L641.8 728.1 L643.2 728.1 L644.5 728.3 L645.9 728.6 L647.3 728.6 M564.8 678.9 L566.0 679.7 L567.1 680.3 L568.3 680.8 L569.5 681.0 L570.6 681.2 L571.8 681.2 L573.0 681.2 L574.1 681.2 L575.3 681.4 L576.5 681.8 L577.6 682.5 L578.8 683.4 L580.0 684.7 L581.2 686.1 L582.3 687.7 L583.5 689.3 M457.9 771.7 L458.7 772.7 L459.5 773.3 L460.3 773.6 L461.2 773.5 L462.0 773.2 L462.8 772.8 L463.6 772.3 L464.5 772.1 L465.3 772.1 L466.1 772.5 L466.9 773.3 L467.8 774.5 L468.6 775.9 L469.4 777.5 L470.2 779.0 L471.1 780.3 M614.2 678.6 L615.5 678.4 L616.8 678.7 L618.1 679.3 L619.4 680.1 L620.7 680.7 L622.0 681.0 L623.3 680.9 L624.6 680.4 L625.9 679.6 L627.2 678.6 L628.5 677.9 L629.8 677.4 L631.1 677.5 L632.4 678.1 L633.7 679.3 L635.0 680.8 M632.3 711.2 L633.4 712.2 L634.4 712.9 L635.4 713.3 L636.5 713.6 L637.5 713.9 L638.6 714.5 L639.6 715.3 L640.7 716.6 L641.7 718.3 L642.8 720.3 L643.8 722.6 L644.9 724.7 L645.9 726.7 L647.0 728.2 L648.0 729.0 L649.1 729.2"/></defs>
<g clip-path="url(#clipf)">
<g filter="url(#parula)">
<rect x="400.5" y="577.0" width="287.4" height="226.4" fill="#000"/>
<g class="ln" filter="url(#b03)" stroke="#0d0d0d" stroke-width="0.8"><use href="#tef"/><use href="#tof"/></g>
<use href="#tef" class="ln" filter="url(#b03)" stroke="#161616" stroke-width="0.7" stroke-dasharray="5 9 8 14 3 11"/>
</g>
<g filter="url(#b03)">
<use href="#rf" class="ln2" stroke="#5a8cc4" stroke-opacity="0.7" stroke-width="0.8"/>
<use href="#rf" class="ln2" stroke="#35b8c8" stroke-opacity="0.8" stroke-width="0.8" stroke-dasharray="2.2 5.1 1.3 7.7 3.1 4.3"/>
<use href="#rf" class="ln2" stroke="#b8b860" stroke-opacity="0.8" stroke-width="0.8" stroke-dasharray="1.4 9.3 2.1 6.2 0.9 12.6" stroke-dashoffset="4"/>
<use href="#rf" class="ln2" stroke="#e09a48" stroke-opacity="0.8" stroke-width="0.8" stroke-dasharray="1.1 14.9 1.7 10.3 0.8 19.2" stroke-dashoffset="9"/>
</g>
<path class="ln2" filter="url(#b03)" stroke="#dca24a" stroke-opacity="0.85" stroke-width="0.9" stroke-dasharray="3.5 1.8 4.5" d="M517.3 713.1 L527.4 712.4"/>
</g>
<path class="ax" d="M431.7 800.4 v-2.8 M431.7 580.0 v2.8 M459.8 800.4 v-2.8 M459.8 580.0 v2.8 M488.0 800.4 v-2.8 M488.0 580.0 v2.8 M516.2 800.4 v-2.8 M516.2 580.0 v2.8 M544.3 800.4 v-2.8 M544.3 580.0 v2.8 M572.5 800.4 v-2.8 M572.5 580.0 v2.8 M600.7 800.4 v-2.8 M600.7 580.0 v2.8 M628.8 800.4 v-2.8 M628.8 580.0 v2.8 M657.0 800.4 v-2.8 M657.0 580.0 v2.8 M403.5 778.4 h2.8 M684.9 778.4 h-2.8 M403.5 756.3 h2.8 M684.9 756.3 h-2.8 M403.5 734.3 h2.8 M684.9 734.3 h-2.8 M403.5 712.2 h2.8 M684.9 712.2 h-2.8 M403.5 690.2 h2.8 M684.9 690.2 h-2.8 M403.5 668.2 h2.8 M684.9 668.2 h-2.8 M403.5 646.1 h2.8 M684.9 646.1 h-2.8 M403.5 624.1 h2.8 M684.9 624.1 h-2.8 M403.5 602.0 h2.8 M684.9 602.0 h-2.8"/>
<rect class="ax" x="403.5" y="580.0" width="281.4" height="220.4"/>
<g class="tk" text-anchor="middle">
<text x="403.5" y="813.2">0</text>
<text x="431.7" y="813.2">0.5</text>
<text x="459.8" y="813.2">1</text>
<text x="488.0" y="813.2">1.5</text>
<text x="516.2" y="813.2">2</text>
<text x="544.3" y="813.2">2.5</text>
<text x="572.5" y="813.2">3</text>
<text x="600.7" y="813.2">3.5</text>
<text x="628.8" y="813.2">4</text>
<text x="657.0" y="813.2">4.5</text>
</g>
<g class="tk" text-anchor="end">
<text x="399.8" y="803.7">0</text>
<text x="399.8" y="781.7">10</text>
<text x="399.8" y="759.6">20</text>
<text x="399.8" y="737.6">30</text>
<text x="399.8" y="715.5">40</text>
<text x="399.8" y="693.5">50</text>
<text x="399.8" y="671.5">60</text>
<text x="399.8" y="649.4">70</text>
<text x="399.8" y="627.4">80</text>
<text x="399.8" y="605.3">90</text>
<text x="399.8" y="583.3">100</text>
</g>
<text class="lb" style="font-size:8.85px" text-anchor="middle" x="544.0" y="825.0">Time / S</text>
<text class="lb" text-anchor="middle" transform="translate(380.5 690.3) rotate(-90)">Frequency / Hz</text>
<text class="tt" text-anchor="middle" x="544.3" y="573.9">The 8th order FMSST</text>
<text class="pl" style="font-size:14.3px" x="366.9" y="574.8">(f)</text>
</svg>
</body>
</html>
